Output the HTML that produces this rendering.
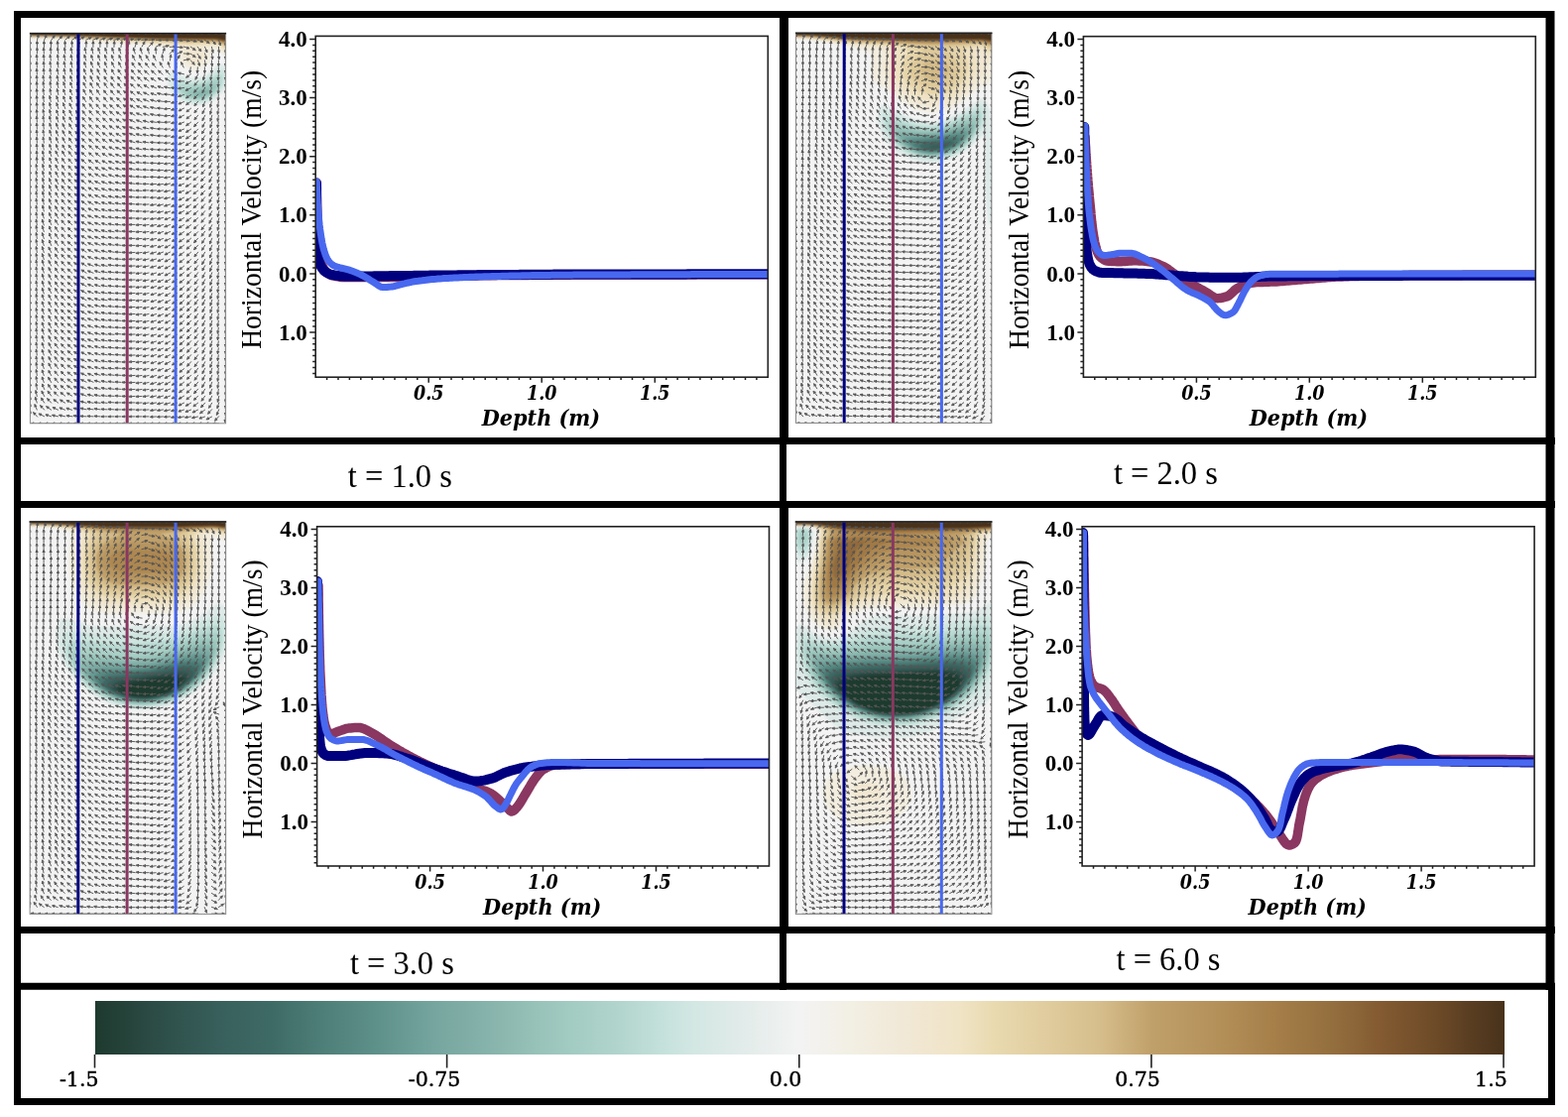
<!DOCTYPE html><html><head><meta charset="utf-8"><style>html,body{margin:0;padding:0;background:#fff;}svg{display:block}.yl{font-family:"Liberation Serif",serif;font-size:28.6px}.tk{font-family:"Liberation Serif",serif;font-weight:bold;font-size:23px}.xt{font-family:"DejaVu Serif Condensed","DejaVu Serif",serif;font-stretch:condensed;font-style:italic;font-weight:bold;font-size:19.5px}.xl{font-family:"DejaVu Serif Condensed","DejaVu Serif",serif;font-stretch:condensed;font-style:italic;font-weight:bold;font-size:23.1px}.cap{font-family:"Liberation Serif",serif;font-size:33.8px}.cb{font-family:"DejaVu Serif",serif;font-size:20.5px;stroke:#000;stroke-width:.45px}</style></head><body>
<svg width="1581" height="1126" viewBox="0 0 1581 1126">
<style>.sh{stroke-width:1.9}.h1{stroke-width:5.8}.h2{stroke-width:4}.h3{stroke-width:2.4}.dt{stroke-width:2.6}</style><defs><filter id="bl" x="-5%" y="-5%" width="110%" height="110%"><feGaussianBlur stdDeviation="0.9"/></filter><path id="a00" d="M-1 1l9-10m5 9l13-1m1 1l13 0m1 0l13 0m1 0l13 0m1 0l13 0m1 0l13 0m2 0l13 0m1 0l13 0m1 0l13 0m1 0l13 0m1 0l13 0m1 0l13 0m1 0l13 0m1 0l13 0m1 0l13 0m1 0l13 0m1 0l13 0m2 0l13 0m1 0l13 0m1 0l13 0m1 0l13 0m1 0l13 0m1 0l13 0m1 0l13 0m1 0l13 0m1 0l13 0m1 0l13 1m2-2l9 9m-403 7l0-13m14 13l3-13m11 13l5-12m9 12l8-11m6 11l9-10m5 9l10-8m4 8l11-7m3 7l12-7m2 7l12-6m2 6l12-5m2 5l12-4m2 4l13-4m1 4l13-3m1 3l13-3m1 3l13-2m1 2l13-2m1 2l13-1m1 1l13-1m2 1l13 0m1 0l13 0m1 0l13 1m1-1l13 1m1-1l13 2m1-2l13 3m1-4l12 5m2-5l11 8m4-8l8 10m6-10l4 12m10-12l0 13m-394 3l0-13m14 13l0-13m14 13l0-13m14 13l0-13m14 13l-1-13m16 13l-1-13m15 13l-1-13m15 13l-1-13m15 13l0-13m14 13l0-13m14 13l0-13m14 13l0-13m14 13l1-13m13 13l2-13m12 13l3-13m11 13l4-12m10 11l6-11m8 11l9-10m5 10l11-6m3 6l13-3m1 3l13-1m1 1l13 1m1-2l12 4m2-4l11 8m3-8l8 10m7-10l5 12m9-12l3 13m11-13l1 13m13-13l0 13m-394 2l0-13m14 13l0-13m14 13l-1-13m15 13l-1-13m16 13l-2-13m16 13l-2-13m16 13l-3-13m17 13l-3-13m17 13l-3-13m17 13l-3-13m17 13l-4-13m18 13l-4-13m18 13l-4-13m18 13l-4-13m19 13l-4-13m18 13l-4-13m18 13l-4-13m18 13l-3-13m17 13l-1-13m14 13l4-12m10 12l9-9m5 9l12-5m2 4l13 1m1-1l11 8m3-8l7 11m8-12l4 13m10-13l2 13m12-13l1 13m13-13l0 13m-394 3l0-13m14 13l-1-13m15 13l-1-13m15 13l-2-13m17 13l-2-13m16 13l-3-13m17 13l-3-13m17 13l-4-13m18 13l-4-13m18 13l-4-12m18 12l-4-12m18 12l-5-13m19 13l-5-12m20 12l-5-12m19 12l-5-12m19 12l-6-12m20 12l-6-12m20 12l-7-12m21 12l-6-12m20 12l-2-13m16 13l2-13m11 13l7-12m7 11l13-3m1 2l9 10m6-10l4 12m10-12l2 13m12-13l1 13m13-13l0 13m14-13l0 13m-394 3l0-13m14 13l-1-13m15 13l-1-13m15 13l-2-13m17 13l-2-13m16 13l-3-13m17 13l-3-13m17 13l-4-13m18 13l-4-12m18 12l-5-13m19 13l-5-12m19 12l-5-12m20 12l-6-12m20 12l-6-12m20 12l-6-11m20 11l-7-11m21 11l-8-11m22 11l-8-10m22 10l-8-10m22 10l-7-12m21 12l-4-12m18 12l-3-13m17 13l-6-12m20 10l-2 13m16-13l-1 13m15-13l0 13m14-13l0 13m14-13l0 13m14-13l0 13m-394 3l0-13m14 13l-1-13m15 13l-1-13m15 13l-2-13m17 13l-3-13m17 13l-3-13m17 13l-4-13m18 13l-4-12m18 12l-5-12m19 12l-5-12m19 12l-6-12m20 12l-6-12m21 12l-6-11m20 11l-7-11m21 11l-7-11m21 11l-8-10m22 10l-9-10m23 10l-10-9m24 9l-10-9m24 9l-10-9m24 9l-9-10m24 10l-10-9m24 8l-13-3m27 2l-11 8m25-8l-6 12m19-12l-3 13m17-13l-2 13m16-13l-1 13m15-13l0 13m-394 3l0-13m14 13l-1-13m15 13l-2-13m16 13l-2-13m17 13l-3-13m17 13l-4-13m18 13l-4-12m18 12l-5-13m19 13l-5-12m19 12l-6-12m20 12l-6-12m21 12l-7-11m21 11l-7-11m21 11l-8-11m22 10l-8-10m22 10l-9-10m23 10l-10-9m24 9l-11-8m25 8l-11-7m26 7l-12-7m26 7l-11-6m25 6l-12-5m26 5l-13 0m27-1l-12 6m26-6l-8 10m22-10l-5 12m18-12l-2 13m16-13l-1 13m15-13l0 13m-394 2l0-13m14 13l-1-13m15 13l-2-13m16 13l-2-13m17 13l-3-13m17 13l-4-13m18 13l-4-12m18 12l-5-12m19 12l-6-12m20 12l-6-11m20 11l-7-11m22 11l-7-11m21 11l-8-11m22 11l-8-10m22 10l-9-10m23 10l-10-9m24 9l-10-8m24 8l-11-7m26 7l-12-5m26 5l-12-4m26 4l-13-3m27 3l-13-1m27 0l-13 2m27-2l-12 6m26-6l-9 10m23-11l-6 12m19-12l-3 13m17-13l-1 13m15-13l0 13m-394 3l0-13m14 13l-1-13m15 13l-2-13m16 13l-2-13m17 13l-3-13m17 13l-4-12m18 12l-5-12m19 12l-6-12m20 12l-6-12m20 12l-7-11m21 11l-7-11m22 11l-8-10m22 10l-8-10m22 10l-9-10m23 10l-10-9m24 9l-10-8m24 8l-11-7m25 7l-12-6m27 6l-12-4m26 3l-13-3m27 3l-13-1m27 1l-13 1m27-1l-13 4m27-4l-11 7m25-8l-9 10m23-10l-6 12m19-12l-3 13m17-13l-1 13m15-13l0 13m-394 3l0-13m14 13l-1-13m15 13l-2-13m16 13l-3-13m18 13l-4-13m18 13l-4-12m18 12l-5-12m19 12l-6-12m20 12l-7-11m21 11l-7-11m21 11l-8-10m23 10l-8-10m22 10l-9-10m23 10l-10-9m24 9l-10-8m24 8l-11-8m25 8l-12-7m26 6l-12-5m27 5l-13-4m27 4l-13-2m27 2l-13 0m27 0l-13 3m27-3l-12 5m26-6l-11 8m25-8l-8 10m22-10l-5 12m18-12l-3 13m17-13l-2 13m16-13l0 13m-394 3l0-13m14 13l-1-13m15 13l-2-13m16 13l-3-13m18 13l-4-13m18 13l-5-13m19 13l-6-12m20 12l-6-11m20 11l-7-11m21 11l-8-11m22 11l-8-10m23 10l-9-10m23 10l-10-9m24 8l-10-8m24 8l-11-8m25 8l-11-7m25 7l-12-6m26 6l-12-5m27 5l-13-3m27 3l-13-1m27 1l-13 1m27-1l-13 3m27-4l-12 6m26-6l-10 8m24-8l-8 10m22-10l-6 12m19-12l-3 13m17-13l-2 13m16-13l0 13m-394 3l0-13m14 13l-1-13m15 13l-2-13m16 13l-3-13m18 13l-4-12m18 12l-5-12m19 12l-6-12m20 12l-7-11m21 11l-8-11m22 10l-8-10m23 10l-9-10m23 10l-10-9m24 9l-10-9m24 9l-11-8m25 8l-11-7m25 7l-11-6m25 6l-12-5m26 5l-12-4m27 4l-13-3m27 3l-13-1m27 1l-13 1m27-2l-13 3m27-3l-12 6m26-6l-10 8m24-8l-8 10m22-10l-6 12m20-12l-4 13m17-13l-2 13m16-13l0 13m-394 2l0-13m14 13l-1-13m15 13l-2-13m16 13l-3-13m18 13l-4-12m18 12l-5-12m19 12l-6-11m20 11l-7-11m21 11l-8-10m22 10l-9-10m24 10l-9-9m23 9l-10-9m24 9l-10-8m24 8l-11-7m25 7l-12-7m26 7l-12-6m26 6l-12-5m26 5l-13-4m28 4l-13-2m27 2l-13-1m27 0l-13 1m27-1l-13 3m27-3l-12 5m26-5l-11 8m25-8l-9 10m23-10l-6 11m20-12l-4 13m17-13l-2 13m16-13l0 13m-394 3l0-13m14 13l-1-13m15 13l-2-13m17 13l-4-13m18 13l-5-13m19 13l-6-12m20 12l-7-12m21 12l-8-11m22 11l-8-10m22 10l-9-10m24 10l-10-9m24 9l-10-8m24 8l-11-8m25 8l-11-7m25 7l-12-6m26 6l-12-5m26 5l-12-4m26 3l-13-3m28 3l-13-2m27 2l-13 0m27 0l-13 1m27-1l-13 3m27-3l-12 5m26-5l-11 7m25-7l-9 9m23-10l-7 11m21-11l-4 12m17-12l-2 13m16-13l0 13m-394 3l0-13m14 13l-1-13m15 13l-2-13m17 13l-4-13m18 13l-5-12m19 12l-6-12m20 12l-7-11m21 11l-8-10m22 10l-9-10m23 10l-9-9m24 9l-10-9m24 9l-11-8m25 8l-11-7m25 7l-11-6m25 5l-12-5m26 5l-12-5m26 5l-13-4m27 4l-13-3m28 3l-13-2m27 2l-13 0m27 0l-13 1m27-1l-13 3m27-3l-12 5m26-6l-11 7m25-7l-10 9m24-9l-7 11m21-11l-5 13m18-13l-2 13m16-13l0 13m-394 3l0-13m14 13l-1-13m15 13l-2-13m17 13l-4-13m18 13l-5-12m19 12l-6-12m20 12l-7-11m21 11l-8-10m22 10l-9-10m24 10l-10-9m24 8l-10-8m24 8l-11-8m25 8l-11-7m25 7l-12-6m26 6l-12-5m26 5l-12-4m26 4l-13-3m27 3l-13-2m28 2l-13-1m27 1l-13 0m27 0l-13 1m27-1l-13 3m27-4l-13 5m27-5l-12 7m26-7l-10 9m24-9l-8 11m22-11l-5 12m18-12l-2 13m16-13l0 13m-394 3l0-13m14 13l-1-13m15 13l-3-13m18 13l-4-12m18 12l-5-12m19 12l-6-11m20 11l-8-11m22 10l-8-10m22 10l-9-9m24 9l-10-9m24 9l-11-8m25 8l-11-7m25 7l-11-6m25 6l-12-5m26 5l-12-5m26 5l-13-4m27 4l-13-3m27 3l-13-2m28 2l-13-1m27 1l-13 0m27-1l-13 2m27-2l-13 3m27-3l-13 5m27-5l-12 7m26-7l-10 9m24-9l-8 11m22-11l-5 12m18-12l-2 13m16-13l0 13m-394 3l0-13m14 13l-1-13m15 13l-3-13m18 12l-4-12m18 12l-6-12m20 12l-7-12m21 12l-8-11m22 11l-9-10m23 10l-10-9m25 9l-10-8m24 8l-11-8m25 8l-11-7m25 7l-12-6m26 6l-12-5m26 5l-12-4m26 4l-13-3m27 3l-13-3m27 3l-13-2m28 2l-13-1m27 0l-13 0m27 0l-13 2m27-2l-13 3m27-3l-13 5m27-5l-11 6m25-6l-10 8m24-8l-8 10m22-10l-6 12m20-13l-3 13m16-13l0 13m-394 3l0-13m14 13l-1-13m15 13l-3-13m18 13l-4-12m18 12l-6-12m20 12l-7-11m21 11l-8-10m22 10l-9-10m23 10l-10-9m25 9l-11-8m25 8l-11-7m25 7l-11-6m25 6l-12-5m26 5l-12-5m26 5l-13-4m27 4l-13-3m27 2l-13-2m27 2l-13-1m28 1l-13 0m27 0l-13 1m27-1l-13 2m27-2l-13 3m27-3l-13 5m27-5l-11 6m25-6l-10 8m24-9l-8 10m22-10l-6 12m20-12l-3 13m16-13l0 13m-394 3l0-13m14 13l-2-13m16 13l-3-13m18 13l-4-12m18 12l-6-12m20 12l-7-11m21 11l-8-10m22 10l-9-9m23 9l-10-9m25 9l-11-8m25 8l-11-7m25 7l-12-6m26 5l-12-5m26 5l-12-4m26 4l-13-3m27 3l-13-3m27 3l-13-2m27 2l-13-1m28 1l-13 0m27 0l-13 1m27-1l-13 2m27-2l-13 3m27-3l-13 5m27-5l-11 6m25-7l-10 8m24-8l-8 10m22-10l-6 12m20-12l-3 13m16-13l0 13m-394 3l0-13m14 13l-2-13m16 13l-3-13m18 13l-4-12m18 12l-6-12m20 12l-7-11m21 11l-8-10m22 10l-9-9m23 9l-10-8m25 7l-11-7m25 7l-12-7m26 7l-12-5m26 5l-12-5m26 5l-13-4m27 4l-13-3m27 3l-13-2m27 2l-13-1m27 1l-13 0m28 0l-13 0m27 0l-13 1m27-1l-13 2m27-2l-13 4m27-5l-12 5m26-5l-11 6m25-6l-10 8m24-8l-9 10m23-10l-6 12m20-12l-3 13m16-13l0 13m-394 3l0-13m14 13l-2-13m16 13l-3-13m18 13l-5-13m19 13l-6-12m20 12l-7-11m21 10l-8-10m22 10l-10-9m24 9l-10-8m25 8l-11-7m25 7l-12-6m26 6l-12-5m26 5l-12-4m26 4l-13-4m27 4l-13-3m27 3l-13-2m27 2l-13-1m27 1l-13 0m28 0l-13 1m27-1l-13 2m27-3l-13 3m27-3l-13 4m27-4l-12 5m26-5l-12 7m26-7l-10 8m24-8l-9 10m23-10l-6 12m20-12l-3 13m16-13l0 13m-394 3l0-13m14 13l-2-13m16 13l-3-13m18 13l-5-13m19 12l-6-12m20 12l-8-11m22 11l-9-10m23 10l-10-9m25 9l-11-8m25 8l-11-7m25 7l-12-6m26 6l-12-5m26 5l-12-4m26 4l-13-3m27 3l-13-3m27 3l-13-2m27 2l-13-1m27 0l-13 0m28 0l-13 1m27-1l-13 2m27-2l-13 3m27-3l-12 4m26-4l-12 5m26-5l-12 7m26-7l-10 8m24-8l-9 10m23-10l-6 12m20-13l-3 13m16-13l0 13m-394 3l0-13m14 13l-2-13m16 13l-3-13m18 13l-5-12m19 12l-6-11m20 11l-8-11m22 11l-9-10m23 10l-10-9m25 9l-11-8m25 8l-11-7m25 7l-12-6m26 6l-12-5m26 5l-13-4m27 4l-13-3m27 2l-13-2m27 2l-13-1m27 1l-13 0m27 0l-13 0m28 0l-13 1m27-1l-13 2m27-2l-13 3m27-3l-12 4m26-4l-12 6m26-6l-11 7m25-7l-10 8m24-9l-8 10m22-10l-6 12m20-12l-3 13m16-13l0 13m-394 3l0-13m14 13l-2-13m16 13l-3-13m18 13l-5-12m19 12l-6-11m20 11l-8-11m22 11l-9-10m23 10l-10-9m25 9l-11-8m25 8l-12-7m26 6l-12-5m26 5l-12-4m26 4l-13-4m27 4l-13-3m27 3l-13-2m27 2l-13-1m27 1l-13 0m27 0l-13 1m28-1l-13 2m27-2l-13 3m27-3l-13 4m27-4l-13 5m27-5l-12 6m26-6l-11 7m25-8l-10 9m24-9l-8 10m22-10l-6 12m20-12l-3 13m16-13l0 13m-394 3l0-13m14 13l-2-13m16 13l-3-13m18 13l-5-12m19 12l-7-12m21 12l-8-10m22 10l-9-10m23 10l-10-8m25 8l-11-8m25 7l-11-6m25 6l-12-5m26 5l-12-4m26 4l-13-3m27 3l-13-3m27 3l-13-2m27 2l-13-1m27 1l-13 0m27 0l-13 1m28-1l-13 2m27-2l-13 3m27-3l-12 4m26-5l-12 5m26-5l-12 6m26-6l-11 7m25-7l-10 9m24-9l-8 10m22-10l-6 12m20-12l-3 13m16-13l0 13m-394 3l0-13m14 13l-2-13m16 13l-4-13m19 13l-5-12m19 12l-7-12m21 11l-8-10m22 10l-9-9m23 9l-10-8m25 8l-11-7m25 7l-12-6m26 6l-12-5m26 5l-12-4m26 4l-13-3m27 3l-13-2m27 2l-13-1m27 1l-13 0m27 0l-13 1m27-1l-13 2m28-2l-13 2m27-3l-13 3m27-3l-12 4m26-4l-12 5m26-5l-12 7m26-7l-11 8m25-8l-10 9m24-9l-8 10m22-10l-6 12m20-12l-3 13m16-13l0 13m-394 3l0-13m14 13l-2-13m16 13l-4-13m19 12l-5-12m19 12l-7-11m21 11l-8-10m22 10l-9-9m23 9l-10-8m25 8l-11-7m25 7l-12-6m26 6l-12-5m26 5l-12-4m26 4l-13-3m27 3l-13-2m27 2l-13-1m27 0l-13 0m27 0l-13 1m27-1l-13 2m28-2l-13 3m27-3l-13 4m27-4l-13 5m27-5l-12 6m26-6l-12 7m26-7l-11 8m25-8l-9 9m23-9l-8 11m22-11l-6 12m20-13l-3 13m16-13l0 13m-394 3l0-13m14 13l-2-13m16 13l-4-13m19 13l-5-12m19 12l-7-11m21 11l-8-10m22 10l-9-9m23 9l-10-8m25 8l-11-7m25 7l-12-6m26 6l-12-5m26 5l-13-4m27 4l-13-3m27 2l-13-2m27 2l-13-1m27 1l-13 0m27 0l-13 1m27-1l-13 2m28-2l-13 3m27-3l-12 4m26-4l-12 5m26-5l-12 6m26-6l-11 7m25-7l-10 8m24-8l-9 9m23-10l-8 11m22-11l-6 12m20-12l-3 13m16-13l0 13m-394 3l0-13m14 13l-2-13m16 13l-4-13m19 13l-5-12m19 12l-7-11m21 11l-8-10m22 10l-9-9m23 9l-10-8m25 8l-11-7m25 7l-12-6m26 6l-12-5m26 4l-13-4m27 4l-13-3m27 3l-13-2m27 2l-13-1m27 1l-13 0m27 0l-13 1m27-1l-13 2m28-2l-13 3m27-3l-12 4m26-4l-12 5m26-5l-11 6m25-6l-11 7m25-8l-10 9m24-9l-9 10m23-10l-7 11m21-11l-5 12m19-12l-3 13m16-13l0 13m-394 3l0-13m14 13l-2-13m16 13l-4-13m19 13l-5-12m19 12l-7-11m21 11l-8-10m22 10l-10-9m24 9l-10-8m25 7l-11-7m25 7l-12-6m26 6l-12-5m26 5l-13-4m27 4l-13-3m27 3l-13-2m27 2l-13 0m27 0l-13 0m27 0l-13 1m27-1l-13 2m28-2l-13 3m27-3l-12 4m26-5l-12 6m26-6l-12 7m26-7l-11 8m25-8l-10 9m24-9l-9 10m23-10l-7 11m21-11l-5 12m19-12l-3 13m16-13l0 13m-394 3l0-13m14 13l-2-13m16 13l-4-13m19 13l-6-12m20 12l-7-11m21 11l-8-10m22 9l-10-9m24 9l-10-8m25 8l-11-7m25 7l-12-6m26 6l-12-5m26 5l-13-4m27 4l-13-3m27 3l-13-1m27 1l-13 0m27 0l-13 1m27-1l-13 2m27-3l-13 3m28-3l-13 4m27-4l-13 5m27-5l-12 6m26-6l-12 7m26-7l-11 8m25-8l-10 9m24-9l-8 10m22-10l-7 11m21-11l-5 12m18-12l-2 13m16-13l0 13m-394 3l0-13m14 13l-2-13m16 13l-4-13m19 12l-6-12m20 12l-7-11m21 11l-8-10m22 10l-10-9m24 9l-11-8m26 8l-11-7m25 7l-12-6m26 6l-12-4m26 4l-13-3m27 3l-13-3m27 3l-13-1m27 1l-13 0m27-1l-13 1m27-1l-13 2m27-2l-13 3m28-3l-13 4m27-4l-12 5m26-5l-12 6m26-6l-11 7m25-7l-10 8m24-8l-9 9m23-9l-8 10m22-10l-7 12m21-13l-5 13m18-13l-2 13m16-13l0 13m-394 3l0-13m14 13l-2-13m16 13l-4-13m19 13l-6-12m20 12l-7-11m21 11l-8-10m22 10l-10-9m24 9l-11-8m26 8l-11-7m25 7l-12-5m26 5l-12-4m26 4l-13-3m27 2l-13-2m27 2l-13-1m27 1l-13 0m27 0l-13 1m27-1l-13 2m27-2l-13 3m28-3l-13 4m27-4l-12 5m26-5l-12 6m26-6l-11 7m25-7l-10 8m24-8l-9 9m23-10l-8 11m22-11l-6 11m20-11l-5 13m18-13l-2 13m16-13l0 13m-394 3l0-13m14 13l-2-13m16 13l-4-13m19 13l-6-12m20 12l-7-11m21 11l-8-10m22 10l-10-9m24 9l-11-8m26 8l-11-7m25 7l-12-5m26 4l-12-4m26 4l-13-3m27 3l-13-2m27 2l-13-1m27 1l-13 0m27 0l-13 1m27-1l-13 2m27-2l-13 3m28-3l-12 4m26-4l-12 5m26-5l-12 6m26-6l-11 7m25-8l-10 8m24-8l-9 9m23-9l-8 11m22-11l-6 12m20-12l-5 13m18-13l-2 13m16-13l0 13m-394 3l0-13m14 13l-2-13m16 13l-4-13m19 13l-6-12m20 12l-7-11m21 11l-9-10m23 10l-10-9m24 9l-11-8m26 7l-12-7m26 7l-12-5m26 5l-12-4m26 4l-13-3m27 3l-13-2m27 2l-13-1m27 1l-13 0m27 0l-13 1m27-1l-13 2m27-2l-13 3m28-3l-12 4m26-4l-12 5m26-6l-11 6m25-6l-11 7m25-7l-10 8m24-8l-9 10m23-10l-8 11m22-11l-6 12m20-12l-4 12m17-12l-2 13m16-13l0 13m-394 3l0-13m14 13l-2-13m16 13l-4-13m19 13l-6-12m20 12l-7-11m21 11l-9-10m23 9l-10-9m24 9l-11-8m26 8l-12-7m26 7l-12-5m26 5l-12-4m26 4l-13-3m27 3l-13-2m27 2l-13-1m27 1l-13 0m27 0l-13 1m27-1l-13 2m27-3l-13 3m28-3l-12 4m26-4l-12 5m26-5l-11 6m25-6l-11 8m25-8l-10 9m24-9l-9 10m23-10l-8 11m22-11l-6 12m20-12l-4 12m17-12l-2 13m16-13l0 13m-394 3l0-13m14 13l-2-13m16 13l-4-13m19 12l-6-12m20 12l-7-11m21 11l-9-10m23 10l-10-9m24 9l-11-8m26 8l-12-7m26 7l-12-5m26 5l-12-4m26 4l-13-3m27 3l-13-2m27 2l-13-1m27 1l-13 0m27-1l-13 1m27-1l-13 2m27-2l-13 3m28-3l-12 4m26-4l-12 5m26-5l-11 6m25-6l-11 8m25-8l-10 9m24-9l-9 10m23-10l-8 11m22-11l-6 12m20-12l-4 12m17-13l-2 13m16-13l0 13m-394 3l0-13m14 13l-2-13m16 13l-4-12m19 12l-6-12m20 12l-7-11m21 11l-9-10m23 10l-10-9m24 9l-11-8m26 8l-12-7m26 7l-12-5m26 5l-12-4m26 4l-13-3m27 2l-13-2m27 2l-13-1m27 1l-13 0m27 0l-13 1m27-1l-13 2m27-2l-13 3m28-3l-12 4m26-4l-12 5m26-5l-11 6m25-6l-11 8m25-8l-10 9m24-9l-9 10m23-11l-8 11m22-11l-6 12m20-12l-4 13m17-13l-2 13m16-13l0 13m-394 3l0-13m14 13l-2-13m16 13l-4-12m19 12l-6-12m20 12l-7-11m21 11l-9-10m23 10l-10-9m24 9l-11-8m26 8l-12-7m26 7l-12-5m26 4l-12-4m26 4l-13-3m27 3l-13-2m27 2l-13-1m27 1l-13 0m27 0l-13 1m27-1l-13 2m27-2l-13 3m28-3l-12 4m26-4l-12 5m26-5l-11 6m25-6l-11 8m25-9l-10 9m24-9l-9 10m23-10l-8 11m22-11l-6 12m20-12l-4 13m17-13l-2 13m16-13l0 13m-394 3l0-13m14 13l-2-13m16 13l-4-12m19 12l-6-12m20 12l-7-11m21 11l-9-10m23 10l-10-9m24 9l-11-8m26 8l-12-7m26 6l-12-5m26 5l-12-4m26 4l-13-3m27 3l-13-2m27 2l-13-1m27 1l-13 0m27 0l-13 1m27-1l-13 2m27-2l-13 3m28-3l-12 4m26-4l-12 5m26-6l-11 6m25-6l-11 8m25-8l-10 9m24-9l-9 10m23-10l-8 11m22-11l-6 12m20-12l-4 13m17-13l-2 13m16-13l0 13m-394 3l0-13m14 13l-2-13m16 13l-4-12m19 12l-6-12m20 12l-7-11m21 11l-9-10m23 9l-10-9m24 9l-11-8m26 8l-11-6m25 6l-12-5m26 5l-12-4m26 4l-13-3m27 3l-13-2m27 2l-13-1m27 1l-13 0m27 0l-13 1m27-1l-13 2m27-2l-13 3m28-4l-12 4m26-4l-12 5m26-5l-11 6m25-6l-11 8m25-8l-10 9m24-9l-9 10m23-10l-8 11m22-11l-6 12m20-12l-4 13m17-13l-2 13m16-13l0 13m-394 3l0-13m14 13l-2-13m16 13l-4-12m19 12l-6-12m20 11l-7-11m21 11l-9-10m23 10l-10-9m24 9l-11-8m26 8l-11-6m25 6l-12-5m26 5l-12-4m26 4l-13-3m27 3l-13-2m27 2l-13-1m27 1l-13 0m27-1l-13 1m27-1l-13 2m27-2l-13 3m28-3l-12 4m26-4l-12 5m26-5l-11 6m25-6l-11 8m25-8l-10 9m24-9l-9 10m23-10l-8 11m22-11l-6 12m20-12l-4 13m17-13l-2 13m16-13l0 13m-394 2l0-13m14 13l-2-13m16 13l-4-12m19 12l-6-12m20 12l-8-11m22 11l-9-10m23 10l-10-9m24 9l-11-8m26 8l-11-6m25 6l-12-5m26 5l-12-4m26 4l-13-3m27 3l-13-2m27 1l-13-1m27 1l-13 0m27 0l-13 1m27-1l-13 2m27-2l-13 3m28-3l-12 4m26-4l-12 5m26-5l-11 6m25-6l-11 8m25-8l-10 9m24-9l-9 10m23-11l-8 11m22-11l-6 12m20-12l-4 13m17-13l-2 13m16-13l0 13m-394 3l0-13m14 13l-2-13m16 13l-4-12m19 12l-6-12m20 12l-8-11m22 11l-9-10m23 10l-10-9m24 9l-11-8m26 8l-11-6m25 6l-12-5m26 4l-12-4m26 4l-13-3m27 3l-13-2m27 2l-13-1m27 1l-13 0m27 0l-13 1m27-1l-13 2m27-2l-13 3m28-3l-12 4m26-4l-12 5m26-5l-11 6m25-6l-11 8m25-9l-10 9m24-9l-9 10m23-10l-8 11m22-11l-6 12m20-12l-4 13m17-13l-2 13m16-13l0 13m-394 3l0-13m14 13l-2-13m16 13l-4-12m19 12l-6-12m20 12l-8-11m22 11l-9-10m23 10l-10-9m24 9l-11-8m26 7l-11-6m25 6l-12-5m26 5l-12-4m26 4l-13-3m27 3l-13-2m27 2l-13-1m27 1l-13 0m27 0l-13 1m27-1l-13 2m27-2l-13 3m28-3l-12 4m26-4l-12 5m26-6l-11 6m25-6l-11 8m25-8l-10 9m24-9l-9 10m23-10l-8 11m22-11l-6 12m20-12l-4 13m17-13l-2 13m16-13l0 13m-394 3l0-13m14 13l-2-13m16 13l-4-12m19 12l-6-12m20 12l-8-11m22 11l-9-10m23 9l-10-9m24 9l-11-7m26 7l-11-6m25 6l-12-5m26 5l-12-4m26 4l-13-3m27 3l-13-2m27 2l-13-1m27 1l-13 0m27 0l-13 1m27-1l-13 2m27-2l-13 3m28-4l-12 4m26-4l-12 5m26-5l-11 6m25-6l-11 7m25-7l-10 9m24-9l-9 10m23-10l-8 11m22-11l-6 12m20-12l-4 13m17-13l-2 13m16-13l0 13m-394 3l0-13m14 13l-2-13m16 13l-4-12m19 12l-6-12m20 11l-8-11m22 11l-9-10m23 10l-10-8m24 8l-11-7m26 7l-12-6m26 6l-12-5m26 5l-12-4m26 4l-13-3m27 3l-13-2m27 2l-13-1m27 1l-13 0m27-1l-13 1m27-1l-13 2m27-2l-13 3m28-3l-12 4m26-4l-12 5m26-5l-12 6m26-6l-11 7m25-7l-10 8m24-8l-9 10m23-10l-8 11m22-11l-6 12m20-12l-4 12m17-12l-2 13m16-13l0 13m-394 2l0-13m14 13l-2-13m16 13l-4-12m19 12l-6-12m20 12l-8-11m22 11l-9-10m23 10l-10-8m24 8l-11-7m26 7l-12-6m26 6l-12-5m26 5l-12-4m26 4l-13-3m27 3l-13-2m27 1l-13-1m27 1l-13 0m27 0l-13 1m27-1l-13 2m27-2l-13 3m28-3l-12 4m26-4l-12 5m26-5l-12 6m26-6l-11 7m25-7l-10 8m24-8l-9 10m23-11l-8 11m22-11l-6 12m20-12l-4 12m17-12l-2 13m16-13l0 13m-394 3l0-13m14 13l-2-13m16 13l-4-12m19 12l-6-11m20 11l-8-10m22 10l-9-9m23 9l-10-8m24 8l-11-7m26 7l-12-6m26 6l-12-5m26 4l-13-4m27 4l-13-3m27 3l-13-2m27 2l-13-1m27 1l-13 0m27 0l-13 1m27-1l-13 2m27-2l-13 3m28-3l-13 4m27-4l-12 5m26-5l-12 6m26-6l-11 7m25-7l-10 8m24-9l-9 9m23-9l-8 11m22-11l-6 11m20-11l-5 13m18-13l-2 13m16-13l0 13m-394 3l0-13m14 13l-2-13m16 13l-4-12m19 12l-7-12m21 12l-8-10m22 10l-10-9m24 9l-10-8m24 8l-11-7m26 6l-12-6m26 6l-12-5m26 5l-13-4m27 4l-13-3m27 3l-13-2m27 2l-13-1m27 1l-13 0m27 0l-13 1m27-1l-13 2m27-2l-13 3m28-3l-13 4m27-4l-13 5m27-6l-12 6m26-6l-12 7m26-7l-10 8m24-8l-10 9m24-9l-8 10m22-10l-7 12m21-12l-5 13m18-13l-2 13m16-13l0 13m-394 3l0-13m14 13l-2-13m17 13l-5-12m19 12l-7-11m21 11l-9-10m23 10l-10-9m24 8l-11-8m25 8l-11-6m26 6l-12-5m26 5l-12-4m26 4l-13-3m27 3l-13-3m27 3l-13-2m27 2l-13-1m27 1l-13 0m27 0l-13 1m27-1l-13 2m27-2l-13 2m28-2l-13 3m27-4l-12 4m26-4l-12 5m26-5l-11 6m25-6l-11 8m25-8l-10 9m24-9l-9 10m23-10l-7 11m21-11l-5 12m18-12l-2 13m16-13l0 13m-394 3l0-13m14 13l-3-13m18 13l-6-12m20 11l-8-11m22 11l-9-9m23 9l-10-8m24 8l-11-7m26 7l-12-6m26 6l-12-5m26 5l-13-4m27 4l-13-3m27 3l-13-2m27 2l-13-1m27 1l-13-1m27 1l-13 0m27 0l-13 1m27-1l-13 1m27-2l-13 2m28-2l-13 3m27-3l-13 4m27-4l-13 5m27-5l-12 6m26-6l-12 7m26-7l-10 8m24-8l-9 9m23-9l-8 11m22-11l-6 12m20-12l-3 13m16-13l0 13m-394 2l0-13m14 13l-4-13m19 13l-7-11m21 11l-9-10m23 10l-10-8m24 8l-11-7m25 7l-12-6m27 6l-12-5m26 5l-13-4m27 4l-13-3m27 3l-13-2m27 2l-13-2m27 1l-13-1m27 1l-13 0m27 0l-13 0m27 0l-13 0m27 0l-13 1m27-1l-13 2m28-2l-13 2m27-2l-13 3m27-3l-13 4m27-4l-13 5m27-5l-12 6m26-6l-12 7m26-7l-10 8m24-8l-9 10m23-10l-7 11m21-12l-4 13m17-13l0 13m-394 3l0-13m14 13l-5-12m20 12l-9-10m23 10l-11-8m25 8l-12-6m26 6l-12-5m26 5l-12-4m27 3l-13-3m27 3l-13-3m27 3l-13-2m27 2l-13-2m27 2l-13-1m27 1l-13-1m27 1l-13 0m27 0l-13 0m27 0l-13 0m27 0l-13 1m27-1l-13 1m28-1l-13 2m27-2l-13 2m27-2l-13 3m27-3l-13 3m27-3l-12 4m26-4l-12 5m26-5l-12 6m26-6l-11 8m25-9l-9 10m23-10l-5 12m18-12l0 13m-394 3l0-13m15 13l-9-10m23 9l-12-6m26 6l-12-4m26 4l-13-3m27 3l-13-3m28 3l-13-2m27 2l-13-2m27 2l-13-1m27 1l-13-1m27 1l-13-1m27 1l-13 0m27 0l-13 0m27 0l-13 0m27 0l-13 0m27 0l-13 0m27 0l-13 0m27 0l-13 0m28 0l-13 1m27-1l-13 1m27-1l-13 1m27-1l-13 2m27-2l-13 2m27-2l-13 2m27-2l-13 3m27-3l-12 4m26-4l-12 6m26-7l-9 10m22-10l-1 13m-392 3l-9-9m23 8l-13 0m27 0l-13 0m27 0l-13 0m27 0l-13 0m27 0l-13 0m28 0l-13 0m27 0l-13 0m27 0l-13 0m27 0l-13 0m27 0l-13 0m27 0l-13 0m27 0l-13 0m27 0l-13 0m27 0l-13 0m27 0l-13 0m27 0l-13 0m27 0l-13 0m28 0l-13 0m27 0l-13 0m27 0l-13 0m27 0l-13 0m27 0l-13 0m27 0l-13 0m27 0l-13 0m27 0l-13 0m27 0l-13 0m27 0l-13 0m27-1l-9 9"/><clipPath id="fc0"><rect width="197.2" height="393.4"/></clipPath><path id="a10" d="M-1 1l9-10m5 9l13-1m1 1l13 0m1 0l13 0m1 0l13 0m1 0l13 0m2 0l13 0m1 0l13 0m1 0l13 0m1 0l13 0m1 0l13 0m1 0l13 0m1 0l13 0m1 0l13 0m1 0l13 0m1 0l13 0m2 0l13 0m1 0l13 0m1 0l13 0m1 0l13 0m1 0l13 0m1 0l13 0m1 0l13 0m1 0l13 0m1 0l13 0m1 0l13 0m2 0l13 0m1 0l13 1m1-2l9 9m-403 7l0-13m14 13l3-13m11 13l6-12m8 12l8-10m6 10l10-9m4 8l11-8m3 8l12-7m2 7l12-6m2 6l13-5m1 5l13-4m1 4l13-3m1 3l13-3m1 3l13-2m1 2l13-2m1 2l13-1m1 1l13 0m2 0l13 0m1 0l13 1m1-1l13 1m1-1l13 2m1-2l13 2m1-2l13 3m1-4l12 4m2-4l12 5m3-5l11 7m3-7l10 9m4-9l8 11m6-11l4 12m11-12l0 13m-395 3l0-13m14 13l0-13m14 13l0-13m14 13l1-13m13 13l1-13m13 13l1-13m14 13l1-13m13 13l2-13m12 13l2-13m12 13l3-13m11 13l4-13m10 13l5-13m9 13l6-12m8 11l8-10m6 10l10-8m4 8l12-5m2 5l13-2m1 2l13 1m1-2l12 4m2-4l12 7m2-7l10 8m4-8l9 10m6-10l7 11m7-11l6 12m8-12l4 12m10-12l3 13m11-13l2 13m13-13l1 13m13-13l0 13m-395 2l0-13m14 13l0-13m14 13l0-13m14 13l0-13m14 13l0-13m15 13l-1-13m15 13l-1-13m15 13l-1-13m15 13l-1-13m15 13l-1-13m15 13l-1-13m15 13l0-13m14 13l1-13m13 13l2-13m12 13l5-12m9 12l9-10m5 10l12-5m2 4l13 0m1 0l13 4m1-4l11 7m3-7l9 9m5-9l8 11m7-12l6 12m8-12l5 13m9-13l3 13m11-13l2 13m13-13l1 13m13-13l1 13m13-13l0 13m-395 3l0-13m14 13l0-13m14 13l0-13m14 13l-1-13m15 13l-1-13m16 13l-1-13m15 13l-1-13m15 13l-1-13m15 13l-2-13m16 13l-2-13m16 13l-1-13m15 13l-1-13m15 13l0-13m14 13l2-13m12 13l4-12m10 12l8-11m6 11l11-7m3 6l13-3m1 3l13 2m1-2l12 6m2-6l10 8m4-9l8 10m7-10l7 12m7-12l5 12m9-12l3 13m11-13l2 13m13-13l1 13m13-13l1 13m13-13l0 13m-395 3l0-13m14 13l0-13m14 13l0-13m14 13l-1-13m15 13l-1-13m16 13l-1-13m15 13l-2-13m16 13l-2-13m16 13l-2-13m16 13l-2-13m16 13l-2-13m16 13l-1-13m15 13l0-13m14 13l1-13m13 13l4-13m10 13l7-12m7 12l10-9m4 8l12-5m2 5l13 0m1 0l12 4m2-5l11 8m3-8l9 10m6-10l7 12m7-12l5 12m9-12l3 13m11-13l2 13m13-13l1 13m13-13l1 13m13-13l0 13m-395 3l0-13m14 13l0-13m14 13l-1-13m15 13l-1-13m15 13l-1-13m16 13l-2-13m16 13l-2-13m16 13l-2-13m16 13l-2-13m16 13l-2-13m16 13l-2-13m16 13l-2-13m16 13l-1-13m15 13l0-13m14 13l2-13m12 13l5-12m9 12l8-10m6 9l11-7m3 7l13-2m1 1l13 4m1-4l11 8m3-8l8 10m7-10l6 12m8-12l4 12m10-12l3 13m11-13l2 13m13-13l1 13m13-13l1 13m13-13l0 13m-395 3l0-13m14 13l0-13m14 13l-1-13m15 13l-1-13m15 13l-1-13m16 13l-2-13m16 13l-2-13m16 13l-2-13m16 13l-3-13m17 13l-3-13m17 13l-3-13m17 13l-2-13m16 13l-2-13m16 13l0-13m14 13l1-13m13 13l3-13m11 13l6-12m8 11l9-10m5 10l12-4m2 3l13 3m1-3l10 9m5-9l7 11m7-11l5 12m9-12l4 13m10-13l2 13m12-13l1 13m14-13l1 13m13-13l0 13m14-13l0 13m-395 2l0-13m14 13l0-13m14 13l-1-13m15 13l-1-13m16 13l-2-13m16 13l-2-13m16 13l-2-13m16 13l-3-13m17 13l-3-13m17 13l-4-13m18 13l-4-13m18 13l-3-13m17 13l-3-13m17 13l-2-13m16 13l0-13m14 13l1-13m13 13l3-13m11 13l5-12m9 12l10-8m4 7l13 4m1-4l8 11m7-12l5 12m9-12l3 13m11-13l2 13m12-13l1 13m13-13l1 13m14-13l1 13m13-13l0 13m14-13l0 13m-395 3l0-13m14 13l0-13m14 13l-1-13m15 13l-1-13m16 13l-2-13m16 13l-2-13m16 13l-3-13m17 13l-3-13m17 13l-4-13m18 13l-4-12m18 12l-4-12m18 12l-4-12m19 12l-4-13m18 13l-3-13m17 13l-2-13m16 13l-2-13m16 13l-1-13m15 13l0-13m14 13l2-13m11 11l9 10m6-10l2 13m12-13l1 13m13-13l1 13m13-13l1 13m13-13l0 13m14-13l0 13m15-13l0 13m14-13l0 13m14-13l0 13m-395 3l0-13m14 13l0-13m14 13l-1-13m15 13l-2-13m17 13l-2-13m16 13l-3-13m17 13l-3-13m17 13l-4-13m18 13l-4-12m18 12l-5-13m19 13l-5-12m20 12l-5-12m19 12l-5-12m19 12l-5-13m19 13l-4-12m18 12l-4-12m18 12l-5-13m19 13l-6-12m21 12l-9-10m23 9l-13 3m26-4l-6 12m20-12l-3 13m17-13l-2 13m16-13l-2 13m16-13l-1 13m16-13l-1 13m15-13l-1 13m15-13l0 13m14-13l0 13m-395 3l0-13m14 13l-1-13m15 13l-1-13m15 13l-2-13m17 13l-2-13m16 13l-3-13m17 13l-4-13m18 13l-4-12m18 12l-5-12m19 12l-5-12m19 12l-6-12m21 12l-6-12m20 12l-6-12m20 12l-6-12m20 12l-6-12m20 12l-7-12m21 12l-8-11m22 11l-9-9m24 8l-12-6m26 6l-13 1m27-2l-10 8m24-8l-7 11m21-11l-5 12m19-12l-4 13m18-13l-2 13m16-13l-2 13m16-13l-1 13m15-13l-1 13m15-13l0 13m-395 3l0-13m14 13l-1-13m15 13l-1-13m15 13l-2-13m17 13l-3-13m17 13l-4-13m18 13l-4-12m18 12l-5-12m19 12l-6-12m20 12l-6-12m21 12l-7-12m21 11l-7-11m21 11l-7-11m21 11l-7-11m21 11l-8-11m22 11l-8-10m22 10l-10-9m25 9l-11-7m25 7l-12-4m26 4l-13 1m27-2l-12 6m26-6l-9 9m23-9l-7 11m21-11l-5 12m19-12l-4 13m18-13l-2 13m16-13l-2 13m16-13l-1 13m15-13l0 13m-395 2l0-13m14 13l-1-13m15 13l-2-13m16 13l-2-13m17 13l-3-13m17 13l-4-12m18 12l-5-13m19 13l-5-12m19 12l-6-12m20 12l-7-11m22 11l-7-11m21 11l-8-11m22 11l-8-10m22 10l-8-10m22 10l-9-10m23 10l-10-9m24 9l-11-8m26 8l-12-6m26 6l-13-3m27 2l-13 1m27-1l-13 5m27-5l-11 8m25-8l-9 10m23-10l-7 11m21-12l-5 12m19-12l-3 13m17-13l-2 13m16-13l-1 13m15-13l0 13m-395 3l0-13m14 13l-1-13m15 13l-2-13m17 13l-3-13m17 13l-3-13m17 13l-4-12m18 12l-5-12m19 12l-6-12m20 12l-7-12m21 12l-7-11m22 11l-8-10m22 10l-8-10m22 10l-9-10m23 10l-10-9m24 9l-10-8m24 8l-11-8m25 8l-11-6m26 6l-12-4m26 3l-13-2m27 2l-13 1m27-1l-12 4m26-4l-12 7m26-8l-10 9m24-9l-8 11m22-11l-6 12m20-12l-4 13m18-13l-2 13m16-13l-1 13m15-13l0 13m-395 3l0-13m14 13l-1-13m15 13l-2-13m17 13l-3-13m17 13l-4-13m18 13l-5-13m19 13l-6-12m20 12l-6-11m20 11l-7-11m22 11l-8-11m22 11l-8-10m22 10l-9-9m23 9l-10-9m24 9l-10-8m24 8l-11-8m25 8l-12-7m27 6l-12-5m26 5l-13-4m27 4l-13-1m27 1l-13 1m27-1l-13 4m27-4l-12 6m26-7l-10 8m24-8l-8 10m22-10l-6 11m20-11l-5 13m19-13l-2 13m16-13l-1 13m15-13l0 13m-395 3l0-13m14 13l-1-13m15 13l-2-13m17 13l-3-13m17 13l-4-12m18 12l-5-12m19 12l-6-12m20 12l-7-11m21 11l-8-11m23 11l-8-10m22 10l-9-10m23 10l-10-9m24 8l-10-8m24 8l-11-8m25 8l-12-7m26 7l-12-5m27 5l-12-4m26 4l-13-3m27 3l-13-1m27 1l-13 1m27-2l-13 4m27-4l-12 6m26-6l-11 8m25-8l-9 10m23-10l-7 11m21-11l-5 12m19-12l-3 13m17-13l-1 13m15-13l0 13m-395 3l0-13m14 13l-1-13m15 13l-2-13m17 13l-3-13m17 13l-4-12m18 12l-6-12m20 11l-6-11m20 11l-7-11m21 11l-8-10m23 10l-9-10m23 10l-10-9m24 9l-10-8m24 8l-11-8m25 8l-11-7m25 7l-12-6m26 6l-12-5m27 5l-13-4m27 4l-13-2m27 2l-13 0m27-1l-13 2m27-2l-13 4m27-4l-12 6m26-6l-11 8m25-8l-9 9m23-9l-7 11m21-11l-5 12m19-12l-3 13m17-13l-2 13m16-13l0 13m-395 2l0-13m14 13l-1-13m15 13l-2-13m17 13l-4-13m18 13l-5-13m19 13l-6-12m20 12l-7-11m21 11l-8-11m22 11l-8-10m23 10l-9-9m23 9l-10-9m24 9l-11-8m25 8l-11-7m25 7l-11-6m25 6l-12-5m26 5l-12-4m27 4l-13-3m27 3l-13-2m27 1l-13 0m27 0l-13 2m27-2l-13 4m27-4l-12 6m26-6l-11 7m25-7l-9 9m23-9l-8 11m22-12l-5 12m19-12l-3 13m17-13l-2 13m16-13l0 13m-395 3l0-13m14 13l-1-13m15 13l-3-13m18 13l-4-13m18 13l-5-12m19 12l-6-12m20 12l-7-11m21 11l-8-10m23 10l-9-10m23 10l-10-9m24 9l-10-8m24 8l-11-8m25 8l-11-7m25 7l-12-6m26 6l-12-5m27 5l-13-4m27 3l-13-3m27 3l-13-1m27 1l-13 0m27 0l-13 2m27-2l-13 4m27-4l-12 5m26-5l-11 7m25-8l-10 9m24-9l-8 11m22-11l-6 12m20-12l-3 13m17-13l-2 13m16-13l0 13m-395 3l0-13m14 13l-1-13m15 13l-3-13m18 13l-4-12m18 12l-5-12m19 12l-7-12m21 12l-8-11m22 11l-8-10m23 10l-9-9m23 9l-10-9m24 9l-10-8m24 8l-11-7m25 6l-11-6m25 6l-12-5m26 5l-12-4m27 4l-13-3m27 3l-13-2m27 2l-13-1m27 1l-13 1m27-1l-13 2m27-2l-13 4m27-4l-12 5m26-6l-11 7m25-7l-10 9m24-9l-8 11m22-11l-6 12m20-12l-4 13m18-13l-2 13m16-13l0 13m-395 3l0-13m14 13l-2-13m16 13l-3-13m18 13l-4-12m18 12l-6-12m20 12l-7-11m21 11l-8-11m22 11l-9-10m24 10l-10-9m24 8l-10-8m24 8l-11-8m25 8l-11-7m25 7l-12-6m26 6l-12-5m26 5l-12-4m27 4l-13-3m27 3l-13-2m27 2l-13-1m27 1l-13 1m27-1l-13 2m27-3l-13 4m27-4l-12 5m26-5l-11 7m25-7l-10 9m24-9l-8 10m22-10l-6 12m20-12l-4 13m18-13l-2 13m16-13l0 13m-395 3l0-13m14 13l-2-13m16 13l-3-13m18 13l-5-13m19 13l-6-12m20 11l-7-11m21 11l-8-10m22 10l-9-10m24 10l-10-9m24 9l-10-8m24 8l-11-7m25 7l-12-7m26 7l-12-6m26 6l-12-5m26 5l-13-4m28 4l-13-3m27 3l-13-2m27 2l-13 0m27 0l-13 1m27-2l-13 2m27-2l-13 4m27-4l-12 5m26-5l-12 7m26-7l-10 8m24-8l-8 10m22-10l-6 11m20-11l-4 13m18-13l-2 13m16-13l0 13m-395 2l0-13m14 13l-2-13m16 13l-3-13m18 13l-5-12m19 12l-6-12m20 12l-7-11m21 11l-8-10m22 10l-9-9m24 9l-10-9m24 9l-11-8m25 8l-11-7m25 7l-12-6m26 6l-12-5m26 5l-12-4m26 4l-13-4m28 4l-13-3m27 3l-13-2m27 1l-13 0m27 0l-13 1m27-1l-13 2m27-2l-13 3m27-3l-12 5m26-5l-11 6m25-6l-10 8m24-8l-9 10m23-11l-7 12m21-12l-4 12m18-12l-2 13m16-13l0 13m-395 3l0-13m14 13l-2-13m17 13l-4-13m18 13l-5-12m19 12l-7-12m21 12l-8-11m22 11l-9-10m24 10l-10-9m24 9l-10-8m24 8l-11-8m25 8l-11-7m25 7l-12-6m26 6l-12-5m26 5l-12-4m26 3l-13-3m28 3l-13-3m27 3l-13-1m27 1l-13 0m27 0l-13 1m27-1l-13 2m27-2l-13 3m27-3l-13 5m27-5l-12 6m26-6l-11 8m25-9l-9 10m23-10l-7 11m21-11l-5 13m19-13l-2 13m16-13l0 13m-395 3l0-13m14 13l-2-13m17 13l-4-13m18 13l-5-12m19 12l-7-11m21 11l-8-10m22 10l-9-10m24 10l-10-9m24 9l-10-8m24 8l-11-7m25 7l-12-7m26 6l-12-6m26 6l-12-5m26 5l-12-4m26 4l-13-3m28 3l-13-2m27 2l-13-1m27 1l-13 0m27 0l-13 1m27-1l-13 2m27-2l-13 3m27-3l-12 4m26-4l-12 6m26-7l-11 8m25-8l-9 9m23-9l-7 11m21-11l-5 13m19-13l-2 13m16-13l0 13m-395 3l0-13m14 13l-2-13m17 13l-4-13m18 13l-6-12m20 12l-7-11m21 11l-8-10m22 10l-9-9m24 9l-10-9m24 8l-11-8m25 8l-11-7m25 7l-11-6m25 6l-12-5m26 5l-12-5m26 5l-13-4m27 4l-13-3m28 3l-13-2m27 2l-13-1m27 1l-13 0m27 0l-13 1m27-1l-13 2m27-2l-13 3m27-4l-12 4m26-4l-12 6m26-6l-11 7m25-7l-10 9m24-9l-8 11m22-11l-5 12m19-12l-2 13m16-13l0 13m-395 3l0-13m14 13l-2-13m17 13l-4-12m18 12l-6-12m20 11l-7-11m21 11l-8-10m22 10l-9-9m24 9l-10-8m24 8l-11-8m25 8l-11-7m25 7l-12-6m26 6l-12-5m26 5l-12-4m26 4l-13-4m27 4l-13-3m28 3l-13-2m27 2l-13-1m27 1l-13 0m27 0l-13 1m27-2l-13 2m27-2l-13 3m27-3l-12 4m26-4l-12 6m26-6l-11 7m25-7l-10 9m24-9l-8 11m22-11l-5 12m19-12l-2 13m16-13l0 13m-395 2l0-13m14 13l-2-13m17 13l-4-12m18 12l-6-12m20 12l-7-11m21 11l-9-10m23 10l-10-9m25 9l-10-8m24 8l-11-7m25 7l-12-7m26 7l-12-6m26 6l-12-5m26 5l-12-4m26 4l-13-3m27 3l-13-3m28 3l-13-2m27 1l-13-1m27 1l-13 0m27 0l-13 1m27-1l-13 2m27-2l-13 3m27-3l-12 4m26-4l-12 5m26-5l-11 7m25-7l-10 9m24-9l-8 11m22-12l-5 12m19-12l-2 13m16-13l0 13m-395 3l0-13m14 13l-2-13m17 13l-4-12m18 12l-6-12m20 12l-8-11m22 11l-9-10m23 10l-10-9m25 9l-10-8m24 8l-11-7m25 7l-11-6m25 6l-12-5m26 5l-12-5m26 5l-12-4m26 3l-13-3m27 3l-13-3m28 3l-13-2m27 2l-13-1m27 1l-13 0m27 0l-13 1m27-1l-13 2m27-2l-13 3m27-3l-13 4m27-4l-12 5m26-5l-12 7m26-7l-10 8m24-9l-8 10m22-10l-6 12m20-12l-3 13m17-13l0 13m-395 3l0-13m14 13l-2-13m17 13l-4-12m18 12l-6-12m20 12l-8-11m22 11l-9-10m23 10l-10-9m25 9l-11-8m25 8l-11-7m25 6l-12-6m26 6l-12-5m26 5l-12-5m26 5l-13-4m27 4l-13-3m27 3l-13-3m28 3l-13-2m27 2l-13-1m27 1l-13 0m27 0l-13 1m27-1l-13 2m27-2l-13 3m27-3l-13 4m27-4l-12 5m26-6l-12 7m26-7l-10 8m24-8l-8 10m22-10l-6 12m20-12l-3 13m17-13l0 13m-395 3l0-13m14 13l-2-13m17 13l-4-12m18 12l-6-11m20 11l-8-10m22 10l-9-10m23 10l-10-9m25 8l-11-8m25 8l-11-7m25 7l-12-6m26 6l-12-5m26 5l-12-4m26 4l-13-4m27 4l-13-3m27 3l-13-2m28 2l-13-2m27 2l-13-1m27 1l-13 0m27 0l-13 1m27-1l-13 2m27-2l-13 3m27-4l-13 4m27-4l-12 5m26-5l-11 6m25-6l-10 8m24-8l-8 10m22-10l-6 12m20-12l-3 13m17-13l0 13m-395 3l0-13m14 13l-2-13m17 13l-4-12m18 12l-7-12m21 11l-8-10m22 10l-9-9m23 9l-10-8m25 8l-11-8m25 8l-11-7m25 7l-12-6m26 6l-12-5m26 5l-12-4m26 4l-13-4m27 4l-13-3m27 3l-13-2m28 2l-13-1m27 1l-13-1m27 1l-13 0m27 0l-13 1m27-2l-13 2m27-2l-13 3m27-3l-13 4m27-4l-12 5m26-5l-11 6m25-6l-10 8m24-8l-9 10m23-10l-6 12m20-12l-3 13m17-13l0 13m-395 2l0-13m14 13l-2-13m17 13l-5-13m19 13l-7-12m21 12l-8-10m22 10l-9-9m23 9l-10-8m25 8l-11-7m25 7l-12-7m26 7l-12-6m26 6l-12-5m26 5l-12-4m26 4l-13-3m27 3l-13-3m27 3l-13-2m28 1l-13-1m27 1l-13 0m27 0l-13 0m27 0l-13 1m27-1l-13 2m27-2l-13 3m27-3l-13 4m27-4l-12 5m26-5l-12 6m26-6l-11 8m25-8l-9 10m23-11l-6 12m20-12l-3 13m17-13l0 13m-395 3l0-13m14 13l-2-13m17 13l-5-13m19 13l-7-11m21 11l-8-10m22 10l-9-9m23 9l-10-8m25 8l-11-7m25 7l-11-6m25 6l-12-5m26 5l-12-5m26 5l-12-4m26 3l-13-3m27 3l-13-3m27 3l-13-2m28 2l-13-1m27 1l-13 0m27 0l-13 0m27 0l-13 1m27-1l-13 2m27-2l-13 3m27-3l-13 4m27-4l-12 5m26-5l-12 6m26-6l-11 8m25-9l-9 10m23-10l-6 11m20-11l-3 13m17-13l0 13m-395 3l0-13m14 13l-2-13m17 13l-5-12m19 12l-7-11m21 11l-8-10m22 10l-10-9m24 9l-10-8m25 8l-11-7m25 6l-11-6m25 6l-12-5m26 5l-12-5m26 5l-13-4m27 4l-13-3m27 3l-13-3m27 3l-13-2m28 2l-13-1m27 1l-13 0m27 0l-13 0m27 0l-13 1m27-1l-13 2m27-2l-13 3m27-3l-13 4m27-4l-12 5m26-5l-12 6m26-7l-11 8m25-8l-9 10m23-10l-6 11m20-11l-3 13m17-13l0 13m-395 3l0-13m14 13l-2-13m17 13l-5-12m19 12l-7-11m21 11l-8-10m22 10l-10-9m24 8l-10-8m25 8l-11-7m25 7l-12-6m26 6l-12-5m26 5l-12-4m26 4l-13-4m27 4l-13-3m27 3l-13-2m27 2l-13-2m28 2l-13-1m27 1l-13 0m27 0l-13 0m27 0l-13 1m27-1l-13 2m27-2l-13 3m27-4l-13 4m27-4l-12 5m26-5l-12 6m26-6l-11 8m25-8l-9 10m23-10l-7 12m21-12l-3 13m17-13l0 13m-395 3l0-13m14 13l-2-13m17 13l-5-12m19 11l-7-11m21 11l-8-10m22 10l-10-9m24 9l-11-8m26 8l-11-7m25 7l-12-6m26 6l-12-5m26 5l-12-4m26 4l-13-4m27 4l-13-3m27 3l-13-2m27 2l-13-2m28 2l-13-1m27 1l-13 0m27 0l-13 0m27 0l-13 1m27-2l-13 2m27-2l-13 3m27-3l-13 4m27-4l-12 5m26-5l-12 6m26-6l-11 8m25-8l-9 10m23-10l-7 12m21-12l-3 13m17-13l0 13m-395 2l0-13m14 13l-2-13m17 13l-5-12m19 12l-7-11m21 11l-8-10m22 10l-10-9m24 9l-11-8m26 8l-11-7m25 7l-12-6m26 6l-12-5m26 5l-12-4m26 4l-13-4m27 4l-13-3m27 3l-13-2m27 1l-13-1m28 1l-13-1m27 1l-13 0m27 0l-13 1m27-1l-13 1m27-1l-13 2m27-2l-13 3m27-3l-12 4m26-4l-12 5m26-5l-12 6m26-6l-11 8m25-8l-9 10m23-11l-7 12m21-12l-3 13m17-13l0 13m-395 3l0-13m14 13l-2-13m17 13l-5-12m19 12l-7-11m21 11l-8-10m22 10l-10-9m24 9l-11-8m26 8l-11-7m25 7l-12-6m26 6l-12-5m26 5l-12-4m26 4l-13-4m27 3l-13-3m27 3l-13-2m27 2l-13-1m28 1l-13-1m27 1l-13 0m27 0l-13 1m27-1l-13 2m27-2l-13 2m27-2l-13 3m27-3l-12 4m26-4l-12 5m26-5l-11 6m25-6l-11 8m25-9l-9 10m23-10l-7 12m21-12l-3 13m17-13l0 13m-395 3l0-13m14 13l-2-13m17 13l-5-12m19 12l-7-11m21 11l-8-10m22 10l-10-9m24 9l-11-8m26 8l-11-7m25 6l-12-6m26 6l-12-5m26 5l-12-4m26 4l-13-3m27 3l-13-3m27 3l-13-2m27 2l-13-1m28 1l-13 0m27 0l-13 0m27 0l-13 1m27-1l-13 2m27-2l-13 2m27-2l-13 3m27-3l-12 4m26-4l-12 5m26-5l-11 6m25-7l-11 8m25-8l-9 10m23-10l-7 12m21-12l-3 13m17-13l0 13m-395 3l0-13m14 13l-2-13m17 13l-5-12m19 12l-7-11m21 11l-8-10m22 10l-10-9m24 8l-11-8m26 8l-11-7m25 7l-12-6m26 6l-12-5m26 5l-12-4m26 4l-13-3m27 3l-13-3m27 3l-13-2m27 2l-13-1m28 1l-13 0m27 0l-13 0m27 0l-13 1m27-1l-13 2m27-2l-13 2m27-2l-13 3m27-4l-12 4m26-4l-12 5m26-5l-12 7m26-7l-10 8m24-8l-9 10m23-10l-7 12m21-12l-3 13m17-13l0 13m-395 3l0-13m14 13l-2-13m17 13l-5-12m19 11l-7-11m21 11l-8-10m22 10l-10-9m24 9l-11-8m26 8l-11-7m25 7l-12-6m26 6l-12-5m26 5l-12-4m26 4l-13-3m27 3l-13-3m27 3l-13-2m27 2l-13-1m28 1l-13 0m27 0l-13 0m27 0l-13 1m27-2l-13 2m27-2l-13 3m27-3l-13 4m27-4l-12 4m26-4l-12 6m26-6l-12 7m26-7l-10 8m24-8l-9 10m23-10l-7 12m21-12l-3 13m17-13l0 13m-395 2l0-13m14 13l-2-13m17 13l-5-13m19 13l-7-11m21 11l-8-10m22 10l-10-9m24 9l-11-8m26 8l-11-7m25 7l-12-6m26 6l-12-5m26 5l-12-4m26 4l-13-3m27 3l-13-3m27 3l-13-2m27 1l-13-1m28 1l-13 0m27 0l-13 1m27-1l-13 1m27-1l-13 2m27-2l-13 3m27-3l-13 4m27-4l-13 5m27-5l-12 6m26-6l-11 7m25-7l-10 8m24-8l-9 10m23-10l-6 11m20-12l-3 13m17-13l0 13m-395 3l0-13m14 13l-2-13m17 13l-5-13m19 13l-7-11m21 11l-8-10m22 10l-10-9m24 9l-11-8m26 8l-11-7m25 7l-12-6m26 6l-12-5m26 5l-12-4m26 3l-13-3m27 3l-13-2m27 2l-13-2m27 2l-13-1m28 1l-13 0m27 0l-13 1m27-1l-13 1m27-1l-13 2m27-2l-13 3m27-3l-12 4m26-4l-12 5m26-5l-12 6m26-6l-11 7m25-7l-10 8m24-9l-9 10m23-10l-6 11m20-11l-3 13m17-13l0 13m-395 3l0-13m14 13l-2-13m17 13l-5-13m19 13l-7-12m21 12l-8-10m22 10l-10-9m24 9l-11-8m26 8l-11-7m25 6l-12-6m26 6l-12-5m26 5l-12-4m26 4l-13-3m27 3l-13-2m27 2l-13-2m27 2l-13-1m28 1l-13 0m27 0l-13 1m27-1l-13 2m27-2l-13 2m27-2l-13 3m27-3l-12 4m26-4l-12 5m26-5l-12 6m26-7l-11 7m25-7l-10 9m24-9l-8 10m22-10l-6 12m20-12l-3 13m17-13l0 13m-395 3l0-13m14 13l-2-13m17 13l-5-13m19 13l-7-12m21 12l-8-10m22 10l-10-9m24 8l-10-8m25 8l-11-7m25 7l-12-6m26 6l-12-5m26 5l-12-4m26 4l-13-3m27 3l-13-2m27 2l-13-1m27 1l-13-1m28 1l-13 0m27 0l-13 1m27-1l-13 2m27-2l-13 2m27-2l-13 3m27-4l-12 4m26-4l-12 5m26-5l-11 6m25-6l-11 8m25-8l-10 9m24-9l-8 10m22-10l-6 12m20-12l-3 13m17-13l0 13m-395 3l0-13m14 13l-2-13m17 13l-5-13m19 13l-7-12m21 11l-8-10m22 10l-10-9m24 9l-10-8m25 8l-11-7m25 7l-12-6m26 6l-12-5m26 5l-12-4m26 4l-13-3m27 3l-13-2m27 2l-13-1m27 1l-13 0m28 0l-13 0m27 0l-13 1m27-2l-13 2m27-2l-13 3m27-3l-13 4m27-4l-12 4m26-4l-12 6m26-6l-12 7m26-7l-11 8m25-8l-10 9m24-9l-8 10m22-10l-6 12m20-12l-3 13m17-13l0 13m-395 2l0-13m14 13l-2-13m17 13l-5-13m19 13l-7-12m21 12l-8-10m22 10l-10-9m24 9l-10-8m25 8l-11-7m25 7l-12-6m26 6l-12-5m26 5l-13-4m27 4l-13-3m27 3l-13-2m27 1l-13-1m27 1l-13 0m28 0l-13 0m27 0l-13 1m27-1l-13 2m27-2l-13 3m27-3l-13 4m27-4l-13 5m27-5l-12 6m26-6l-12 7m26-7l-11 8m25-8l-9 9m23-9l-8 11m22-12l-6 12m20-12l-3 13m17-13l0 13m-395 3l0-13m14 13l-2-13m17 13l-5-13m19 13l-7-12m21 12l-8-10m22 10l-10-9m24 9l-10-8m25 8l-11-7m25 7l-12-6m26 6l-12-5m26 5l-13-4m27 3l-13-3m27 3l-13-2m27 2l-13-1m27 1l-13 0m28 0l-13 0m27 0l-13 1m27-1l-13 2m27-2l-13 3m27-3l-13 4m27-4l-12 5m26-5l-12 6m26-6l-11 7m25-7l-10 8m24-9l-9 9m23-9l-8 11m22-11l-6 12m20-12l-3 13m17-13l0 13m-395 3l0-13m14 13l-2-13m17 13l-5-13m19 13l-7-12m21 12l-8-10m22 10l-10-9m24 9l-11-8m26 8l-11-7m25 6l-12-6m26 6l-12-5m26 5l-13-4m27 4l-13-3m27 3l-13-2m27 2l-13-1m27 1l-13 0m28 0l-13 0m27 0l-13 1m27-1l-13 2m27-2l-13 3m27-3l-12 4m26-4l-12 5m26-5l-12 6m26-7l-11 7m25-7l-10 8m24-8l-9 9m23-9l-8 11m22-11l-6 12m20-12l-3 13m17-13l0 13m-395 3l0-13m14 13l-2-13m17 13l-5-12m19 12l-7-11m21 11l-8-10m22 10l-10-9m24 8l-11-8m26 8l-12-7m26 7l-12-5m26 5l-12-4m26 4l-13-4m27 4l-13-3m27 3l-13-2m27 2l-13-1m27 1l-13 0m28 0l-13 1m27-1l-13 1m27-1l-13 2m27-2l-13 3m27-4l-12 4m26-4l-12 5m26-5l-12 6m26-6l-11 7m25-7l-10 8m24-8l-9 9m23-9l-8 11m22-11l-6 12m20-12l-3 13m17-13l0 13m-395 3l0-13m14 13l-3-13m18 13l-5-12m19 11l-7-11m21 11l-9-10m23 10l-10-9m24 9l-11-7m26 7l-12-6m26 6l-12-5m26 5l-12-4m26 4l-13-3m27 3l-13-3m27 3l-13-2m27 2l-13-1m27 1l-13 0m28 0l-13 1m27-1l-13 1m27-2l-13 2m27-2l-13 3m27-3l-13 4m27-4l-13 5m27-5l-12 6m26-6l-12 7m26-7l-11 8m25-8l-9 9m23-9l-8 11m22-11l-6 12m20-12l-3 13m17-13l0 13m-395 2l0-13m14 13l-3-13m18 13l-6-12m20 12l-8-10m22 10l-10-9m24 9l-11-8m25 8l-11-7m26 7l-12-5m26 5l-12-5m26 5l-13-4m27 4l-13-3m27 3l-13-2m27 2l-13-2m27 1l-13-1m27 1l-13 0m28 0l-13 0m27 0l-13 1m27-1l-13 2m27-2l-13 3m27-3l-13 3m27-3l-12 4m26-4l-12 5m26-5l-11 6m25-6l-11 8m25-8l-10 9m24-9l-8 10m22-11l-6 12m20-12l-3 13m17-13l0 13m-395 3l0-13m14 13l-4-13m19 13l-7-11m21 11l-9-10m23 10l-10-8m24 8l-11-7m26 7l-12-5m26 5l-12-5m26 5l-13-4m27 3l-13-3m27 3l-13-2m27 2l-13-2m27 2l-13-1m27 1l-13-1m27 1l-13 0m28 0l-13 0m27 0l-13 1m27-1l-13 2m27-2l-13 2m27-2l-13 3m27-3l-13 4m27-4l-12 4m26-4l-12 5m26-5l-11 6m25-6l-11 8m25-9l-9 9m23-9l-7 11m21-11l-4 13m18-13l0 13m-395 3l0-13m14 13l-5-12m20 12l-9-10m23 10l-11-8m25 7l-12-6m26 6l-12-5m27 5l-12-4m26 4l-13-3m27 3l-13-3m27 3l-13-2m27 2l-13-2m27 2l-13-1m27 1l-13-1m27 1l-13 0m27 0l-13 0m28 0l-13 0m27 0l-13 1m27-1l-13 1m27-1l-13 2m27-2l-13 2m27-2l-13 2m27-2l-13 3m27-3l-13 4m27-4l-13 5m27-5l-12 6m26-7l-11 8m25-8l-9 10m23-10l-6 12m20-12l0 13m-395 3l0-13m15 13l-9-10m23 9l-12-6m26 6l-12-4m26 4l-13-3m28 3l-13-3m27 3l-13-2m27 2l-13-2m27 2l-13-1m27 1l-13-1m27 1l-13-1m27 1l-13 0m27 0l-13 0m27 0l-13 0m27 0l-13 0m28 0l-13 0m27 0l-13 0m27 0l-13 0m27 0l-13 1m27-1l-13 1m27-1l-13 1m27-1l-13 2m27-2l-13 2m27-2l-13 2m27-2l-13 3m27-4l-12 4m27-4l-12 6m25-6l-9 10m23-10l-1 13m-393 2l-9-9m23 9l-13 0m27 0l-13 0m27 0l-13 0m27 0l-13 0m28 0l-13 0m27 0l-13 0m27 0l-13 0m27 0l-13 0m27 0l-13 0m27 0l-13 0m27 0l-13 0m27 0l-13 0m27 0l-13 0m27 0l-13 0m28 0l-13 0m27 0l-13 0m27 0l-13 0m27 0l-13 0m27 0l-13 0m27 0l-13 0m27 0l-13 0m27 0l-13 0m27 0l-13 0m27 0l-13 0m28 0l-13 0m27 0l-13 0m27 0l-13 0m27-1l-9 9"/><clipPath id="fc1"><rect width="197.4" height="393.3"/></clipPath><path id="a20" d="M-1 1l8-11m6 10l13-1m1 1l13 0m1 0l13 0m1 0l13 0m2 0l13 0m1 0l13 0m1 0l13 0m1 0l13 0m1 0l13 0m1 0l13 0m1 0l13 0m1 0l13 0m1 0l13 0m2 0l13 0m1 0l13 0m1 0l13 0m1 0l13 0m1 0l13 0m1 0l13 0m1 0l13 0m1 0l13 0m1 0l13 0m2 0l13 0m1 0l13 0m1 0l13 0m1 0l13 0m1 0l13 1m1-2l9 9m-403 7l0-13m14 13l2-13m12 13l4-12m10 12l6-11m8 11l8-11m6 11l9-10m5 10l10-9m4 9l11-8m3 7l11-7m3 7l12-6m2 6l12-5m2 5l12-4m2 4l13-4m1 4l13-3m2 3l13-2m1 2l13-1m1 1l13 0m1 0l13 0m1 0l13 1m1-1l13 2m1-2l13 3m1-3l12 4m3-5l12 6m2-6l11 7m3-7l10 9m4-9l8 10m6-10l6 12m9-12l3 13m11-13l0 13m-395 3l0-13m14 13l0-13m14 13l0-13m14 13l1-13m13 13l1-13m13 13l1-13m14 13l2-13m12 13l2-13m12 13l2-13m12 13l3-13m11 13l4-13m10 13l5-13m9 13l6-12m8 12l7-11m7 11l9-10m5 9l11-7m3 7l13-3m1 3l13 2m1-3l11 8m4-8l8 10m6-10l6 12m8-12l4 12m10-12l3 13m11-13l2 13m13-13l1 13m13-13l1 13m13-13l1 13m13-13l0 13m14-13l0 13m-395 3l0-13m14 13l0-13m14 13l0-13m14 13l0-13m14 13l0-13m15 13l0-13m14 13l1-13m13 13l1-13m13 13l1-13m13 13l2-13m12 13l2-13m12 13l3-13m11 13l4-12m10 12l5-12m9 12l7-11m7 10l10-9m4 9l13-4m1 3l12 4m2-4l9 10m6-10l6 12m8-12l4 13m10-13l2 13m12-13l2 13m13-13l1 13m13-13l1 13m13-13l1 13m13-13l0 13m14-13l0 13m14-13l0 13m-395 3l0-13m14 13l0-13m14 13l0-13m14 13l0-13m14 13l0-13m14 13l1-13m14 13l1-13m13 13l1-13m13 13l2-13m12 13l2-13m12 13l3-13m11 12l4-12m10 12l5-12m9 12l7-12m7 12l8-10m6 10l11-8m3 8l13-3m1 2l13 4m1-4l10 9m5-9l7 11m7-12l5 13m9-13l3 13m11-13l2 13m12-13l2 13m13-13l1 13m13-13l1 13m13-13l0 13m14-13l0 13m14-13l0 13m-395 3l0-13m14 13l0-13m14 13l0-13m14 13l0-13m14 13l1-13m13 13l1-13m14 13l1-13m13 13l2-13m12 13l2-13m12 13l3-13m11 13l4-13m10 13l5-13m9 13l6-12m8 12l7-11m7 11l9-10m5 10l11-7m3 7l13-2m1 1l13 3m1-3l10 8m5-8l8 11m6-12l6 12m8-12l4 13m10-13l3 13m11-13l2 13m13-13l1 13m13-13l1 13m13-13l1 13m13-13l0 13m14-13l0 13m-395 3l0-13m14 13l0-13m14 13l0-13m14 13l1-13m13 13l1-13m13 13l1-13m14 13l2-13m12 13l2-13m12 13l3-13m11 13l3-13m11 13l4-12m10 12l5-12m9 12l6-11m8 11l8-11m6 11l10-9m4 9l11-6m3 5l13-2m1 2l13 3m1-3l11 8m4-8l8 10m6-11l6 12m8-12l4 12m10-12l3 13m11-13l2 13m13-13l2 13m12-13l1 13m13-13l1 13m13-13l0 13m14-13l0 13m-395 3l0-13m14 13l0-13m14 13l0-13m14 13l1-13m13 13l1-13m13 13l1-13m14 13l2-13m12 13l2-13m12 13l3-13m11 13l4-13m10 13l4-12m10 12l5-12m9 12l7-12m7 12l8-10m6 10l10-9m4 9l12-6m2 5l13-2m1 2l13 4m1-4l11 8m4-9l8 10m6-10l6 12m8-12l5 13m9-13l3 13m11-13l2 13m13-13l2 13m12-13l1 13m13-13l1 13m13-13l0 13m14-13l0 13m-395 3l0-13m14 13l0-13m14 13l0-13m14 13l1-13m13 13l1-13m13 13l1-13m14 13l2-13m12 13l2-13m12 13l3-13m11 13l3-13m11 13l4-12m10 12l5-12m9 12l6-11m8 11l8-11m6 11l10-9m4 9l12-6m2 5l13-1m1 1l13 4m1-5l10 8m5-8l8 10m6-10l6 12m8-12l4 12m10-12l3 13m11-13l2 13m13-13l2 13m12-13l1 13m13-13l1 13m13-13l0 13m14-13l0 13m-395 3l0-13m14 13l0-13m14 13l0-13m14 13l1-13m13 13l1-13m13 13l1-13m14 13l2-13m12 13l2-13m12 13l2-13m12 13l3-13m11 13l4-13m10 13l5-13m9 13l6-12m8 12l7-11m7 11l9-9m5 8l11-6m3 6l13-1m1 1l12 4m2-5l10 9m5-9l7 11m7-11l6 12m8-12l4 13m10-13l3 13m11-13l2 13m13-13l2 13m12-13l1 13m13-13l1 13m13-13l0 13m14-13l0 13m-395 3l0-13m14 13l0-13m14 13l0-13m14 13l0-13m14 13l1-13m13 13l1-13m14 13l1-13m13 13l2-13m12 13l2-13m12 13l2-13m12 13l3-13m11 13l4-12m10 12l5-12m9 12l6-11m8 11l8-10m6 9l11-7m3 7l13-1m1 0l12 6m2-6l9 10m6-10l7 12m7-12l4 12m10-12l3 13m11-13l2 13m12-13l2 13m13-13l1 13m13-13l1 13m13-13l1 13m13-13l0 13m14-13l0 13m-395 3l0-13m14 13l0-13m14 13l0-13m14 13l0-13m14 13l0-13m14 13l1-13m14 13l1-13m13 13l1-13m13 13l1-13m13 13l2-13m12 13l2-13m12 13l3-13m11 13l4-13m10 13l5-12m9 12l7-11m7 10l10-9m4 9l13-2m1 1l11 7m3-7l7 11m8-11l5 13m9-13l3 13m11-13l2 13m12-13l2 13m13-13l1 13m13-13l1 13m13-13l1 13m13-13l0 13m14-13l0 13m14-13l0 13m-395 3l0-13m14 13l0-13m14 13l0-13m14 13l0-13m14 13l0-13m15 13l0-13m14 13l0-13m14 13l0-13m14 13l1-13m13 13l1-13m13 13l1-13m13 13l2-13m12 13l2-13m12 13l3-13m11 13l4-12m10 11l7-11m7 11l13-3m1 2l8 11m7-11l4 13m10-13l2 13m12-13l2 13m12-13l1 13m13-13l1 13m14-13l1 13m13-13l0 13m14-13l0 13m14-13l0 13m14-13l0 13m14-13l0 13m-395 3l0-13m14 13l0-13m14 13l0-13m14 13l0-13m14 13l0-13m15 13l0-13m14 13l0-13m14 13l0-13m14 13l0-13m14 13l0-13m14 13l0-13m14 13l0-13m14 13l0-13m14 13l0-13m15 13l0-13m14 13l0-13m14 13l0-13m14 10l0 13m14-13l0 13m14-13l-1 13m15-13l-1 13m15-13l-1 13m16-13l-1 13m15-13l-1 13m15-13l-1 13m15-13l-1 13m15-13l-1 13m15-13l0 13m14-13l0 13m-395 3l0-13m14 13l0-13m14 13l0-13m14 13l-1-13m16 13l-1-13m15 13l-1-13m15 13l-1-13m15 13l-1-13m15 13l-1-13m15 13l-2-13m16 13l-2-13m16 13l-2-13m17 13l-2-13m16 13l-3-13m17 13l-4-12m18 12l-7-11m22 11l-13-2m27 1l-8 10m21-11l-5 13m19-13l-3 13m17-13l-2 13m17-13l-2 13m16-13l-2 13m16-13l-2 13m16-13l-1 13m15-13l-1 13m15-13l-1 13m15-13l-1 13m15-13l0 13m-395 3l0-13m14 13l0-13m14 13l-1-13m15 13l-1-13m16 13l-1-13m15 13l-2-13m16 13l-2-13m16 13l-2-13m16 13l-2-13m16 13l-3-13m17 13l-3-13m18 13l-4-13m18 13l-4-12m18 12l-6-12m20 12l-8-11m23 11l-11-8m25 7l-13-1m27 1l-12 7m26-8l-8 10m22-10l-6 12m20-12l-5 13m19-13l-4 13m18-13l-3 13m17-13l-2 13m16-13l-2 13m16-13l-2 13m16-13l-1 13m15-13l-1 13m15-13l0 13m-395 3l0-13m14 13l-1-13m15 13l-1-13m16 13l-2-13m16 13l-2-13m16 13l-2-13m16 13l-3-13m17 13l-3-13m17 13l-4-13m18 13l-4-12m19 12l-5-13m19 13l-6-12m20 12l-7-12m21 12l-8-10m22 10l-10-9m25 9l-12-6m26 5l-13 0m27 0l-12 5m26-5l-10 8m24-9l-8 10m22-10l-6 11m20-11l-5 12m19-12l-4 12m18-12l-4 13m18-13l-3 13m17-13l-2 13m16-13l-2 13m16-13l-1 13m15-13l0 13m-395 3l0-13m14 13l-1-13m15 13l-2-13m17 13l-2-13m16 13l-3-13m17 13l-3-13m17 13l-4-13m18 13l-4-12m18 12l-5-13m19 13l-5-12m20 12l-6-12m20 12l-7-11m21 11l-8-10m22 10l-9-9m23 9l-11-7m26 6l-12-4m26 4l-13 0m27 0l-13 4m27-5l-11 7m25-7l-10 9m24-9l-8 11m22-11l-7 12m21-12l-6 12m20-12l-5 13m19-13l-4 13m18-13l-3 13m17-13l-2 13m16-13l-1 13m15-13l0 13m-395 3l0-13m14 13l-1-13m15 13l-2-13m17 13l-2-13m16 13l-3-13m17 13l-4-13m18 13l-4-12m18 12l-5-12m19 12l-6-12m21 12l-6-11m20 11l-7-11m21 11l-8-10m22 10l-9-9m23 9l-10-8m25 7l-12-6m26 6l-13-3m27 3l-13 0m27 0l-13 3m27-4l-12 6m26-6l-11 8m25-8l-9 9m23-9l-8 11m22-11l-7 12m21-12l-6 12m20-12l-5 13m19-13l-3 13m17-13l-2 13m16-13l-2 13m16-13l0 13m-395 3l0-13m14 13l-1-13m15 13l-2-13m17 13l-3-13m17 13l-4-13m18 13l-4-12m18 12l-5-12m19 12l-6-12m20 12l-7-12m22 12l-7-11m21 11l-8-10m22 10l-9-10m23 9l-10-8m24 8l-11-7m26 7l-12-5m26 5l-13-3m27 3l-13 0m27 0l-13 2m27-3l-12 5m26-5l-11 7m25-7l-10 9m24-9l-9 10m23-10l-8 11m22-11l-6 11m20-11l-5 12m19-12l-4 13m18-13l-3 13m17-13l-2 13m16-13l0 13m-395 3l0-13m14 13l-1-13m15 13l-2-13m17 13l-4-13m18 13l-4-12m18 12l-5-12m19 12l-6-12m20 12l-7-12m21 12l-7-11m22 10l-8-10m22 10l-9-10m23 10l-10-9m24 9l-11-8m25 8l-12-6m27 6l-12-4m26 4l-13-3m27 3l-13 0m27 0l-13 2m27-3l-12 4m26-4l-12 6m26-6l-11 8m25-8l-10 9m24-9l-8 10m22-10l-7 11m21-11l-6 12m20-12l-5 13m19-13l-3 13m17-13l-2 13m16-13l0 13m-395 3l0-13m14 13l-2-13m16 13l-3-13m18 13l-4-12m18 12l-5-12m19 12l-6-12m20 12l-7-12m21 11l-7-11m22 11l-8-10m22 10l-9-10m23 10l-10-9m24 9l-10-8m24 8l-11-7m25 7l-12-5m27 5l-12-4m26 4l-13-2m27 2l-13 0m27-1l-13 2m27-2l-13 4m27-4l-12 6m26-6l-11 7m25-7l-10 8m24-8l-9 10m23-10l-8 11m22-11l-6 11m20-11l-5 12m19-12l-4 13m18-13l-2 13m16-13l0 13m-395 2l0-13m14 13l-2-13m16 13l-3-13m18 13l-4-12m18 12l-5-12m19 12l-6-11m20 11l-7-11m21 11l-8-10m23 10l-9-10m23 10l-9-9m23 9l-10-8m24 8l-11-8m25 8l-11-6m25 6l-12-5m27 5l-13-4m27 4l-13-2m27 1l-13 0m27 0l-13 2m27-2l-13 3m27-3l-12 5m26-5l-12 7m26-7l-11 8m25-8l-10 9m24-9l-8 10m22-10l-7 11m21-12l-5 12m19-12l-4 12m18-12l-3 13m17-13l0 13m-395 3l0-13m14 13l-2-13m16 13l-3-13m18 13l-5-13m19 13l-6-12m20 12l-7-11m21 11l-8-11m22 11l-8-10m23 10l-9-9m23 9l-10-9m24 9l-11-8m25 8l-11-7m25 7l-12-6m26 6l-12-5m27 5l-13-3m27 2l-13-2m27 2l-13 0m27 0l-13 1m27-1l-13 3m27-3l-12 4m26-4l-12 6m26-6l-11 7m25-7l-10 9m24-9l-9 10m23-11l-7 11m21-11l-6 12m20-12l-5 13m19-13l-4 13m18-13l0 13m-395 3l0-13m14 13l-2-13m17 13l-4-13m18 13l-5-12m19 12l-6-12m20 12l-7-11m21 11l-8-10m23 10l-9-10m23 10l-10-9m24 9l-10-8m24 8l-11-7m25 7l-12-7m26 7l-12-5m26 5l-12-4m27 3l-13-3m27 3l-13-2m27 2l-13 0m27 0l-13 1m27-1l-13 3m27-3l-12 4m26-4l-12 6m26-6l-12 7m26-7l-10 8m24-8l-9 9m23-10l-8 11m22-11l-6 12m20-12l-5 12m19-12l-4 12m18-12l0 13m-395 3l0-13m14 13l-2-13m17 13l-4-12m18 12l-5-12m19 12l-7-12m21 12l-8-11m22 11l-8-10m23 10l-9-9m23 9l-10-9m24 9l-11-8m25 8l-11-7m25 7l-12-6m26 6l-12-5m26 4l-12-4m27 4l-13-3m27 3l-13-2m27 2l-13 0m27 0l-13 1m27-1l-13 2m27-2l-13 4m27-4l-12 5m26-5l-11 6m25-7l-11 8m25-8l-10 9m24-9l-8 11m22-11l-6 12m20-12l-5 12m20-12l-6 12m19-12l0 13m-395 3l0-13m14 13l-2-13m17 13l-4-12m18 12l-6-12m20 12l-7-11m21 11l-8-10m22 10l-9-10m24 10l-10-9m24 9l-10-8m24 8l-11-8m25 8l-11-7m25 6l-12-6m26 6l-12-5m27 5l-13-4m27 4l-13-3m27 3l-13-1m27 1l-13 0m27 0l-13 1m27-1l-13 2m27-2l-13 4m27-4l-12 5m26-5l-12 6m26-7l-11 7m25-7l-10 9m24-9l-8 11m22-11l-6 12m20-12l-6 12m21-12l-8 11m21-11l-1 13m-394 3l0-13m14 13l-2-13m17 13l-4-12m18 12l-6-12m20 12l-7-11m21 11l-8-10m22 10l-9-10m24 10l-10-9m24 9l-10-8m24 7l-11-7m25 7l-11-6m25 6l-12-5m26 5l-12-4m27 4l-13-4m27 4l-13-3m27 3l-13-1m27 1l-13 0m27 0l-13 1m27-1l-13 2m27-2l-13 3m27-3l-12 4m26-5l-12 6m26-6l-11 7m25-7l-10 9m24-9l-8 11m22-11l-6 12m20-12l-6 12m21-12l-12 6m26-4l-6-12m-390 26l0-13m14 13l-2-13m17 13l-4-12m18 12l-6-12m20 12l-7-11m21 11l-8-10m22 9l-9-9m24 9l-10-9m24 9l-11-8m25 8l-11-7m25 7l-12-6m26 6l-12-5m26 5l-12-4m27 4l-13-3m27 3l-13-2m27 2l-13-1m27 1l-13 0m27 0l-13 1m27-1l-13 2m27-2l-13 3m27-4l-12 4m26-4l-12 6m26-6l-11 7m25-7l-10 9m24-9l-7 11m21-11l-5 12m19-12l-6 12m21-11l-12-5m25 6l0-13m-395 27l0-13m14 13l-2-13m17 13l-4-12m18 12l-6-12m20 12l-7-11m21 10l-8-10m22 10l-9-9m24 9l-10-8m24 8l-11-8m25 8l-11-7m25 7l-12-6m26 6l-12-5m26 5l-12-4m27 4l-13-3m27 3l-13-2m27 2l-13-1m27 1l-13 0m27 0l-13 1m27-2l-13 2m27-2l-13 3m27-3l-12 4m26-4l-12 5m26-5l-12 7m26-7l-10 9m24-9l-7 11m21-11l-5 13m19-13l-6 12m21-10l-7-11m20 11l0-13m-395 27l0-13m14 13l-2-13m17 12l-4-12m18 12l-6-12m20 12l-7-11m21 11l-8-10m22 10l-9-9m24 9l-10-8m24 8l-11-8m25 8l-11-7m25 7l-12-6m26 6l-12-5m26 5l-12-4m27 4l-13-3m27 3l-13-2m27 2l-13-1m27 1l-13 0m27-1l-13 1m27-1l-13 2m27-2l-13 3m27-3l-12 4m26-4l-12 5m26-5l-12 7m26-7l-10 9m24-9l-6 12m20-13l-4 13m18-12l-5 12m19-11l-4-12m18 13l0-13m-395 26l0-13m14 13l-2-13m17 13l-4-12m18 12l-6-12m20 12l-7-11m21 11l-8-10m22 10l-9-9m24 9l-10-8m24 8l-11-8m25 8l-11-7m25 7l-12-6m26 6l-12-5m26 5l-12-4m27 4l-13-3m27 3l-13-2m27 1l-13-1m27 1l-13 0m27 0l-13 1m27-1l-13 2m27-2l-13 3m27-3l-12 4m26-4l-12 5m26-5l-12 7m26-7l-9 9m23-10l-5 12m19-12l-3 13m17-13l-5 13m19-11l-3-13m17 13l0-13m-395 27l0-13m14 13l-2-13m17 13l-4-12m18 12l-6-12m20 12l-7-11m21 11l-8-10m22 10l-9-9m24 9l-10-8m24 8l-11-8m25 8l-11-7m25 7l-12-6m26 6l-12-5m26 5l-12-4m27 4l-13-3m27 2l-13-2m27 2l-13-1m27 1l-13 0m27 0l-13 1m27-1l-13 2m27-2l-13 3m27-3l-12 4m26-4l-12 5m26-5l-11 7m25-8l-9 10m23-10l-5 13m19-13l-2 13m16-13l-4 13m18-11l-2-13m16 13l0-13m-395 27l0-13m14 13l-2-13m17 13l-4-12m18 12l-6-12m20 12l-7-11m21 11l-8-10m22 10l-9-9m24 9l-10-9m24 9l-11-8m25 8l-11-7m25 7l-12-6m26 6l-12-5m26 4l-12-4m27 4l-13-3m27 3l-13-2m27 2l-13-1m27 1l-13 0m27 0l-13 1m27-1l-13 2m27-2l-13 3m27-3l-12 4m26-4l-12 5m26-5l-11 7m25-8l-8 10m22-10l-4 13m18-13l-2 13m16-13l-3 13m17-11l-1-13m15 13l0-13m-395 27l0-13m14 13l-2-13m17 13l-4-13m18 13l-6-12m20 12l-7-11m21 11l-8-10m22 10l-9-10m24 10l-10-9m24 9l-11-8m25 8l-11-7m25 7l-12-6m26 5l-12-5m26 5l-12-4m27 4l-13-3m27 3l-13-3m27 3l-13-2m27 2l-13 0m27 0l-13 0m27 0l-13 2m27-2l-13 3m27-3l-12 4m26-4l-12 5m26-5l-11 7m25-8l-7 11m21-11l-3 13m17-13l-2 13m16-13l-2 13m16-11l0-13m14 13l0-13m-395 27l0-13m14 13l-2-13m17 13l-4-13m18 13l-5-12m19 12l-7-12m21 12l-8-10m22 10l-9-10m24 10l-10-9m24 9l-11-8m25 8l-11-7m25 6l-12-6m26 6l-12-5m26 5l-12-4m27 4l-13-3m27 3l-13-3m27 3l-13-2m27 2l-13 0m27 0l-13 0m27 0l-13 2m27-2l-13 3m27-3l-12 4m26-5l-12 6m26-6l-11 8m25-8l-7 11m21-11l-2 13m16-13l-1 13m15-13l-1 13m15-11l0-13m14 13l0-13m-395 27l0-13m14 13l-2-13m17 13l-4-13m18 13l-5-12m19 12l-6-11m20 11l-8-11m22 11l-9-10m24 10l-10-9m24 8l-10-8m24 8l-11-7m25 7l-11-6m25 6l-12-5m26 5l-12-4m27 4l-13-4m27 4l-13-3m27 3l-13-2m27 2l-13-1m27 1l-13 0m27 0l-13 2m27-2l-13 3m27-3l-12 4m26-5l-12 6m26-6l-11 8m25-8l-6 12m20-12l-2 13m16-13l-1 13m15-13l0 13m14-11l0-13m14 13l0-13m-395 27l0-13m14 13l-2-13m16 13l-3-13m18 13l-5-12m19 12l-6-12m20 12l-8-11m22 11l-8-10m23 9l-10-9m24 9l-10-8m24 8l-11-8m25 8l-12-7m26 7l-12-6m26 6l-12-5m27 5l-13-4m27 4l-13-3m27 3l-13-2m27 2l-13-1m27 1l-13 0m27 0l-13 2m27-3l-13 3m27-3l-12 4m26-4l-12 6m26-6l-10 8m24-8l-5 12m19-12l-2 13m16-13l0 13m14-13l2 13m12-11l1-13m13 13l0-13m-395 27l0-13m14 13l-2-13m16 13l-3-13m18 13l-5-13m19 13l-6-12m20 11l-7-11m21 11l-8-10m23 10l-9-9m23 9l-10-8m24 8l-11-8m25 8l-11-7m25 7l-12-6m26 6l-12-5m27 5l-13-4m27 4l-13-3m27 3l-13-2m27 2l-13-1m27 1l-13 0m27-1l-13 2m27-2l-13 3m27-3l-12 4m26-4l-12 6m26-6l-10 9m24-9l-5 13m19-13l-1 13m15-13l0 13m14-13l3 13m11-11l1-13m13 13l0-13m-395 27l0-13m14 13l-2-13m16 13l-3-13m18 13l-5-13m19 12l-6-12m20 12l-7-11m21 11l-8-10m23 10l-9-9m23 9l-10-9m24 9l-11-8m25 8l-11-7m25 7l-12-6m26 6l-12-5m26 5l-12-4m27 4l-13-3m27 3l-13-2m27 2l-13-1m27 0l-13 0m27 0l-13 2m27-2l-13 3m27-3l-12 4m26-4l-12 6m26-6l-10 9m24-9l-4 12m18-13l-1 13m15-13l1 13m13-13l4 13m10-10l1-13m13 13l0-13m-395 26l0-13m14 13l-2-13m16 13l-3-13m18 13l-4-12m18 12l-6-12m20 12l-7-11m21 11l-8-10m23 10l-9-10m23 10l-10-9m24 9l-11-8m25 8l-11-7m25 7l-12-6m26 6l-12-5m26 5l-12-4m27 4l-13-3m27 3l-13-2m27 1l-13-1m27 1l-13 0m27 0l-13 2m27-2l-13 3m27-3l-12 4m26-4l-12 6m26-6l-10 9m24-10l-4 13m18-13l-1 13m15-13l1 13m13-13l5 13m9-11l2-13m12 13l0-13m-395 27l0-13m14 13l-2-13m16 13l-3-13m18 13l-4-12m18 12l-6-12m20 12l-7-11m21 11l-8-10m23 10l-9-10m23 10l-10-9m24 9l-11-8m25 8l-11-7m25 7l-12-6m26 6l-12-5m26 5l-12-4m27 3l-13-3m27 3l-13-2m27 2l-13-1m27 1l-13 0m27 0l-13 2m27-2l-13 3m27-3l-12 4m26-4l-12 6m26-6l-10 9m24-10l-4 13m18-13l0 13m14-13l1 13m12-13l6 12m9-10l2-13m12 13l0-13m-395 27l0-13m14 13l-2-13m16 13l-3-13m18 13l-4-12m18 12l-6-12m20 12l-7-11m21 11l-8-10m23 10l-9-10m23 10l-10-9m24 9l-10-8m24 8l-11-7m25 7l-12-6m26 6l-12-5m26 4l-12-4m27 4l-13-3m27 3l-13-2m27 2l-13-1m27 1l-13 0m27 0l-13 2m27-2l-13 3m27-3l-12 4m26-4l-11 6m25-7l-9 9m23-9l-3 13m17-13l0 13m14-13l1 13m12-13l7 12m8-10l2-13m12 13l0-13m-395 27l0-13m14 13l-2-13m16 13l-3-13m18 13l-4-12m18 12l-6-12m20 12l-7-11m21 11l-8-10m23 10l-9-10m23 10l-10-9m24 9l-10-8m24 8l-11-7m25 7l-12-6m26 5l-12-5m26 5l-12-4m27 4l-13-3m27 3l-13-2m27 2l-13-1m27 1l-13 0m27 0l-13 2m27-2l-13 3m27-3l-13 5m27-5l-11 6m25-7l-9 9m23-9l-3 13m17-13l0 13m14-13l2 13m11-13l7 11m8-9l2-13m12 13l0-13m-395 27l0-13m14 13l-2-13m16 13l-3-13m18 13l-4-12m18 12l-6-12m20 12l-7-11m21 11l-8-10m23 10l-9-10m23 10l-10-9m24 9l-10-8m24 7l-11-7m25 7l-12-6m26 6l-12-5m26 5l-12-4m27 4l-13-3m27 3l-13-2m27 2l-13-1m27 1l-13 0m27 0l-13 2m27-2l-13 3m27-3l-13 5m27-6l-11 6m25-6l-9 9m23-9l-3 13m17-13l0 13m14-13l2 13m11-13l8 11m7-9l3-13m11 13l0-13m-395 27l0-13m14 13l-2-13m16 13l-3-13m18 13l-4-12m18 12l-6-12m20 12l-7-11m21 11l-8-10m23 10l-9-10m23 10l-10-9m24 8l-10-8m24 8l-11-7m25 7l-12-6m26 6l-12-5m26 5l-12-4m27 4l-13-3m27 3l-13-2m27 2l-13-1m27 1l-13 0m27 0l-13 2m27-2l-13 3m27-4l-12 4m26-4l-11 6m25-6l-9 9m23-9l-3 13m17-13l1 13m13-13l2 13m11-13l8 10m7-8l3-13m11 13l0-13m-395 27l0-13m14 13l-2-13m16 13l-3-13m18 13l-4-12m18 12l-6-12m20 12l-7-11m21 10l-8-10m23 10l-9-10m23 10l-10-9m24 9l-10-8m24 8l-11-7m25 7l-12-6m26 6l-12-5m26 5l-12-4m27 4l-13-3m27 3l-13-2m27 2l-13-1m27 1l-13 0m27 0l-13 2m27-3l-13 3m27-3l-12 4m26-4l-11 6m25-6l-9 9m23-9l-3 13m17-13l1 13m13-13l2 13m11-13l9 10m6-8l3-13m11 13l0-13m-395 27l0-13m14 13l-2-13m16 13l-3-13m18 13l-4-12m18 12l-6-12m20 11l-7-11m21 11l-8-10m23 10l-9-10m23 10l-10-9m24 9l-11-8m25 8l-11-7m25 7l-12-6m26 6l-12-5m26 5l-12-4m27 4l-13-3m27 3l-13-2m27 2l-13-1m27 1l-13 0m27-1l-13 2m27-2l-13 3m27-3l-12 4m26-4l-12 6m26-6l-9 9m23-9l-3 13m17-13l1 13m13-13l2 13m11-13l9 10m6-8l3-13m11 13l0-13m-395 26l0-13m14 13l-2-13m16 13l-3-13m18 13l-4-12m18 12l-6-12m20 12l-7-11m21 11l-8-10m23 10l-9-10m23 10l-10-9m24 9l-11-8m25 8l-11-7m25 7l-12-6m26 6l-12-5m26 5l-12-4m27 4l-13-3m27 3l-13-2m27 2l-13-1m27 0l-13 0m27 0l-13 2m27-2l-13 3m27-3l-12 4m26-4l-12 6m26-6l-10 9m24-10l-3 13m17-13l1 13m13-13l3 13m10-12l9 9m6-8l4-13m10 13l0-13m-395 27l0-13m14 13l-2-13m16 13l-3-13m18 13l-5-13m19 13l-6-12m20 12l-7-11m21 11l-8-10m23 10l-9-9m23 9l-10-9m24 9l-11-8m25 8l-11-7m25 7l-12-6m26 6l-12-5m26 5l-12-4m27 4l-13-3m27 2l-13-2m27 2l-13-1m27 1l-13 0m27 0l-13 2m27-2l-13 3m27-3l-12 4m26-4l-12 6m26-6l-10 9m24-10l-4 13m18-13l1 13m13-13l3 13m10-12l10 9m5-8l4-12m10 12l0-13m-395 27l0-13m14 13l-2-13m16 13l-3-13m18 13l-5-13m19 13l-6-12m20 12l-7-11m21 11l-8-10m23 10l-9-9m23 9l-10-9m24 9l-11-8m25 8l-11-7m25 7l-12-6m26 6l-12-5m26 5l-12-4m27 3l-13-3m27 3l-13-2m27 2l-13-1m27 1l-13 0m27 0l-13 2m27-2l-13 3m27-3l-12 4m26-4l-12 6m26-7l-10 9m24-9l-4 13m18-13l1 13m13-13l3 13m10-13l10 9m5-7l4-12m10 12l0-13m-395 27l0-13m14 13l-2-13m16 13l-3-13m18 13l-5-12m19 12l-6-11m20 11l-8-11m22 11l-9-10m24 10l-10-9m24 9l-10-8m24 8l-11-8m25 8l-12-7m26 7l-12-6m26 5l-12-5m27 5l-13-4m27 4l-13-3m27 3l-13-2m27 2l-13-1m27 1l-13 0m27 0l-13 1m27-1l-13 3m27-3l-12 4m26-4l-12 6m26-7l-10 8m24-8l-5 13m19-13l1 13m13-13l3 13m10-13l10 8m5-6l5-12m9 12l0-13m-395 27l0-13m14 13l-2-13m17 13l-4-13m18 13l-5-12m19 12l-7-11m21 11l-8-10m22 10l-9-10m24 10l-10-9m24 9l-11-8m25 8l-11-7m25 6l-12-6m26 6l-12-5m26 5l-12-4m27 4l-13-4m27 4l-13-3m27 3l-13-2m27 2l-13-1m27 1l-13 0m27 0l-13 1m27-1l-13 2m27-2l-13 4m27-4l-12 5m26-6l-11 8m25-8l-5 12m19-12l1 13m13-13l4 13m9-13l10 8m5-6l5-12m9 12l0-13m-395 27l0-13m14 13l-2-13m17 13l-4-12m18 12l-6-12m20 12l-8-11m22 11l-9-10m23 10l-10-9m25 9l-10-8m24 7l-11-7m25 7l-11-6m25 6l-12-5m26 5l-12-5m26 5l-13-4m28 4l-13-3m27 3l-13-2m27 2l-13-2m27 2l-13-1m27 1l-13 0m27 0l-13 1m27-1l-13 2m27-2l-13 3m27-4l-13 5m27-5l-11 7m25-7l-6 11m20-11l0 13m14-13l4 13m9-13l11 8m4-6l6-12m8 12l0-13m-395 27l0-13m14 13l-3-13m18 13l-5-12m19 12l-7-11m21 11l-9-10m23 9l-10-9m25 9l-11-8m25 8l-11-7m25 7l-12-6m26 6l-12-5m26 5l-12-4m26 4l-13-4m27 4l-13-3m28 3l-13-3m27 3l-13-2m27 2l-13-1m27 1l-13 0m27 0l-13 0m27 0l-13 1m27-1l-13 2m27-2l-13 3m27-4l-13 4m27-4l-12 6m26-6l-8 10m22-10l-1 13m15-13l4 12m9-12l11 7m4-5l7-11m7 11l0-13m-395 27l0-13m14 13l-4-12m19 12l-7-11m21 10l-9-9m23 9l-11-8m25 8l-11-7m26 7l-12-6m26 6l-12-5m26 5l-12-4m26 4l-13-4m27 4l-13-3m27 3l-13-3m27 3l-13-2m28 2l-13-2m27 2l-13-1m27 1l-13-1m27 1l-13 0m27 0l-13 0m27 0l-13 1m27-1l-13 1m27-2l-13 2m27-2l-13 2m28-2l-13 4m27-4l-11 8m24-8l-3 13m17-13l4 12m9-12l11 6m3-5l9-10m6 11l0-13m-395 27l0-13m15 12l-7-11m21 11l-11-8m25 8l-12-6m26 6l-12-4m27 4l-13-4m27 4l-13-3m27 3l-13-3m27 3l-13-2m27 2l-13-2m27 2l-13-2m27 2l-13-1m27 1l-13-1m28 1l-13-1m27 1l-13-1m27 1l-13 0m27 0l-13 0m27 0l-13 0m27 0l-13 0m27 0l-13 0m27-1l-13 1m27-1l-13 1m28-1l-13 2m27-2l-13 4m26-4l-8 10m21-10l5 12m9-12l13 5m1-4l11-7m4 8l1-13m-395 26l-8-11m22 10l-13-1m27 1l-13 0m27 0l-13 0m27 0l-13 0m28 0l-13 0m27 0l-13 0m27 0l-13 0m27 0l-13 0m27 0l-13 0m27 0l-13 0m27 0l-13 0m27 0l-13 0m28 0l-13 0m27 0l-13 0m27 0l-13 0m27 0l-13 0m27 0l-13 0m27 0l-13 0m27 0l-13 0m27 0l-13 0m27 0l-13 0m28 0l-13 0m27 0l-13 0m27 0l-13 0m25 0l10 8m4-8l13 0m1 0l13 0m1 1l9-9"/><clipPath id="fc2"><rect width="197.6" height="395.7"/></clipPath><path id="a30" d="M-1 1l9-10m5 9l13 0m1 0l13 0m1 0l13 0m1 0l13 0m2 0l13 0m1 0l13 0m1 0l13 0m1 0l13 0m1 0l13 0m1 0l13 0m1 0l13 0m1 0l13 0m1 0l13 0m2 0l13 0m1 0l13 0m1 0l13 0m1 0l13 0m1 0l13 0m1 0l13 0m1 0l13 0m1 0l13 0m1 0l13 0m2 0l13 0m1 0l13 0m1 0l13 0m1 0l13 0m1 0l13 1m1-2l9 9m-403 7l0-13m14 13l4-12m10 12l8-11m6 11l10-9m4 8l11-7m3 7l12-6m2 6l12-5m2 5l13-4m1 4l13-3m1 3l13-3m1 3l13-2m1 2l13-2m1 2l13-1m1 1l13-1m2 1l13 0m1 0l13 1m1-1l13 1m1-1l13 1m1-1l13 2m1-2l13 2m1-2l13 3m1-3l13 4m1-5l13 5m2-5l12 6m2-6l11 7m3-7l10 8m4-8l8 11m7-11l4 12m10-12l0 13m-395 3l0-13m14 13l1-13m13 13l2-13m12 13l4-13m10 13l5-12m9 12l6-12m8 12l7-11m7 11l8-10m6 10l9-10m5 9l10-8m4 8l11-7m3 7l12-6m2 6l13-4m1 4l13-2m2 2l13 0m1 0l13 1m1-1l13 3m1-4l12 5m2-5l11 6m3-6l11 8m3-8l10 9m5-9l9 10m5-10l8 11m6-11l7 12m7-12l6 12m9-12l4 12m10-12l3 13m11-13l1 13m13-13l0 13m-395 3l0-13m14 13l1-13m13 13l2-13m12 13l3-13m11 13l4-13m10 13l5-13m9 13l5-12m9 12l7-12m7 12l8-11m6 10l9-10m5 10l10-9m4 9l11-7m3 7l12-6m2 6l13-3m2 3l13-1m1 0l13 2m1-2l12 4m2-4l11 6m3-6l11 8m3-8l9 9m6-9l8 10m6-10l7 11m7-11l7 12m7-12l5 12m9-12l4 12m11-12l3 13m11-13l2 13m12-13l1 13m13-13l0 13m-395 3l0-13m14 13l1-13m13 13l2-13m12 13l2-13m12 13l3-13m11 12l4-12m10 12l5-12m9 12l6-12m8 12l7-11m7 11l8-10m6 10l9-9m5 9l11-8m3 8l12-6m2 6l13-4m2 4l13-1m1 0l13 2m1-2l12 4m2-4l12 7m2-7l10 8m4-8l9 9m6-9l8 10m6-10l7 11m7-11l6 12m8-12l5 12m9-13l4 13m11-13l3 13m11-13l2 13m12-13l1 13m13-13l0 13m-395 3l0-13m14 13l1-13m13 13l2-13m12 13l2-13m12 13l3-13m11 13l4-12m10 12l5-12m9 12l6-12m8 12l7-11m7 11l8-11m6 11l9-10m5 10l10-8m4 8l11-6m3 6l13-4m2 4l13-1m1 0l13 2m1-2l12 4m2-4l11 7m3-7l10 8m4-8l9 10m6-10l8 11m6-11l7 11m7-12l6 12m8-12l5 12m9-12l4 13m11-13l3 13m11-13l2 13m12-13l1 13m13-13l0 13m-395 3l0-13m14 13l1-13m13 13l1-13m13 13l2-13m12 13l3-13m11 13l4-13m10 13l4-12m10 12l5-12m9 12l6-11m8 11l7-11m7 11l9-10m5 10l10-9m4 9l11-7m4 7l12-4m2 3l13-1m1 1l13 2m1-2l13 5m1-5l11 7m3-7l10 9m4-9l9 10m6-11l8 11m6-11l7 12m7-12l6 12m8-12l5 13m9-13l4 13m11-13l3 13m11-13l2 13m12-13l1 13m13-13l0 13m-395 3l0-13m14 13l0-13m14 13l1-13m13 13l2-13m12 13l2-13m12 13l3-13m11 13l4-13m10 13l5-13m10 13l5-12m8 12l7-12m8 12l8-11m6 11l9-9m4 9l11-8m4 8l12-5m2 4l13-2m1 2l13 2m1-2l12 5m2-5l11 8m3-9l9 9m6-9l8 10m6-10l7 11m7-11l6 12m8-12l5 12m9-12l4 12m11-12l3 13m11-13l2 13m12-13l2 13m12-13l1 13m13-13l0 13m-395 3l0-13m14 13l0-13m14 13l1-13m13 13l1-13m13 13l2-13m12 13l2-13m12 13l3-13m11 13l4-13m11 13l5-13m9 13l6-12m8 12l7-11m7 11l8-10m6 10l10-8m4 8l12-6m2 5l13-2m1 2l13 2m1-2l12 6m2-7l10 8m4-8l9 10m6-10l8 11m6-11l7 12m7-12l5 12m9-12l4 12m10-12l4 13m11-13l3 13m11-13l2 13m12-13l1 13m13-13l1 13m13-13l0 13m-395 3l0-13m14 13l0-13m14 13l1-13m13 13l1-13m13 13l1-13m13 13l2-13m13 13l2-13m12 13l3-13m11 13l4-13m10 13l4-12m10 12l5-12m9 12l7-11m7 11l9-10m5 10l11-7m3 6l13-3m1 3l13 2m1-3l12 7m2-7l9 9m5-9l8 11m7-11l7 12m7-12l6 12m8-12l5 13m9-13l4 13m10-13l3 13m12-13l2 13m12-13l2 13m12-13l1 13m13-13l1 13m13-13l0 13m-395 3l0-13m14 13l0-13m14 13l0-13m14 13l0-13m14 13l1-13m13 13l1-13m14 13l1-13m13 13l2-13m12 13l2-13m12 13l3-13m11 13l4-13m10 13l5-12m9 12l7-11m7 11l10-9m4 8l12-4m2 4l13 3m1-4l11 8m3-8l8 10m6-10l7 12m8-12l5 12m9-12l4 12m10-12l4 13m10-13l3 13m11-13l2 13m13-13l2 13m12-13l2 13m12-13l1 13m13-13l1 13m13-13l0 13m-395 3l0-13m14 13l0-13m14 13l0-13m14 13l0-13m14 13l0-13m15 13l0-13m14 13l0-13m14 13l1-13m13 13l1-13m13 13l1-13m13 13l2-13m12 13l2-13m12 13l4-13m10 13l6-11m8 10l11-7m3 6l13 4m1-4l9 10m5-10l6 12m9-12l4 12m10-12l4 13m10-13l3 13m11-13l3 13m11-13l2 13m12-13l2 13m13-13l1 13m13-13l1 13m13-13l1 13m13-13l1 13m13-13l0 13m-395 3l0-13m14 13l0-13m14 13l0-13m14 13l0-13m15 13l-1-13m15 13l-1-13m15 13l-1-13m15 13l-1-13m15 13l-1-13m15 13l-1-13m15 13l-1-13m15 13l0-13m14 13l0-13m14 13l0-13m14 13l3-13m11 11l9 9m6-9l3 13m11-13l2 13m12-13l2 13m12-13l2 13m12-13l1 13m13-13l1 13m13-13l1 13m14-13l1 13m13-13l1 13m13-13l1 13m13-13l1 13m13-13l0 13m14-13l0 13m-395 3l0-13m14 13l0-13m14 13l-1-13m15 13l-1-13m16 13l-2-13m16 13l-2-13m16 13l-2-13m16 13l-2-13m16 13l-2-13m16 13l-3-13m17 13l-3-13m17 13l-3-13m18 12l-4-12m18 12l-6-12m20 12l-9-10m24 9l-13 3m26-3l-6 12m20-13l-3 13m17-13l-2 13m16-13l-1 13m15-13l-1 13m15-13l0 13m15-13l0 13m14-13l0 13m14-13l0 13m14-13l0 13m14-13l0 13m14-13l0 13m14-13l0 13m-395 3l0-13m14 13l-1-13m15 13l-1-13m16 13l-2-13m16 13l-2-13m16 13l-3-13m17 13l-3-13m17 13l-4-13m18 13l-4-12m18 12l-5-13m20 13l-5-12m19 12l-6-12m20 12l-7-11m21 11l-9-10m23 10l-11-6m26 5l-13 0m27 0l-11 8m25-9l-7 11m20-11l-5 12m19-12l-3 13m17-13l-2 13m17-13l-2 13m16-13l-1 13m15-13l-1 13m15-13l-1 13m15-13l0 13m14-13l0 13m14-13l0 13m14-13l0 13m-395 3l0-13m14 13l-1-13m15 13l-2-13m17 13l-3-13m17 13l-3-13m17 13l-4-12m18 12l-5-13m19 13l-5-12m19 12l-6-12m21 12l-6-11m20 11l-7-11m21 11l-8-10m22 10l-9-9m23 9l-11-8m26 8l-12-5m26 4l-13 0m27 0l-13 5m27-5l-10 8m24-9l-8 11m22-11l-6 12m20-12l-5 13m19-13l-3 13m17-13l-2 13m16-13l-2 13m16-13l-2 13m16-13l-1 13m15-13l-1 13m15-13l0 13m14-13l0 13m-395 3l0-13m14 13l-1-13m15 13l-2-13m17 13l-3-13m17 13l-4-12m18 12l-5-12m19 12l-6-12m20 12l-7-12m21 12l-7-11m22 11l-8-11m22 11l-9-10m23 10l-10-9m24 9l-10-8m24 8l-11-6m26 5l-12-4m26 4l-13-1m27 1l-13 3m27-3l-12 6m26-7l-10 9m24-9l-8 11m22-11l-6 11m20-11l-5 12m19-12l-4 13m18-13l-3 13m17-13l-2 13m16-13l-2 13m16-13l-1 13m15-13l-1 13m15-13l0 13m-395 3l0-13m14 13l-2-13m16 13l-3-13m18 13l-4-12m18 12l-5-12m19 12l-6-12m20 12l-7-11m21 11l-8-11m23 11l-8-10m22 10l-9-10m23 10l-10-9m24 9l-10-8m24 8l-11-7m25 6l-12-5m27 5l-13-3m27 3l-13-1m27 1l-13 2m27-2l-12 4m26-5l-11 7m25-7l-10 9m24-9l-8 10m22-10l-7 12m21-12l-5 12m19-12l-4 13m18-13l-3 13m17-13l-2 13m16-13l-1 13m15-13l-1 13m15-13l0 13m-395 3l0-13m14 13l-2-13m17 13l-4-13m18 13l-5-12m19 12l-6-11m20 11l-7-11m21 11l-8-10m23 10l-9-10m23 10l-9-9m23 9l-10-9m24 9l-10-8m24 7l-11-7m25 7l-12-6m26 6l-12-5m27 5l-13-3m27 3l-13-1m27 1l-13 1m27-1l-13 3m27-4l-12 6m26-6l-11 8m25-8l-10 9m24-9l-8 10m22-10l-7 12m21-12l-5 12m19-12l-4 13m18-13l-3 13m17-13l-2 13m16-13l-1 13m15-13l0 13m-395 3l0-13m14 13l-3-13m18 13l-5-12m19 12l-6-11m20 11l-8-11m22 11l-8-10m22 10l-9-10m24 10l-10-9m24 9l-10-9m24 8l-11-8m25 8l-11-7m25 7l-12-7m26 7l-12-5m26 5l-12-4m27 4l-13-3m27 3l-13-1m27 1l-13 0m27 0l-13 2m27-3l-12 4m26-4l-12 6m26-6l-11 8m25-8l-9 9m23-9l-8 11m22-11l-6 11m20-11l-5 13m19-13l-3 13m17-13l-2 13m16-13l-1 13m15-13l0 13m-395 3l0-13m14 13l-4-13m19 13l-6-12m20 12l-8-11m22 10l-8-10m22 10l-9-9m23 9l-10-9m25 9l-10-8m24 8l-11-8m25 8l-11-7m25 7l-12-7m26 7l-12-6m26 6l-12-5m26 5l-12-4m27 4l-13-3m27 3l-13-2m27 2l-13 0m27 0l-13 1m27-2l-13 3m27-3l-12 5m26-5l-12 7m26-7l-10 8m24-8l-9 10m23-10l-7 11m21-11l-6 12m20-12l-4 13m18-13l-2 13m16-13l-1 13m15-13l0 13m-395 3l0-13m15 13l-5-12m19 11l-7-11m21 11l-9-10m23 10l-10-9m24 9l-10-9m24 9l-10-8m25 8l-11-8m25 8l-11-7m25 7l-12-7m26 7l-12-6m26 6l-12-5m26 5l-12-5m27 5l-13-4m27 4l-13-3m27 3l-13-2m27 2l-13-1m27 0l-13 1m27-1l-13 2m27-2l-13 4m27-4l-12 6m26-6l-11 7m25-7l-10 9m24-9l-8 10m22-10l-7 12m21-12l-5 13m19-13l-3 13m17-13l-2 13m16-13l0 13m-395 2l-1-13m16 13l-7-11m21 11l-9-9m23 9l-10-9m24 9l-10-8m24 8l-11-8m26 8l-11-7m25 7l-11-7m25 7l-12-7m26 7l-12-6m26 6l-12-6m26 6l-12-5m26 5l-12-4m27 4l-13-4m27 4l-13-3m27 3l-13-2m27 2l-13-1m27 0l-13 0m27 0l-13 2m27-2l-13 3m27-3l-12 4m26-4l-12 6m26-6l-11 8m25-8l-9 9m23-9l-8 11m22-12l-6 12m20-12l-3 13m17-13l-2 13m16-13l0 13m-395 1l-3 13m18-11l-11-7m25 7l-11-7m25 7l-11-7m25 7l-11-7m25 7l-11-7m26 7l-11-6m25 6l-12-6m26 6l-12-6m26 6l-12-5m26 5l-12-5m26 5l-12-5m26 5l-12-4m27 4l-13-4m27 4l-13-3m27 2l-13-2m27 2l-13-1m27 1l-13 0m27 0l-13 1m27-1l-13 2m27-2l-13 3m27-3l-12 5m26-5l-12 7m26-7l-10 8m24-8l-8 10m22-11l-6 11m20-11l-4 13m18-13l-2 13m16-13l0 13m-395 1l-1 13m16-12l-13 3m27-3l-13-3m27 4l-12-5m26 5l-12-5m27 5l-12-5m26 5l-12-5m26 5l-12-5m26 5l-12-5m26 5l-12-5m26 5l-12-5m26 5l-12-5m26 5l-12-4m27 4l-13-4m27 3l-13-3m27 3l-13-3m27 3l-13-2m27 2l-13-1m27 1l-13 0m27 0l-13 1m27-1l-13 2m27-2l-13 4m27-4l-12 6m27-6l-11 7m24-7l-9 9m23-10l-7 11m21-11l-5 13m19-13l-2 13m16-13l0 13m-395 1l0 13m15-13l-8 10m22-9l-13 2m27-2l-13-2m27 2l-13-4m28 4l-12-4m26 5l-12-5m26 5l-12-5m26 5l-12-5m26 5l-12-5m26 5l-12-5m26 4l-12-4m26 4l-12-4m27 4l-13-4m27 4l-13-3m27 3l-13-3m27 3l-13-2m27 2l-13-2m27 2l-13-1m27 1l-13 0m27 0l-13 1m27-1l-13 3m27-3l-12 4m27-4l-12 6m26-7l-10 8m23-8l-8 10m22-10l-5 12m19-12l-2 13m16-13l0 13m-395 1l0 13m15-13l-6 12m20-11l-12 6m26-6l-13 1m27-1l-13-2m28 2l-13-3m27 3l-12-4m26 4l-12-4m26 4l-12-4m26 4l-12-5m26 5l-12-4m26 4l-12-4m26 4l-12-4m26 4l-12-4m27 4l-13-4m27 4l-13-3m27 3l-13-3m27 3l-13-2m27 2l-13-1m27 1l-13 0m27 0l-13 0m27 0l-13 2m28-2l-13 3m27-3l-12 5m26-6l-11 7m25-7l-9 9m22-9l-6 12m20-12l-3 13m17-13l0 13m-395 1l0 13m14-13l-4 13m19-13l-9 9m23-8l-13 4m27-4l-13 0m28 0l-13-2m27 2l-13-3m27 3l-13-4m27 4l-12-4m26 4l-12-4m26 4l-12-4m26 4l-12-4m26 4l-12-4m26 4l-12-4m27 4l-13-4m27 4l-13-4m27 4l-13-3m27 3l-13-3m27 3l-13-2m27 2l-13-1m27 1l-13 0m27 0l-13 0m28 0l-13 2m27-2l-13 4m27-5l-12 6m26-6l-10 8m24-8l-7 11m20-11l-3 13m17-13l0 13m-395 1l0 13m14-13l-3 13m18-13l-7 11m21-11l-12 7m26-6l-13 2m28-2l-13 0m27 0l-13-2m27 2l-13-3m27 3l-13-4m27 4l-12-4m26 4l-12-4m26 4l-12-4m26 4l-12-4m26 4l-12-4m27 4l-12-4m26 4l-12-4m26 4l-13-4m27 4l-13-3m27 3l-13-3m27 3l-13-2m27 2l-13-2m27 2l-13-1m28 1l-13 0m27 0l-13 2m27-3l-12 4m26-4l-11 7m25-7l-8 10m21-10l-4 13m18-13l0 13m-395 1l0 13m14-13l-2 13m17-13l-6 12m20-12l-10 9m24-9l-13 5m28-4l-13 1m27-1l-13-1m27 1l-13-3m27 3l-13-3m27 3l-12-4m26 4l-12-4m26 4l-12-5m26 5l-12-5m26 5l-12-5m27 5l-12-5m26 5l-12-5m26 5l-12-4m26 4l-12-4m26 4l-13-4m27 4l-13-3m27 3l-13-3m27 3l-13-2m28 2l-13-1m27 1l-13 0m27-1l-13 2m27-2l-12 5m26-5l-10 9m23-9l-5 12m19-12l0 13m-395 0l0 13m14-13l-2 13m17-12l-4 12m18-12l-8 11m22-11l-11 7m26-7l-13 3m27-2l-13 0m27 0l-13-2m27 2l-13-3m27 3l-13-4m27 4l-12-4m26 4l-12-5m26 5l-12-5m26 5l-12-5m27 5l-12-5m26 5l-12-5m26 5l-12-5m26 5l-12-5m26 5l-12-5m26 5l-12-4m26 4l-13-4m27 4l-13-3m28 3l-13-3m27 3l-13-2m27 2l-13 0m27-1l-13 2m27-2l-11 6m25-6l-7 12m20-13l0 13m-395 1l0 13m14-13l-1 13m15-13l-3 13m18-13l-6 12m20-11l-9 9m24-9l-12 6m26-6l-13 2m27-2l-13-1m27 2l-13-3m27 3l-13-4m27 4l-12-5m26 5l-12-5m26 5l-12-5m26 5l-12-6m27 6l-12-6m26 6l-12-6m26 6l-12-6m26 6l-12-6m26 6l-12-6m26 6l-12-5m26 5l-12-5m26 5l-12-5m26 5l-12-4m27 4l-13-3m27 3l-13-3m27 2l-13-1m27 1l-13 2m27-2l-9 9m22-10l-1 13m-394 1l0 13m14-13l-1 13m15-13l-2 13m17-13l-4 12m18-12l-7 11m21-10l-11 8m26-8l-13 4m27-4l-13 0m27 0l-13-2m27 3l-13-4m27 4l-12-5m26 5l-12-6m26 6l-11-6m25 6l-12-7m26 7l-11-7m26 7l-11-7m25 7l-11-7m25 7l-11-7m25 7l-11-7m25 7l-11-7m25 7l-12-7m26 7l-12-6m26 6l-12-6m27 6l-12-5m26 5l-12-5m26 5l-12-4m26 4l-13-3m27 2l-13 2m26-3l-1 13m-394 1l0 13m14-13l-1 13m15-13l-2 13m17-13l-3 13m17-13l-5 12m19-12l-8 10m23-9l-11 6m25-6l-13 2m27-2l-13-2m27 2l-12-4m26 5l-12-5m26 5l-12-7m26 7l-11-7m25 7l-11-8m25 8l-11-8m26 8l-10-8m24 8l-10-8m24 8l-10-8m24 8l-10-8m24 8l-10-8m24 8l-11-8m25 8l-11-8m25 8l-11-8m26 8l-11-8m25 8l-11-7m25 7l-11-7m25 7l-11-7m25 7l-11-8m25 8l-4-13m-392 25l0 13m14-13l0 13m14-13l-1 13m16-13l-2 13m16-13l-3 13m17-13l-6 12m20-12l-9 9m24-8l-12 4m26-4l-13-1m27 1l-12-4m26 5l-12-7m26 7l-11-8m25 8l-10-8m24 8l-10-9m24 9l-10-9m24 9l-9-9m24 9l-9-9m23 9l-9-9m23 9l-9-9m23 9l-9-9m23 9l-9-9m23 9l-9-9m23 9l-9-9m23 9l-9-9m23 9l-9-9m24 9l-9-10m23 10l-8-10m22 10l-6-12m19 12l0-13m-395 25l0 13m14-13l0 13m14-13l0 13m14-13l-1 13m16-13l-1 13m15-13l-2 13m16-13l-5 12m20-12l-10 9m24-8l-13 1m27-1l-12-6m26 7l-10-8m24 8l-9-10m23 10l-8-10m22 10l-8-10m22 10l-8-11m22 11l-8-11m22 11l-8-11m23 11l-8-11m22 11l-8-11m22 11l-8-11m22 11l-8-11m22 11l-8-11m22 11l-8-11m22 11l-8-11m22 11l-7-11m21 11l-7-11m21 11l-6-12m20 12l-4-13m18 13l0-13m-395 25l0 13m14-13l0 13m14-13l0 13m14-13l1 13m13-13l1 13m14-13l0 13m14-13l0 13m14-13l-2 13m17-13l-11 8m25-6l-9-9m23 9l-7-12m21 12l-6-12m20 12l-5-12m19 12l-5-12m19 12l-5-12m19 12l-5-12m19 12l-5-12m19 12l-5-12m20 12l-6-12m20 12l-6-12m20 12l-6-12m20 12l-6-12m20 12l-6-12m20 12l-6-12m20 12l-5-12m19 12l-5-12m19 12l-4-13m18 13l-2-13m16 13l0-13m-395 25l0 13m14-13l1 13m13-13l1 13m13-13l1 13m13-13l2 13m12-13l3 13m11-13l4 13m10-13l6 12m8-12l10 8m4-6l9-10m6 10l2-13m12 13l0-13m14 13l-1-13m16 13l-1-13m15 13l-2-13m16 13l-2-13m16 13l-2-13m16 13l-3-13m17 13l-3-13m17 13l-3-13m18 13l-4-13m18 13l-4-13m18 13l-4-13m18 13l-4-13m18 13l-4-13m18 13l-3-13m17 13l-2-13m16 13l-2-13m16 13l0-13m-395 25l0 13m14-13l1 13m13-13l1 13m13-13l2 13m12-13l3 13m11-13l4 12m10-12l7 12m7-12l9 10m5-10l12 5m2-4l13-3m1 3l10-9m5 9l6-11m8 12l4-12m10 12l3-13m11 13l2-13m13 13l1-13m13 13l0-13m14 13l0-13m14 13l-1-13m15 13l-1-13m15 13l-1-13m16 13l-2-13m16 13l-2-13m16 13l-2-13m16 13l-2-13m16 13l-2-13m16 13l-2-13m16 13l-1-13m15 13l0-13m-395 24l0 13m14-13l1 13m13-13l2 13m12-13l3 13m11-12l4 12m10-12l6 12m8-12l8 10m6-10l11 8m3-8l12 4m2-3l13-1m1 1l12-6m2 6l10-9m5 9l8-11m6 11l6-12m8 13l5-13m9 13l4-13m11 13l3-13m11 13l2-13m12 13l2-13m12 13l1-13m13 13l0-13m14 13l0-13m15 13l0-13m14 13l0-13m14 13l-1-13m15 13l-1-13m15 13l-1-13m15 13l0-13m14 13l0-13m-395 24l0 13m14-13l1 13m13-13l2 13m12-13l3 13m11-13l5 12m9-12l7 11m7-10l9 9m5-9l11 7m3-7l13 3m1-3l13 0m1 1l13-4m1 4l11-7m4 7l10-9m4 9l8-10m6 10l7-11m7 11l6-12m8 12l5-12m10 12l4-12m10 12l4-13m10 13l3-13m11 13l2-13m12 13l2-13m12 13l1-13m14 13l1-13m13 13l0-13m14 13l0-13m14 13l0-13m14 13l0-13m14 13l0-13m-395 25l0 13m14-13l1 13m13-13l2 13m12-13l4 13m10-13l6 12m8-12l8 10m6-9l10 8m4-8l12 6m2-6l13 3m1-3l13 0m1 0l13-3m1 4l12-5m2 5l11-7m4 7l10-9m4 9l9-10m5 10l8-11m6 11l7-11m7 11l6-12m9 12l5-12m9 12l4-12m10 12l4-13m10 13l3-13m11 13l3-13m11 13l2-13m13 13l2-13m12 13l1-13m13 13l1-13m13 13l0-13m14 13l0-13m-395 25l0 13m14-13l1 13m13-13l3 13m11-13l4 12m10-12l7 11m7-11l9 10m5-10l11 8m3-7l12 5m2-5l13 3m1-3l13 0m1 0l13-2m1 2l12-4m2 5l11-6m4 6l11-8m3 8l10-9m4 9l9-10m5 10l8-10m6 10l7-11m7 11l7-12m8 12l6-12m8 12l5-12m9 12l4-12m10 12l4-13m10 13l3-13m12 13l2-13m12 13l2-13m12 13l1-13m13 13l0-13m14 13l0-13m-395 25l0 13m14-13l1 13m13-13l3 13m11-13l5 12m9-12l7 11m7-11l9 9m5-9l11 7m3-6l12 5m2-5l13 2m1-2l13 0m1 0l13-2m1 2l13-4m1 4l12-5m3 6l12-7m2 7l11-8m3 8l10-9m4 9l9-10m5 10l8-10m6 10l8-11m7 11l7-11m7 11l6-12m8 12l5-12m9 12l5-13m9 13l4-12m11 12l3-13m11 13l2-13m12 13l2-13m12 13l1-13m13 13l0-13m-395 25l0 13m14-13l1 13m13-13l3 13m11-13l6 12m8-12l8 11m6-11l10 9m4-9l12 7m2-6l12 4m2-4l13 2m1-2l13 1m1-1l13-1m1 1l13-3m1 3l12-4m3 4l12-6m2 6l11-7m3 8l10-8m4 8l10-9m4 9l9-10m5 10l8-10m7 10l8-11m6 11l7-11m7 11l6-11m8 11l5-12m9 12l5-12m9 12l4-12m11 12l3-13m11 13l2-13m12 13l1-13m13 13l0-13m-395 25l0 13m14-13l2 13m12-13l4 13m10-13l6 12m8-12l8 10m6-10l10 8m4-8l12 6m2-6l12 4m2-3l13 2m1-2l13 1m1-1l13-1m1 1l13-3m1 3l13-4m2 4l12-5m2 5l11-6m3 6l11-7m3 7l10-8m4 9l10-9m4 9l9-10m6 10l8-10m6 10l8-11m6 11l7-11m7 11l6-11m8 11l5-12m9 12l4-12m11 12l4-13m10 13l2-13m12 13l1-13m13 13l0-13m-395 25l0 13m14-13l2 13m12-13l4 13m10-13l7 12m7-12l9 10m5-10l11 8m3-8l12 6m2-6l13 4m1-3l13 2m1-2l13 1m1-1l13-1m1 1l13-2m1 2l13-4m1 4l13-5m2 5l12-6m2 6l11-7m3 7l11-8m3 8l10-8m4 8l10-9m4 9l9-10m6 10l8-10m6 11l8-11m6 11l7-11m7 11l6-12m8 12l5-12m10 12l4-12m10 12l3-13m11 13l1-13m13 13l0-13m-395 25l0 13m14-13l2 13m12-13l4 12m10-12l7 11m7-11l9 9m5-9l11 7m3-7l12 5m2-5l13 4m1-4l13 2m1-2l13 1m1 0l13-1m1 1l13-2m1 2l13-3m2 3l12-4m2 4l12-5m2 5l11-6m3 6l11-7m3 7l11-8m3 8l10-8m4 8l10-9m5 9l9-10m5 10l8-10m6 10l8-11m6 11l7-11m7 12l6-12m9 12l4-12m10 12l3-13m11 13l2-13m12 13l0-13m-395 24l0 13m14-13l2 13m12-13l4 12m10-11l7 11m7-11l9 9m5-9l11 7m3-7l12 5m2-5l13 3m1-3l13 2m1-2l13 1m1 0l13-1m1 1l13-2m1 2l13-3m1 3l13-4m2 4l12-5m2 5l12-6m2 6l12-7m2 7l11-7m3 7l10-8m4 8l10-8m5 8l9-9m5 9l9-10m5 10l8-10m6 10l7-11m7 11l6-12m8 12l5-12m10 12l3-13m11 13l2-13m12 13l0-13m-395 25l0 13m14-13l2 13m12-13l5 12m9-12l8 11m6-10l10 9m4-9l12 7m2-7l13 5m1-5l13 3m1-3l13 2m1-2l13 1m1-1l13-1m1 1l13-2m1 3l13-3m1 3l13-4m2 4l12-4m2 4l12-5m2 5l12-6m2 6l11-7m3 7l11-7m3 7l10-8m4 8l10-9m5 9l9-9m5 9l9-10m5 10l8-11m6 11l7-11m7 11l5-12m10 12l4-13m10 13l2-13m12 13l0-13m-395 25l0 13m14-13l2 13m12-13l5 12m9-12l8 10m6-9l10 8m4-8l12 6m2-6l12 4m2-4l13 3m1-3l13 2m1-2l13 1m1-1l13-1m1 1l13-2m1 2l13-2m1 2l13-3m2 4l13-4m1 4l12-5m2 5l12-6m2 6l11-6m3 6l11-7m3 7l11-8m3 8l10-8m5 8l10-9m4 9l9-10m5 10l8-10m6 10l7-11m7 11l6-12m9 12l4-12m10 12l2-13m12 13l0-13m-395 25l0 13m14-13l3 13m11-13l6 12m8-12l9 10m5-10l11 8m3-7l12 6m2-6l13 4m1-4l13 2m1-2l13 1m1-1l13 1m1-1l13 0m1 0l13-1m1 1l13-2m1 2l13-3m2 3l13-4m1 4l12-4m2 4l12-5m2 6l12-6m2 6l11-6m3 6l11-7m3 7l11-8m4 8l10-8m4 8l10-9m4 9l9-10m5 10l8-11m6 11l7-12m8 12l5-13m9 13l2-13m12 13l0-13m-395 25l0 13m14-13l3 13m11-13l7 12m7-12l9 9m5-9l11 7m3-6l12 5m2-5l13 3m1-3l13 2m1-2l13 1m1-1l13 0m1 0l13 0m1 0l13-1m1 1l13-2m1 2l13-2m2 2l13-3m1 3l13-4m1 4l12-4m2 4l12-5m2 5l12-6m2 6l11-6m3 7l11-7m4 7l11-7m3 7l10-8m4 8l10-9m4 9l9-10m5 10l7-11m8 11l5-12m9 12l3-13m11 13l0-13m-395 25l0 13m14-13l4 13m10-13l8 11m6-11l10 8m3-8l12 6m3-5l12 4m2-4l13 3m1-3l13 2m1-2l13 1m1-1l13 0m1 0l13 0m1 0l13-1m1 1l13-2m1 2l13-2m2 2l13-3m1 3l13-3m1 3l13-4m1 4l12-4m2 4l13-5m1 5l12-5m2 5l12-6m3 6l11-6m3 6l11-7m3 8l10-8m4 8l10-9m4 9l8-10m6 10l6-12m9 12l3-13m11 13l0-13m-395 25l0 13m14-13l5 13m9-13l9 10m4-10l11 7m3-7l12 5m3-4l13 3m1-3l13 2m1-2l13 1m1-1l13 1m1-1l13 0m1 0l13 0m1 0l13-1m1 1l13-1m1 1l13-2m2 2l13-2m1 2l13-2m1 2l13-3m1 3l13-3m1 3l13-4m1 4l13-4m1 4l13-5m1 5l12-5m3 5l12-6m2 6l12-7m2 7l11-8m3 8l9-9m5 10l8-11m7 11l4-12m10 12l0-13m-395 25l0 13m14-13l7 12m6-12l11 8m3-8l12 5m2-5l13 3m2-3l13 2m1-2l13 2m1-1l13 1m1-1l13 1m1-1l13 0m1 0l13 0m1 0l13 0m1 0l13-1m1 1l13-1m2 1l13-1m1 1l13-2m1 2l13-2m1 2l13-2m1 2l13-2m1 2l13-3m1 3l13-3m1 3l13-4m1 4l13-4m2 4l13-5m1 5l12-6m2 6l11-7m3 7l9-9m6 10l6-12m8 12l0-13m-395 24l1 13m12-12l10 9m4-9l12 4m2-4l13 3m1-3l13 2m2-2l13 1m1-1l13 1m1-1l13 1m1 0l13 0m1 0l13 0m1 0l13 0m1 0l13 0m1 0l13 0m1 0l13 0m2 0l13-1m1 1l13-1m1 1l13-1m1 1l13-1m1 1l13-1m1 1l13-1m1 1l13-2m1 2l13-2m1 2l13-2m2 2l13-2m1 2l13-3m1 3l13-4m1 4l12-6m2 6l9-9m6 10l0-13m-396 25l9 9m5-9l13 1m1-1l13 0m1 0l13 0m1 0l13 0m2 0l13 0m1 0l13 0m1 0l13 0m1 0l13 0m1 0l13 0m1 0l13 0m1 0l13 0m1 0l13 0m1 0l13 0m2 0l13 0m1 0l13 0m1 0l13 0m1 0l13 0m1 0l13 0m1 0l13 0m1 0l13 0m1 0l13 0m1 0l13 0m2 0l13 0m1 0l13 0m1 0l13 0m1 0l13 0m1 0l13 0m1 1l9-9"/><clipPath id="fc3"><rect width="197.6" height="395.7"/></clipPath></defs><g transform="translate(30.4 33.4)">
<g clip-path="url(#fc0)">
<rect width="197.2" height="393.4" fill="#f3f3f3"/>
<g filter="url(#bl)"><g transform="scale(.5)"><path d="M-3-6l403 0 0 50-2 2-6 0-13-11-3-1-6 0-3 3-5 18-8 10-11 7-8 2-6 0-13-4-11-7-10-10-7-16-2-3-4-3-9-2-18-3-180-13-81-2 0-17z" fill="#f2eddf"/><path d="M-3-6l403 0 0 41-5 4-3-1-11-9-7-3-9 1-9 2-5 2-1 3 2 13-3 8-9 6-11 2-9-2-8-6-4-8 1-13-2-3-5-2-10-3-22-3-162-10-50-3-64-1 0-15z" fill="#f1e7d2"/><path d="M-3-6l403 0 0 36-5 3-3 0-11-8-8-2-49 3-54-5-188-11-88-2 0-14z" fill="#efe2c2"/><path d="M-3-6l403 0 0 32-5 3-3 0-11-7-8-2-52 2-221-12-75-3-31 0 0-13z" fill="#e6d5aa"/><path d="M-3-6l403 0 0 30-5 2-3 0-11-6-8-1-60 0-263-12-56 0 0-13z" fill="#dec99a"/><path d="M-3-6l403 0 0 28-5 2-3-1-11-4-8-1-74-1-234-10-71 0 0-13z" fill="#d4bb88"/><path d="M-3-6l403 0 0 26-8 2-11-4-8-2-71 0-224-9-84-1 0-12z" fill="#c0a06a"/><path d="M-3-6l403 0 0 25-8 1-11-3-8-2-98 0-186-8-95-1 0-12z" fill="#b7955e"/><path d="M-3-6l403 0 0 24-8 1-11-3-8-1-90-1-191-7-98-2 0-11z" fill="#ad8751"/><path d="M-3-6l403 0 0 23-8 1-11-3-8-1-84 0-194-7-101-2 0-11z" fill="#a07945"/><path d="M-3-6l403 0 0 22-8 1-19-4-120-1-153-5-106-2 0-11z" fill="#916b3c"/><path d="M-3-6l403 0 0 21-8 1-19-3-120-1-147-6-112-2 0-10z" fill="#815830"/><path d="M-3-6l403 0 0 20-8 1-19-3-120-1-139-5-120-2 0-10z" fill="#6e4b28"/><path d="M-3-6l403 0 0 20-11 0-13-3-123 0-95-3-33-2-131-3 0-9z" fill="#543a20"/><path d="M-3-6l403 0 0 19-11 0-5-2-5-1-126 0-27-2-71-1-6-1-10-1-74 0-16-2-55-1 0-8z" fill="#48321b"/><path d="M381 62l3-1 5 3 5 5 3 5 2 14-2 13-6 13-7 10-11 10-11 6-8 3-14 2-11 0-13-3-11-5-9-7-8-8-7-10-3-8-1-11 1-8 2-4 3-3 3-1 5 2 22 9 8 2 8 1 9-1 11-3 8-5z" fill="#deeae8"/><path d="M381 73l6 0 2 2 3 6 1 12-2 11-6 10-6 9-11 8-11 6-11 3-11 0-8-1-11-3-8-4-9-7-7-8-4-8-2-11 3-6 8-1 27 6 16-1 17-7z" fill="#cee5e0"/><path d="M376 85l8-2 3 2 1 11-3 10-4 8-8 9-8 6-11 5-11 3-8 0-16-4-14-8-5-5-5-8-1-6 3-4 8-1 22 1 13-1 16-5z" fill="#b8d9d2"/><path d="M370 95l6-2 5 1 2 7-3 8-5 8-5 5-8 6-8 3-8 2-8 1-14-2-13-7-7-8-1-3 1-2 4-2 35-5z" fill="#a8cfc6"/><path d="M368 103l5 0 3 2-1 4-2 5-8 8-14 7-11 2-11-1-11-5-4-5 2-3 5-3 22-4z" fill="#99c4ba"/><path d="M351 114l8-1 5 1 0 3-2 3-8 5-14 3-10-3-1-3 4-2z" fill="#88b5ad"/></g></g>
<g transform="scale(.5)" fill="none" stroke="#555"><use href="#a00" class="sh"/><use href="#a00" class="h1" stroke-dasharray="0 7.2 2.4 99"/><use href="#a00" class="h2" stroke-dasharray="0 9.6 2.1 99"/><use href="#a00" class="h3" stroke-dasharray="0 11.7 1.5 99"/></g>
<rect x="47.1" width="3" height="393.4" fill="#00007f"/>
<rect x="96.3" width="3" height="393.4" fill="#8a3761"/>
<rect x="145.2" width="3" height="393.4" fill="#4868ef"/>
</g>
<rect width="197.2" height="393.4" fill="none" stroke="#8a8a8a"/>
<rect x="-.5" y="-.5" width="198.2" height="1.6" fill="#222"/>
</g>
<g transform="translate(802.5 33.1)">
<g clip-path="url(#fc1)">
<rect width="197.4" height="393.3" fill="#f3f3f3"/>
<g filter="url(#bl)"><g transform="scale(.5)"><path d="M-3-6l404 0 0 92-9 12-5 5-16 7-34 28-21 14-13 5-17 3-16 1-17-3-16-5-16-9-17-11-24-21-14-7-6-4-4-8-4-11 0-13 1-22-2-5-3-3-5-2-9-3-82-16-36-5-22 0 0-19z" fill="#f2eddf"/><path d="M-3-6l404 0 0 56-15 13-6 19-5 8-10 9-19 21-16 13-14 8-16 6-17 1-19-1-19-4-19-9-17-12-15-16-13-19-4-8-1-13 4-24-3-5-4-3-8-3-13-2-43-4-78-12-37-2 0-17z" fill="#f1e7d2"/><path d="M-3-6l404 0 0 45-6 4-2 1-6-2-11-9-5-1-7 2-2 3-2 5 5 19 1 8-1 5-10 19-12 16-16 14-16 9-19 4-22 0-19-4-17-7-16-11-12-13-6-11-3-13 0-14 6-21-1-5-3-3-15-5-18-3-55-4-68-9-29-3-20 0 0-16z" fill="#efe2c2"/><path d="M-3-6l404 0 0 39-6 3-2 0-3 0-11-8-8-2-18 3-9 2-4 3-2 3-1 2 9 19 1 13-3 14-7 13-13 13-13 8-19 5-20 0-16-3-16-7-14-10-8-11-4-11-1-13 3-11 10-19 0-2-2-3-4-3-10-3-25-3-76-5-83-10-32-1 0-15z" fill="#e6d5aa"/><path d="M-3-6l404 0 0 35-6 2-2 0-17-7-11-1-42 6-10 2-5 3-2 3 2 2 14 14 7 10 2 11-2 11-7 11-6 6-7 4-9 4-8 1-17 1-16-4-14-7-9-8-5-11-1-11 3-10 7-9 14-13 2-2-1-3-5-3-25-5-24-3-81-3-85-10-41-2 0-14z" fill="#dec99a"/><path d="M-3-6l404 0 0 32-8 2-14-5-11-2-74 5-19 1-83-6-83-4-67-7-48-2 0-14zM270 55l8-1 8 0 8 2 9 5 5 6 3 7-2 8-3 5-6 5-6 3-13 2-14-3-11-7-5-8 0-5 1-5 7-8z" fill="#d4bb88"/><path d="M-3-6l404 0 0 30-8 1-14-4-8-1-96 3-161-6-66-7-35-2-19-1 0-13z" fill="#c0a06a"/><path d="M-3-6l404 0 0 28-8 1-14-4-8-1-96 3-158-5-96-9-27 0 0-13z" fill="#b7955e"/><path d="M-3-6l404 0 0 26-8 2-14-4-8-1-99 2-163-4-83-8-32 0 0-13z" fill="#ad8751"/><path d="M-3-6l404 0 0 25-8 1-22-4-101 2-159-4-82-7-35-1 0-12z" fill="#a07945"/><path d="M-3-6l404 0 0 24-8 1-14-3-11-1-96 2-158-3-85-7-35-1 0-12z" fill="#916b3c"/><path d="M-3-6l404 0 0 23-8 1-22-3-99 1-155-3-85-7-38 0 0-12z" fill="#815830"/><path d="M-3-6l404 0 0 22-8 1-22-3-101 1-150-2-85-7-41-1 0-11z" fill="#6e4b28"/><path d="M-3-6l404 0 0 22-8 0-11-2-11-1-156 1-123-3-52-5-46-1 0-11z" fill="#543a20"/><path d="M-3-6l404 0 0 20-6 1-11-2-13 0-156 0-46-2-77-1-8-2-30-1-3-1-5-1-52 0 0-11z" fill="#48321b"/><path d="M371 134l2-1 6 2 7 9 5 10 5 22 5 15 0 183-3 12-3 6-2-1-3-6-3-13-3-28-2-54 0-34 1-38-1-10-3-1-6 3-21 21-14 11-14 8-11 4-19 6-13 2-14 0-16-2-14-3-19-8-14-8-11-9-12-14-8-13-6-16-2-13 0-11 1-8 4-8 4-4 6 0 8 3 35 19 17 7 19 4 19 1 19-4 19-7 15-8z" fill="#deeae8"/><path d="M368 146l5-1 5 4 3 8 1 8-2 16-4 11-6 10-15 19-17 15-19 11-14 5-11 2-22 2-19-2-19-5-16-8-16-12-13-13-8-14-7-18-1-8 1-8 2-6 4-3 13 3 33 14 16 5 17 3 19 1 19-4 16-5z" fill="#cee5e0"/><path d="M365 156l6 0 2 2 2 7 0 11-2 10-4 8-12 19-14 15-16 11-16 8-19 5-20 1-16-2-19-5-16-8-14-10-12-12-9-14-5-16 0-8 1-4 3-2 6 0 10 2 30 10 17 4 19 2 19-2 14-3 13-4 39-19z" fill="#b8d9d2"/><path d="M357 167l8-1 3 1 2 3 0 6-1 8-4 10-11 19-13 14-17 11-19 8-16 4-17 1-16-2-16-5-14-6-14-9-13-13-8-14-3-10 0-6 1-2 4-2 6 0 54 11 17 1 16-1 25-7z" fill="#a8cfc6"/><path d="M354 175l9 0 1 3 1 6-2 8-4 8-10 16-11 10-14 10-16 7-16 4-17 2-16-2-14-3-13-6-14-8-10-9-8-11-5-10 0-6 1-1 8-3 11 1 41 7 16 0 14-1 22-6 35-13z" fill="#99c4ba"/><path d="M346 184l11 0 2 2 0 3-4 13-12 16-10 10-14 8-14 6-16 4-14 1-13-1-14-3-14-6-10-5-10-8-9-11-3-8 0-3 2-2 8-2 47 4 27-2 19-4z" fill="#88b5ad"/><path d="M338 191l11 0 3 1 1 2-1 6-2 5-10 13-10 9-14 9-13 5-14 3-14 1-11-1-13-2-11-4-11-6-11-8-6-8-2-6 1-2 1-2 9-2 43 1 25-2z" fill="#7aa9a2"/><path d="M324 199l14-2 8 3 0 5-7 11-11 10-12 8-13 5-14 3-22 1-11-2-11-3-12-6-7-6-6-5-2-5 3-4 8-2 52-2 19-3z" fill="#679a93"/><path d="M319 205l11-1 8 2 1 2 0 2-3 6-8 8-12 8-12 5-12 3-20 1-19-3-15-6-7-6-4-5 2-3 8-3 46-4z" fill="#578982"/><path d="M297 213l25-3 8 3 0 3-3 5-10 8-11 5-12 4-16 2-16-2-13-4-9-5-3-3 1-2 2-2 8-3z" fill="#497872"/><path d="M292 218l21-1 4 1 3 3-2 3-7 5-14 6-14 2-15 0-11-3-5-2-3-3 2-3 8-3z" fill="#3d6863"/><path d="M281 226l16-1 5 1 0 3-6 3-7 1-13 1-8-2 3-3z" fill="#375d59"/></g></g>
<g transform="scale(.5)" fill="none" stroke="#555"><use href="#a10" class="sh"/><use href="#a10" class="h1" stroke-dasharray="0 7.2 2.4 99"/><use href="#a10" class="h2" stroke-dasharray="0 9.6 2.1 99"/><use href="#a10" class="h3" stroke-dasharray="0 11.7 1.5 99"/></g>
<rect x="47.2" width="3" height="393.3" fill="#00007f"/>
<rect x="96.4" width="3" height="393.3" fill="#8a3761"/>
<rect x="145.4" width="3" height="393.3" fill="#4868ef"/>
</g>
<rect width="197.4" height="393.3" fill="none" stroke="#8a8a8a"/>
<rect x="-.5" y="-.5" width="198.4" height="1.6" fill="#222"/>
</g>
<g transform="translate(30.1 525.7)">
<g clip-path="url(#fc2)">
<rect width="197.6" height="395.7" fill="#f3f3f3"/>
<g filter="url(#bl)"><g transform="scale(.5)"><path d="M-3-6l404 0 0 43-5 2-6 0-16-9-3 1-3 2-1 7 3 27-1 16-2 16-6 21-7 19-9 14-9 11-14 10-8 4-11 4-22 3-60 0-49 1-19-1-11-2-11-3-17-9-13-14-11-18-7-21-5-30 1-27 4-32-1-5-3-3-5-3-11-3-20-2-49-2 0-17z" fill="#f2eddf"/><path d="M-3-6l404 0 0 36-8 2-5-3-9-5-8-2-11 2-5 2-2 3-1 5 4 24 1 19-2 19-4 19-6 16-8 13-10 12-11 8-16 7-22 3-115 0-21-4-17-8-13-12-10-16-8-22-3-27 1-27 6-29-1-5-3-3-5-3-9-3-17-2-29-3-40-1 0-15z" fill="#f1e7d2"/><path d="M-3-6l404 0 0 31-8 2-14-7-11-1-16 2-7 3-3 2-1 3 0 5 5 22 1 16 0 19-3 16-6 16-7 13-9 11-11 8-16 7-20 3-103 0-22-4-17-7-8-6-5-6-11-16-6-22-3-21 2-25 7-29-1-5-3-3-14-6-15-2-26-3-56-2 0-14z" fill="#efe2c2"/><path d="M-3-6l404 0 0 28-8 1-14-5-16-1-12 1-13 3-5 3-3 2-1 6 7 21 3 14 0 16-1 13-5 16-6 14-8 10-11 9-16 7-19 3-25 1-71-1-22-3-16-7-13-11-10-16-6-22-1-21 3-22 8-24-1-5-3-3-6-3-25-5-24-3-34-2-33-1 0-13z" fill="#e6d5aa"/><path d="M-3-6l404 0 0 26-8 1-16-5-17 0-23 2-12 3-5 3-3 2 1 6 7 16 4 13 2 14-1 16-3 13-5 14-8 10-11 9-14 6-19 3-25 1-62-1-22-3-17-6-7-6-6-5-9-15-4-18-1-21 4-19 11-24 0-3-1-2-11-6-26-5-63-6-37 0 0-13z" fill="#dec99a"/><path d="M-3-6l404 0 0 24-8 1-12-4-10-1-27 1-21 3-12 3-7 3-3 2 0 3 12 16 6 11 3 13 1 14-2 13-5 14-8 10-11 9-13 5-19 3-80 0-19-2-16-7-8-5-5-5-5-8-4-9-3-16 1-18 3-11 4-8 14-19 0-3-2-2-6-3-21-6-40-5-37-3-47 0 0-13z" fill="#d4bb88"/><path d="M-3-6l404 0 0 23-8 0-22-4-30 2-53 6-17 3-8 2 18 7 11 6 8 6 8 11 5 13 1 14-2 13-6 12-6 6-8 6-8 3-11 3-25 2-57 0-14-1-11-3-8-3-8-5-7-6-5-9-3-8-1-10 0-11 2-8 4-8 5-8 8-7 8-5 24-10-8-2-50-9-42-5-36-3-55-1 0-12z" fill="#c0a06a"/><path d="M-3-6l404 0 0 21-8 1-16-3-11 0-104 6-66 0-35-1-69-8-36-3-62-1 0-12zM188 42l66 0 16 2 12 4 12 8 7 11 2 13 0 8-3 7-5 8-8 7-12 4-10 2-22 2-49-1-17-2-14-4-9-7-7-11-3-13 3-13 6-10 8-7 12-5z" fill="#b7955e"/><path d="M-3-6l404 0 0 20-8 1-14-2-11-1-103 4-77 1-35-2-91-8-68-2 0-11zM196 56l52 0 11 0 11 3 8 4 7 6 3 8-1 8-3 7-6 5-8 4-11 2-16 1-39 0-13 0-11-3-11-5-6-5-3-8 1-9 4-7 7-6 11-3z" fill="#ad8751"/><path d="M-3-6l404 0 0 20-8 0-25-3-95 4-120-1-91-7-68-2 0-11z" fill="#a07945"/><path d="M-3-6l404 0 0 19-8 0-25-2-98 3-117-1-88-6-71-2 0-11z" fill="#916b3c"/><path d="M-3-6l404 0 0 18-8 1-25-3-95 3-129-1-76-6-74-2 0-10z" fill="#815830"/><path d="M-3-6l404 0 0 18-11 0-22-3-87 3-137 0-71-6-79-2 0-10z" fill="#6e4b28"/><path d="M-3-6l404 0 0 17-13 0-9-2-11 0-65 2-156 0-49-3-19-2-85-3 0-9z" fill="#543a20"/><path d="M-3-6l404 0 0 16-13 0-6-2-14 0-38 0-27 2-156 0-16-2-36-1-3-1-5-1-44 0-13-2-36-1 0-8z" fill="#48321b"/><path d="M382 165l6 2 5 7 5 11 3 13 0 43-4 16-9 22-7 13-11 16-12 14-14 14-17 12-16 10-16 8-17 6-19 4-16 3-17 1-16-1-16-2-20-5-16-6-16-7-14-8-16-13-23-22-12-16-9-13-7-16-5-14-4-21 1-19 4-13 4-6 4-3 14 1 41 13 24 3 19 0 58-3 49 1 19 0 19-4 19-7 16-9 31-21z" fill="#deeae8"/><path d="M371 192l11-2 3 1 3 3 5 12 2 16-2 19-4 19-8 19-8 16-12 16-10 11-13 12-13 10-14 9-16 8-14 5-19 5-30 4-30-2-30-7-14-5-16-8-14-9-14-10-12-12-10-11-9-13-8-14-5-13-4-14-2-13 1-11 3-6 3-2 5-2 8-1 11 0 41 6 22 2 63-5 44 0 16 0 16-3 19-6 44-20z" fill="#cee5e0"/><path d="M360 211l11-2 11 1 3 4 3 11 0 16-4 19-6 16-10 19-9 13-12 14-12 11-13 10-11 6-16 9-17 6-19 5-27 3-30-2-14-2-16-5-28-12-13-9-11-8-20-20-8-11-8-13-6-14-3-11 0-10 1-6 5-4 9-3 19-1 46 6 25 1 24-1 52-4 22-4 22-5z" fill="#b8d9d2"/><path d="M357 225l11-1 9 1 2 2 2 3 2 9-1 13-5 16-6 16-10 16-18 22-10 9-14 11-13 8-17 8-16 5-14 4-27 3-28-1-24-6-27-11-24-14-20-19-9-11-7-10-5-11-3-11-1-5 1-6 7-5 9-3 11-1 10 0 47 6 22 1 22 0 19-2 23-4 23-6 24-7 39-15z" fill="#a8cfc6"/><path d="M344 238l11-2 11 1 8 2 2 5 1 11-4 16-6 13-9 16-11 14-9 9-11 10-13 10-14 7-16 8-28 7-27 3-25-1-24-6-22-8-22-13-18-16-15-18-6-11-3-8-1-5 2-4 8-6 9-2 19-1 63 5 19-1 19-2 19-3 22-5z" fill="#99c4ba"/><path d="M338 249l11-2 11 1 8 3 3 4 0 8-4 13-6 14-8 13-8 11-11 10-23 18-14 8-13 6-28 8-22 2-24 0-25-5-22-8-21-12-18-14-14-16-4-8-3-8 0-5 3-3 8-5 8-2 20-1 57 2 35-2 37-8z" fill="#88b5ad"/><path d="M344 257l8 0 8 3 4 3 1 5-2 11-5 11-6 10-8 11-17 17-21 16-25 11-22 6-22 3-22 0-21-3-22-6-19-10-19-12-16-17-5-8-2-5 1-3 5-6 5-3 9-3 19-1 54 0 33-3 28-5 60-18z" fill="#7aa9a2"/><path d="M327 268l11-2 9 1 8 3 4 3 0 6-3 8-10 19-17 18-21 16-24 13-25 7-22 3-19 0-22-3-19-5-20-9-16-11-14-13-7-11 0-3 1-2 4-4 6-3 8-3 16-2 55-1 29-3 28-6z" fill="#679a93"/><path d="M322 276l11-1 8 0 6 2 5 4 0 6-2 5-9 16-15 16-20 16-22 11-25 8-19 2-19 1-19-2-19-5-20-8-15-9-12-11-5-5-2-6 0-2 5-6 8-4 8-2 16-2 47-3 24-2 28-5z" fill="#578982"/><path d="M311 284l19-1 8 2 6 3 1 2 0 5-7 13-14 16-18 14-22 12-25 7-19 3-16 1-20-2-16-4-17-6-15-8-14-11-5-8 1-3 5-5 7-4 8-3 14-2 68-6z" fill="#497872"/><path d="M297 292l19-2 14 2 6 2 2 4 1 2-3 6-5 8-7 8-17 13-21 12-24 8-17 3-16 1-16-1-17-2-14-5-18-8-11-8-7-8 2-5 5-4 8-4 8-2 71-9z" fill="#3d6863"/><path d="M300 297l16 0 10 3 4 3 1 3-3 8-13 13-15 11-19 10-20 6-16 3-13 1-17-1-13-2-15-4-13-5-13-8-5-5-1-3 2-3 4-4 7-4 8-3 67-9z" fill="#375d59"/><path d="M278 306l19-2 14 0 9 4 2 3 1 3-3 5-5 5-14 11-20 11-16 6-14 3-17 1-13 0-14-1-15-4-14-5-9-5-4-6 1-4 4-4 7-4 8-3z" fill="#2e504a"/><path d="M275 311l17-1 11 1 7 3 3 2 1 3-6 8-14 11-17 8-15 5-25 4-24-1-14-3-15-5-8-5-1-3 2-4 4-4 15-6 23-5z" fill="#244138"/><path d="M278 316l11 1 8 2 6 4 1 1-1 3-6 6-8 5-10 5-15 6-16 3-19 1-16-1-15-3-7-3-4-3-1-2 4-6 3-2 14-6 33-6z" fill="#1e3a2f"/></g></g>
<g transform="scale(.5)" fill="none" stroke="#555"><use href="#a20" class="sh"/><use href="#a20" class="h1" stroke-dasharray="0 7.2 2.4 99"/><use href="#a20" class="h2" stroke-dasharray="0 9.6 2.1 99"/><use href="#a20" class="h3" stroke-dasharray="0 11.7 1.5 99"/></g>
<rect x="47.2" width="3" height="395.7" fill="#00007f"/>
<rect x="96.5" width="3" height="395.7" fill="#8a3761"/>
<rect x="145.5" width="3" height="395.7" fill="#4868ef"/>
</g>
<rect width="197.6" height="395.7" fill="none" stroke="#8a8a8a"/>
<rect x="-.5" y="-.5" width="198.6" height="1.6" fill="#222"/>
</g>
<g transform="translate(802.3 525.7)">
<g clip-path="url(#fc3)">
<rect width="197.6" height="395.7" fill="#f3f3f3"/>
<g filter="url(#bl)"><g transform="scale(.5)"><path d="M-3-6l404 0 0 34-8 2-5 4-3 14-4 43-7 32-10 27-5 5-7 6-8 4-11 2-44 6-24 1-93 0-19 1-14 2-17 5-15 8-9 14-11 10-8 4-11 1-11-2-8-4-9-7-8-8-7-11-5-10-6-24 0-17 2-13 16-43 6-22 5-32 0-8-2-3-4-2-10-3-14-1-19 1 0-16zM139 491l16 1 16 2 14 3 12 5 11 5 11 8 7 8 4 8 3 11 0 11-2 11-5 9-6 9-10 10-11 8-11 5-19 7-19 2-19 0-19-4-17-7-16-10-13-13-8-14-3-16 1-13 5-14 10-10 13-10 17-6 19-4z" fill="#f2eddf"/><path d="M-3-6l404 0 0 30-8 0-7 2-6 6-2 5-6 54-5 21-10 27-7 11-3 2-6 3-25 5-32 5-112 1-30 2-17 5-19 11-10 6-6 9-9 7-8 3-8 1-8-2-8-5-6-5-8-10-7-14-4-19 0-16 2-16 15-62 3-21 3-14-1-8-2-3-4-2-8-3-19-1-19 0 0-15zM139 526l11 0 8 2 6 3 6 6 3 5 0 8-4 8-6 5-10 4-14 1-13-4-9-8-2-6 0-5 3-8 4-5 6-3z" fill="#f1e7d2"/><path d="M-3-6l404 0 0 27-19 3-5 2-3 3-2 5 0 6-8 51-6 19-4 10-7 12-6 5-8 5-16 8-33 6-22 1-90 0-17 1-13 2-14 4-11 6-33 20-8 7-5 2-6 0-5-1-6-3-14-12-7-14-3-16 0-17 2-16 13-59 2-21 4-16-1-6-2-3-4-2-9-3-19-2-22 1 0-15z" fill="#efe2c2"/><path d="M-3-6l404 0 0 25-22 3-6 2-7 5-1 5 0 6-9 48-7 18-8 10-33 17-19 8-19 4-93 1-16 2-17 3-11 3-11 5-38 25-11 4-8 0-11-2-8-7-7-13-3-16 0-14 2-18 10-54 2-24 5-16-1-6-2-3-5-2-8-3-22-3-23 1 0-14z" fill="#e6d5aa"/><path d="M-3-6l404 0 0 24-11 0-17 3-8 3-4 2-3 6 1 8-7 29-7 22-4 5-30 17-22 9-19 4-85 1-16 1-11 3-11 4-8 4-14 11-40 27-9 4-8 1-6-1-5-2-8-8-5-10-3-14 0-13 2-22 9-51 1-21 6-16 0-6-3-3-5-2-9-3-18-3-30 0 0-13z" fill="#dec99a"/><path d="M-3-6l404 0 0 23-27 2-10 2-11 5-3 6 2 9-5 14-6 11-24 25-17 10-16 6-17 4-79 1-19 2-14 3-11 5-11 6-11 10-10 12-25 19-11 5-8 1-9-4-8-8-4-10-1-11 1-30 9-51 1-21 7-16 0-6-3-3-6-2-23-5-16-1-22 0 0-13z" fill="#d4bb88"/><path d="M-3-6l404 0 0 22-33 2-12 3-23 8-1 3 3 2 8 6-2 2-20 16-21 21-11 8-8 4-16 4-55 1-25 1-19 4-16 6-14 8-14 10-19 25-11 8-11 7-10 2-9-2-6-7-4-8-1-16 1-24 7-49 2-21 8-14 1-5-1-3-4-3-16-5-22-3-33 0 0-13z" fill="#c0a06a"/><path d="M-3-6l404 0 0 21-30 2-52 7-11 2-4 3 1 3 14 8-22 16-13 9-9 4-13 4-38 1-25 2-16 4-17 6-22 11-13 10-22 21-16 22-12 8-8 2-8-3-6-7-3-14 0-18 2-25 6-32 1-21 13-16 0-3-2-3-5-3-19-5-22-3-36 0 0-13z" fill="#b7955e"/><path d="M-3-6l404 0 0 20-30 1-27 4-33 2-41 4-22 1-23 3 18 3 24 1 26 7-9 5-14 5-66 5-19 5-16 6-19 12-28 24-21 24-17 22-5 3-6 0-4-1-4-7-2-9-2-14 2-27 5-32 2-21 9-8 14-6 4-2-3-3-8-3-31-8-25-3-36-1 0-12z" fill="#ad8751"/><path d="M-3-6l404 0 0 19-115 7-84 2-60 3-20-3-84-15-44-1 0-12zM112 32l16-2 14 0 55 10-28 8-11 5-11 8-11 11-15 19-37 41-5 3-3 0-3-2-3-7-2-8-1-11 1-14 7-35 1-18 8-5z" fill="#a07945"/><path d="M-3-6l404 0 0 19-60 3-68 2-134 2-52-6-49-7-44-1 0-12zM95 39l25-1 23 2-12 8-8 8-3 5-14 30-16 19-6 4-3 1-2-1-3-6-1-17 4-16 10-27 1-6 3-2z" fill="#916b3c"/><path d="M-3-6l404 0 0 18-57 3-63 2-145 1-44-4-52-8-46-1 0-11z" fill="#815830"/><path d="M-3-6l404 0 0 18-57 2-66 2-139 0-58-4-41-6-46-1 0-11z" fill="#6e4b28"/><path d="M-3-6l404 0 0 17-30 1-30 2-57 0-129 1-35-1-39-3-38-5-33-2-16 1 0-11z" fill="#543a20"/><path d="M-3-6l404 0 0 16-41 1-18 2-20 0-202 0-14-2-25-1-8-2-16 0-3-2-5-1-27 0-3-2-6 0-19 1 0-10z" fill="#48321b"/><path d="M-3 12l13-1 14 1 9 3 3 6-1 13-4 24-7 15-5 6-3 2-6 0-5 0-6-3-5-5 0-60zM393 162l3 0 5 4 0 184-19 15-25 15-49 26-35 17-17 6-16 4-19 3-19 1-28-1-30-3-23-4-18-4-16-8-14-10-59-56-12-13-8-12 0-91 5-18 4-5 5-4 2 0 6 2 18 12 17 9 14 4 14 0 11-2 10-5 36-27 11-6 11-3 8-2 38-1 82 0 50-4 18-3 14-4 12-7z" fill="#deeae8"/><path d="M5 13l17 0 6 2 4 6 0 13-4 19-5 11-4 4-3 1-8-1-6-3-5-7-3-6 0-34 3-3zM363 193l16-2 14 0 5 5 3 5 0 88-6 17-9 16-12 16-17 16-16 13-19 13-19 10-19 9-25 8-22 5-16 2-19 1-19-1-17-2-22-5-16-6-19-8-19-11-17-11-16-13-15-15-11-13-9-14-8-16-5-16-4-21 1-19 3-14 4-4 3-1 5 1 19 9 14 5 14 2 13 0 17-4 35-17 20-6 46-4 55 1 30-2 27-5z" fill="#cee5e0"/><path d="M8 15l8-1 6 1 3 3 3 6 0 10-3 14-4 7-5 4-6-1-5-4-4-6-2-8-1-8 1-10 3-4zM355 211l19-1 16 2 3 2 3 3 3 8 1 11 1 11-3 24-6 21-11 22-11 16-14 16-18 15-19 14-19 10-22 10-19 6-22 5-19 2-16 1-33-3-22-5-16-5-19-9-14-7-17-11-13-11-14-12-12-13-9-14-8-13-5-14-5-19-2-13 1-11 4-8 3-2 39 9 13 1 11 0 17-3 32-11 20-5 41-3 57 0 27-2 25-3z" fill="#b8d9d2"/><path d="M13 20l3 0 3 1 2 3 1 5-1 11-2 4-3 2-3-1-3-2-2-3-1-6 1-9 2-4zM352 225l19 0 14 2 5 4 3 8 2 16-4 21-7 22-12 21-12 16-13 14-14 12-19 13-19 10-22 9-19 6-22 4-17 2-19 0-16-1-19-3-17-5-16-5-16-8-17-9-14-10-13-11-13-12-11-14-9-13-7-14-4-13-3-14-1-8 1-8 3-5 3-1 38 4 22 0 14-2 32-8 20-3 35-2 82-3 25-3z" fill="#a8cfc6"/><path d="M330 238l22-2 16 1 14 4 3 1 2 5 2 13-3 19-6 19-11 18-11 17-16 16-15 12-19 13-16 9-19 8-19 5-25 5-33 1-16-1-17-3-19-5-16-5-27-14-14-9-14-11-13-13-9-11-10-14-7-13-5-13-2-11-1-8 1-6 3-3 2-1 41 1 17 0 60-10 112-5 27-3z" fill="#99c4ba"/><path d="M338 246l17 0 13 2 11 5 3 4 1 14-3 16-8 19-10 16-13 16-13 13-17 13-16 10-17 9-19 7-19 6-19 3-33 1-16-1-17-3-30-9-27-13-14-9-13-10-13-12-9-10-10-14-6-11-6-13-2-11 0-8 2-5 8-2 49-1 66-8 101-4z" fill="#88b5ad"/><path d="M311 257l25-2 16 1 16 4 6 2 3 3 1 8-1 11-5 14-8 16-11 16-12 13-16 14-17 12-19 10-19 8-22 7-22 3-30 1-30-3-27-8-14-5-16-9-25-17-12-10-10-11-10-13-6-11-5-11-2-10 0-6 1-4 6-2 11-2 38-3 58-5 101-5z" fill="#7aa9a2"/><path d="M300 265l25-2 19 0 13 3 11 5 3 2 1 3 0 8-3 14-6 13-11 16-12 14-14 13-18 13-19 10-19 8-19 6-22 4-30 2-30-3-30-9-25-11-24-16-22-20-9-11-7-11-5-10-2-8 0-6 1-4 8-3 14-3 74-7 98-4z" fill="#679a93"/><path d="M314 271l19 0 14 1 10 4 9 6 1 5-2 11-4 10-8 14-11 13-13 14-13 10-16 11-14 7-19 8-19 5-19 4-27 1-28-2-30-7-24-11-26-16-21-18-14-19-6-11-2-8 0-6 6-4 11-4 16-3 55-5 98-4z" fill="#578982"/><path d="M289 279l22-2 16 1 14 2 11 4 8 6 1 2-1 8-5 14-9 13-11 14-15 13-17 12-19 10-17 7-16 5-22 4-27 2-25-2-27-6-25-10-24-14-20-16-16-19-6-11-2-8 1-5 9-5 12-4 16-3 44-4 90-4z" fill="#497872"/><path d="M295 284l19 0 13 1 11 2 11 6 6 5 0 5-2 8-6 11-10 13-10 11-13 11-17 11-16 8-16 7-17 4-19 4-27 2-25-2-24-6-25-9-24-14-20-16-13-16-5-8-3-8 1-3 2-3 10-6 14-4 16-2 36-4 84-3z" fill="#3d6863"/><path d="M256 292l44-2 25 2 11 3 8 5 5 6 0 5-7 13-10 14-14 13-15 11-17 10-16 7-19 6-19 4-25 2-24-1-25-5-22-7-24-13-19-14-15-16-8-13 1-6 5-4 5-4 11-4 17-3 38-4z" fill="#375d59"/><path d="M251 298l44-2 24 2 9 2 9 6 5 5 0 5-5 11-10 14-12 10-14 11-15 8-17 8-18 6-17 4-24 2-22-1-25-4-21-7-23-11-20-13-14-13-5-8-3-6 0-3 1-2 9-8 11-4 16-4 36-4z" fill="#2e504a"/><path d="M243 303l41-2 24 2 11 2 7 3 6 6 4 5-2 8-8 11-10 11-14 10-13 8-17 9-16 5-16 4-22 3-27 0-22-3-19-5-22-9-19-12-15-13-7-8-3-5 0-3 1-3 9-8 12-5 12-3 35-4z" fill="#244138"/><path d="M229 308l46-1 25 1 11 3 7 3 7 5 4 5-1 6-7 11-11 10-11 8-13 8-18 9-26 8-21 3-30 0-22-3-11-3-22-8-20-11-16-13-8-11 0-3 1-2 8-8 11-6 10-3 33-4z" fill="#1e3a2f"/></g></g>
<g transform="scale(.5)" fill="none" stroke="#555"><use href="#a30" class="sh"/><use href="#a30" class="h1" stroke-dasharray="0 7.2 2.4 99"/><use href="#a30" class="h2" stroke-dasharray="0 9.6 2.1 99"/><use href="#a30" class="h3" stroke-dasharray="0 11.7 1.5 99"/></g>
<rect x="47.2" width="3" height="395.7" fill="#00007f"/>
<rect x="96.5" width="3" height="395.7" fill="#8a3761"/>
<rect x="145.5" width="3" height="395.7" fill="#4868ef"/>
</g>
<rect width="197.6" height="395.7" fill="none" stroke="#8a8a8a"/>
<rect x="-.5" y="-.5" width="198.6" height="1.6" fill="#222"/>
</g>
<clipPath id="c0"><rect x="318.2" y="28.4" width="456.1" height="351.8"/></clipPath>
<g clip-path="url(#c0)" fill="none" stroke-linejoin="round" stroke-linecap="round">
<path d="M319.3 184L319.3 186 319.3 188 319.4 190 319.4 192.1 319.4 194.1 319.5 196.1 319.5 198.1 319.5 200.1 319.6 202.1 319.6 204.1 319.7 206.2 319.7 208.2 319.7 210.2 319.8 212.2 319.8 214.2 319.9 216.2 320 218.2 320 220.2 320.1 222.3 320.1 224.3 320.2 226.3 320.2 228.3 320.3 230.3 320.4 232.3 320.5 234.3 320.5 236.4 320.6 238.4 320.7 240.4 320.8 242.4 321 244.4 321.1 246.4 321.2 248.4 321.4 250.5 321.6 252.5 321.8 254.5 322.1 256.5 322.4 258.5 322.7 260.5 323.1 262.4 323.6 264.4 324.3 266.4 325.1 268.3 326.1 270.2 327.1 271.8 328.2 273.3 329.6 274.6 331.3 275.9 333.2 277 335.1 277.8 337 278.2 338.9 278.6 340.9 278.9 342.9 279.2 345 279.4 347 279.5 349 279.5 351 279.5 353.1 279.5 355.1 279.5 357.1 279.5 359.1 279.5 361.1 279.5 363.1 279.5 365.1 279.5 367.2 279.5 369.2 279.5 371.2 279.5 373.2 279.5 375.2 279.5 377.2 279.5 379.2 279.5 381.3 279.5 383.3 279.5 385.3 279.5 387.3 279.5 389.3 279.5 391.3 279.5 393.3 279.5 395.4 279.5 397.4 279.4 399.4 279.4 401.4 279.3 403.4 279.3 405.4 279.2 407.4 279.1 409.5 279.1 411.5 279 413.5 279 415.5 278.9 417.5 278.9 419.5 278.8 421.5 278.8 423.6 278.7 425.6 278.7 427.6 278.7 429.6 278.6 431.6 278.6 433.6 278.5 435.6 278.5 437.6 278.5 439.7 278.4 441.7 278.4 443.7 278.4 445.7 278.3 447.7 278.3 449.7 278.3 451.7 278.2 453.8 278.2 455.8 278.2 457.8 278.2 459.8 278.1 461.8 278.1 463.8 278.1 465.8 278.1 467.9 278 469.9 278 471.9 278 473.9 278 475.9 277.9 477.9 277.9 479.9 277.9 482 277.9 484 277.8 486 277.8 488 277.8 490 277.8 492 277.7 494 277.7 496.1 277.7 498.1 277.7 500.1 277.7 502.1 277.6 504.1 277.6 506.1 277.6 508.1 277.6 510.2 277.6 512.2 277.5 514.2 277.5 516.2 277.5 518.2 277.5 520.2 277.5 522.2 277.4 524.2 277.4 526.3 277.4 528.3 277.4 530.3 277.4 532.3 277.4 534.3 277.3 536.3 277.3 538.3 277.3 540.4 277.3 542.4 277.3 544.4 277.3 546.4 277.3 548.4 277.3 550.4 277.2 552.4 277.2 554.5 277.2 556.5 277.2 558.5 277.2 560.5 277.2 562.5 277.2 564.5 277.2 566.5 277.2 568.6 277.2 570.6 277.2 572.6 277.2 574.6 277.2 576.6 277.1 578.6 277.1 580.6 277.1 582.7 277.1 584.7 277.1 586.7 277.1 588.7 277.1 590.7 277.1 592.7 277.1 594.7 277.1 596.8 277.1 598.8 277.1 600.8 277.1 602.8 277.1 604.8 277.1 606.8 277.1 608.8 277 610.9 277 612.9 277 614.9 277 616.9 277 618.9 277 620.9 277 622.9 277 625 277 627 277 629 277 631 277 633 277 635 277 637 277 639.1 277 641.1 277 643.1 277 645.1 277 647.1 277 649.1 276.9 651.1 276.9 653.2 276.9 655.2 276.9 657.2 276.9 659.2 276.9 661.2 276.9 663.2 276.9 665.2 276.9 667.2 276.9 669.3 276.9 671.3 276.9 673.3 276.9 675.3 276.9 677.3 276.9 679.3 276.9 681.3 276.9 683.4 276.9 685.4 276.9 687.4 276.9 689.4 276.9 691.4 276.9 693.4 276.9 695.4 276.9 697.5 276.9 699.5 276.9 701.5 276.9 703.5 276.8 705.5 276.8 707.5 276.8 709.5 276.8 711.6 276.8 713.6 276.8 715.6 276.8 717.6 276.8 719.6 276.8 721.6 276.8 723.6 276.8 725.7 276.8 727.7 276.8 729.7 276.8 731.7 276.8 733.7 276.8 735.7 276.8 737.7 276.8 739.8 276.8 741.8 276.8 743.8 276.8 745.8 276.8 747.8 276.8 749.8 276.8 751.8 276.8 753.9 276.8 755.9 276.8 757.9 276.8 759.9 276.8 761.9 276.8 763.9 276.8 765.9 276.8 768 276.8 770 276.8 772 276.8 774 276.8" stroke="#8a3761" stroke-width="9.5"/>
<path d="M319 185L319 187 319 189 319 191 319 193.1 319 195.1 319 197.1 319.1 199.1 319.1 201.1 319.1 203.1 319.1 205.1 319.1 207.1 319.2 209.2 319.2 211.2 319.2 213.2 319.2 215.2 319.3 217.2 319.3 219.2 319.3 221.2 319.3 223.2 319.4 225.3 319.4 227.3 319.5 229.3 319.5 231.3 319.6 233.3 319.6 235.3 319.7 237.3 319.8 239.4 319.8 241.4 319.9 243.4 320 245.4 320.1 247.4 320.2 249.4 320.4 251.5 320.5 253.5 320.7 255.5 320.9 257.5 321.1 259.5 321.4 261.4 321.8 263.4 322.4 265.4 323.2 267.4 324.1 269.2 325.2 270.9 326.3 272.4 327.8 273.7 329.5 274.9 331.4 275.9 333.2 276.6 335.1 277 337.1 277.4 339.1 277.8 341.1 278 343.2 278.2 345.2 278.3 347.2 278.4 349.2 278.4 351.2 278.4 353.3 278.5 355.3 278.5 357.3 278.5 359.3 278.5 361.3 278.5 363.3 278.5 365.3 278.5 367.4 278.5 369.4 278.4 371.4 278.4 373.4 278.4 375.4 278.4 377.4 278.3 379.4 278.3 381.4 278.3 383.5 278.3 385.5 278.2 387.5 278.2 389.5 278.2 391.5 278.2 393.5 278.1 395.5 278.1 397.5 278.1 399.6 278.1 401.6 278 403.6 278 405.6 278 407.6 278 409.6 277.9 411.6 277.9 413.7 277.9 415.7 277.9 417.7 277.8 419.7 277.8 421.7 277.8 423.7 277.8 425.7 277.7 427.7 277.7 429.8 277.7 431.8 277.7 433.8 277.6 435.8 277.6 437.8 277.6 439.8 277.6 441.8 277.6 443.8 277.5 445.9 277.5 447.9 277.5 449.9 277.5 451.9 277.4 453.9 277.4 455.9 277.4 457.9 277.4 460 277.4 462 277.3 464 277.3 466 277.3 468 277.3 470 277.3 472 277.2 474 277.2 476.1 277.2 478.1 277.2 480.1 277.2 482.1 277.1 484.1 277.1 486.1 277.1 488.1 277.1 490.1 277.1 492.2 277.1 494.2 277 496.2 277 498.2 277 500.2 277 502.2 277 504.2 277 506.3 277 508.3 276.9 510.3 276.9 512.3 276.9 514.3 276.9 516.3 276.9 518.3 276.9 520.3 276.9 522.4 276.9 524.4 276.8 526.4 276.8 528.4 276.8 530.4 276.8 532.4 276.8 534.4 276.8 536.4 276.8 538.5 276.8 540.5 276.7 542.5 276.7 544.5 276.7 546.5 276.7 548.5 276.7 550.5 276.7 552.6 276.7 554.6 276.7 556.6 276.7 558.6 276.6 560.6 276.6 562.6 276.6 564.6 276.6 566.6 276.6 568.7 276.6 570.7 276.6 572.7 276.6 574.7 276.6 576.7 276.6 578.7 276.6 580.7 276.6 582.8 276.5 584.8 276.5 586.8 276.5 588.8 276.5 590.8 276.5 592.8 276.5 594.8 276.5 596.8 276.5 598.9 276.5 600.9 276.5 602.9 276.5 604.9 276.5 606.9 276.5 608.9 276.5 610.9 276.5 612.9 276.5 615 276.5 617 276.5 619 276.5 621 276.5 623 276.5 625 276.5 627 276.4 629.1 276.4 631.1 276.4 633.1 276.4 635.1 276.4 637.1 276.4 639.1 276.4 641.1 276.4 643.1 276.4 645.2 276.4 647.2 276.4 649.2 276.4 651.2 276.4 653.2 276.4 655.2 276.4 657.2 276.4 659.3 276.4 661.3 276.4 663.3 276.4 665.3 276.4 667.3 276.4 669.3 276.4 671.3 276.4 673.3 276.4 675.4 276.4 677.4 276.4 679.4 276.4 681.4 276.4 683.4 276.4 685.4 276.4 687.4 276.4 689.4 276.4 691.5 276.4 693.5 276.3 695.5 276.3 697.5 276.3 699.5 276.3 701.5 276.3 703.5 276.3 705.6 276.3 707.6 276.3 709.6 276.3 711.6 276.3 713.6 276.3 715.6 276.3 717.6 276.3 719.6 276.3 721.7 276.3 723.7 276.3 725.7 276.3 727.7 276.3 729.7 276.3 731.7 276.3 733.7 276.3 735.8 276.3 737.8 276.3 739.8 276.3 741.8 276.3 743.8 276.3 745.8 276.3 747.8 276.3 749.8 276.3 751.9 276.3 753.9 276.3 755.9 276.3 757.9 276.3 759.9 276.3 761.9 276.3 763.9 276.3 765.9 276.3 768 276.3 770 276.3 772 276.3 774 276.3" stroke="#00007f" stroke-width="10"/>
<path d="M319.3 183L319.4 185 319.4 187 319.5 189 319.6 191.1 319.7 193.1 319.8 195.1 319.9 197.1 320 199.1 320.1 201.1 320.2 203.1 320.3 205.1 320.4 207.1 320.6 209.2 320.7 211.2 320.9 213.2 321.1 215.2 321.2 217.2 321.4 219.2 321.6 221.2 321.8 223.2 322 225.2 322.2 227.2 322.5 229.2 322.7 231.2 323 233.2 323.3 235.2 323.6 237.2 323.9 239.2 324.2 241.2 324.6 243.2 324.9 245.1 325.4 247.1 325.8 249.1 326.3 251.1 326.9 253 327.5 254.9 328.1 256.8 328.9 258.7 329.8 260.6 330.8 262.4 331.9 263.9 333.3 265.4 334.9 266.7 336.6 267.8 338.4 268.6 340.3 269.2 342.3 269.7 344.3 270.1 346.2 270.6 348.2 271.1 350.1 271.6 352.1 272.2 354 272.8 355.9 273.5 357.8 274.2 359.6 274.9 361.5 275.8 363.3 276.6 365.1 277.5 366.9 278.5 368.6 279.5 370.3 280.5 372.1 281.6 373.8 282.7 375.5 283.7 377.2 284.8 379 286 380.7 287.3 382.4 288.4 384.2 289.2 386.1 289.5 388 289.5 390 289.4 392.1 289.2 394.1 289.1 396.1 288.9 398.1 288.5 400 287.9 402 287.3 403.9 286.8 405.9 286.3 407.9 285.9 409.8 285.4 411.8 285 413.8 284.6 415.7 284.2 417.7 283.8 419.7 283.5 421.7 283.3 423.7 283 425.7 282.8 427.7 282.5 429.7 282.3 431.7 282 433.7 281.8 435.7 281.6 437.7 281.4 439.7 281.3 441.7 281.1 443.7 280.9 445.8 280.8 447.8 280.6 449.8 280.5 451.8 280.4 453.8 280.3 455.8 280.2 457.8 280.1 459.8 280 461.8 279.9 463.8 279.8 465.9 279.7 467.9 279.6 469.9 279.5 471.9 279.4 473.9 279.3 475.9 279.3 477.9 279.2 479.9 279.1 482 279 484 279 486 278.9 488 278.8 490 278.8 492 278.7 494 278.7 496.1 278.6 498.1 278.6 500.1 278.5 502.1 278.4 504.1 278.4 506.1 278.3 508.1 278.3 510.2 278.2 512.2 278.2 514.2 278.1 516.2 278.1 518.2 278 520.2 278 522.2 277.9 524.2 277.9 526.3 277.8 528.3 277.8 530.3 277.8 532.3 277.7 534.3 277.7 536.3 277.6 538.3 277.6 540.4 277.6 542.4 277.5 544.4 277.5 546.4 277.5 548.4 277.4 550.4 277.4 552.4 277.4 554.5 277.4 556.5 277.3 558.5 277.3 560.5 277.3 562.5 277.3 564.5 277.3 566.5 277.2 568.6 277.2 570.6 277.2 572.6 277.2 574.6 277.2 576.6 277.2 578.6 277.1 580.6 277.1 582.7 277.1 584.7 277.1 586.7 277.1 588.7 277.1 590.7 277.1 592.7 277.1 594.7 277 596.8 277 598.8 277 600.8 277 602.8 277 604.8 277 606.8 277 608.8 277 610.9 277 612.9 276.9 614.9 276.9 616.9 276.9 618.9 276.9 620.9 276.9 622.9 276.9 625 276.9 627 276.9 629 276.9 631 276.9 633 276.9 635 276.9 637 276.8 639.1 276.8 641.1 276.8 643.1 276.8 645.1 276.8 647.1 276.8 649.1 276.8 651.1 276.8 653.2 276.8 655.2 276.8 657.2 276.8 659.2 276.8 661.2 276.8 663.2 276.8 665.2 276.7 667.2 276.7 669.3 276.7 671.3 276.7 673.3 276.7 675.3 276.7 677.3 276.7 679.3 276.7 681.3 276.7 683.4 276.7 685.4 276.7 687.4 276.7 689.4 276.7 691.4 276.7 693.4 276.7 695.4 276.7 697.5 276.6 699.5 276.6 701.5 276.6 703.5 276.6 705.5 276.6 707.5 276.6 709.5 276.6 711.6 276.6 713.6 276.6 715.6 276.6 717.6 276.6 719.6 276.6 721.6 276.6 723.6 276.6 725.7 276.6 727.7 276.6 729.7 276.6 731.7 276.6 733.7 276.6 735.7 276.6 737.7 276.5 739.8 276.5 741.8 276.5 743.8 276.5 745.8 276.5 747.8 276.5 749.8 276.5 751.8 276.5 753.9 276.5 755.9 276.5 757.9 276.5 759.9 276.5 761.9 276.5 763.9 276.5 765.9 276.5 768 276.5 770 276.5 772 276.5 774 276.5" stroke="#4868ef" stroke-width="7"/>
</g>
<rect x="318.2" y="36.4" width="456.1" height="343.8" fill="none" stroke="#222" stroke-width="1.6"/>
<path d="M315.2 376.4h3M315.2 370.5h3M315.2 364.5h3M315.2 358.6h3M315.2 352.7h3M315.2 346.8h3M315.2 340.9h3M312.2 335h6M315.2 329.1h3M315.2 323.2h3M315.2 317.3h3M315.2 311.4h3M315.2 305.4h3M315.2 299.5h3M315.2 293.6h3M315.2 287.7h3M315.2 281.8h3M312.2 275.9h6M315.2 270h3M315.2 264.1h3M315.2 258.2h3M315.2 252.3h3M315.2 246.3h3M315.2 240.4h3M315.2 234.5h3M315.2 228.6h3M315.2 222.7h3M312.2 216.8h6M315.2 210.9h3M315.2 205h3M315.2 199.1h3M315.2 193.2h3M315.2 187.2h3M315.2 181.3h3M315.2 175.4h3M315.2 169.5h3M315.2 163.6h3M312.2 157.7h6M315.2 151.8h3M315.2 145.9h3M315.2 140h3M315.2 134.1h3M315.2 128.1h3M315.2 122.2h3M315.2 116.3h3M315.2 110.4h3M315.2 104.5h3M312.2 98.6h6M315.2 92.7h3M315.2 86.8h3M315.2 80.9h3M315.2 75h3M315.2 69h3M315.2 63.1h3M315.2 57.2h3M315.2 51.3h3M315.2 45.4h3M312.2 39.5h6M329.6 380.2v2.8M341 380.2v2.8M352.4 380.2v2.8M363.8 380.2v2.8M375.2 380.2v2.8M386.6 380.2v2.8M398 380.2v2.8M409.4 380.2v2.8M420.8 380.2v2.8M432.2 380.2v5.5M443.6 380.2v2.8M455 380.2v2.8M466.4 380.2v2.8M477.8 380.2v2.8M489.2 380.2v2.8M500.6 380.2v2.8M512 380.2v2.8M523.4 380.2v2.8M534.8 380.2v2.8M546.2 380.2v5.5M557.7 380.2v2.8M569.1 380.2v2.8M580.5 380.2v2.8M591.9 380.2v2.8M603.3 380.2v2.8M614.7 380.2v2.8M626.1 380.2v2.8M637.5 380.2v2.8M648.9 380.2v2.8M660.3 380.2v5.5M671.7 380.2v2.8M683.1 380.2v2.8M694.5 380.2v2.8M705.9 380.2v2.8M717.3 380.2v2.8M728.7 380.2v2.8M740.1 380.2v2.8M751.5 380.2v2.8M762.9 380.2v2.8" stroke="#222" stroke-width="1.5" fill="none"/>
<text class="tk" x="309.7" y="47.1" text-anchor="end">4.0</text>
<text class="tk" x="309.7" y="106.2" text-anchor="end">3.0</text>
<text class="tk" x="309.7" y="165.3" text-anchor="end">2.0</text>
<text class="tk" x="309.7" y="224.4" text-anchor="end">1.0</text>
<text class="tk" x="309.7" y="283.5" text-anchor="end">0.0</text>
<text class="tk" x="309.7" y="342.6" text-anchor="end">1.0</text>
<text class="xt" x="432.2" y="403" text-anchor="middle">0.5</text>
<text class="xt" x="546.2" y="403" text-anchor="middle">1.0</text>
<text class="xt" x="660.3" y="403" text-anchor="middle">1.5</text>
<text class="xl" x="545.5" y="428.8" text-anchor="middle">Depth (m)</text>
<text class="yl" transform="translate(262.8 211.3) rotate(-90)" text-anchor="middle" textLength="281" lengthAdjust="spacingAndGlyphs">Horizontal Velocity (m/s)</text>
<clipPath id="c1"><rect x="1092.4" y="28.7" width="455.9" height="351.5"/></clipPath>
<g clip-path="url(#c1)" fill="none" stroke-linejoin="round" stroke-linecap="round">
<path d="M1094 138L1094.1 140 1094.2 142 1094.3 144 1094.4 146 1094.6 148 1094.7 150 1094.8 152 1094.9 154 1095 156 1095.2 158 1095.3 160 1095.4 162 1095.6 164 1095.7 166.1 1095.9 168.1 1096 170.1 1096.2 172.1 1096.3 174.1 1096.5 176.1 1096.6 178.1 1096.8 180.1 1096.9 182.1 1097.1 184.1 1097.3 186.1 1097.4 188.1 1097.6 190.1 1097.8 192.1 1098 194.1 1098.2 196.1 1098.3 198.1 1098.5 200.1 1098.7 202.1 1098.9 204.1 1099.1 206.1 1099.3 208.1 1099.5 210.1 1099.7 212.1 1099.9 214.1 1100 216.1 1100.2 218.1 1100.4 220.1 1100.6 222.1 1100.8 224.1 1101.1 226.1 1101.3 228.1 1101.5 230.1 1101.8 232.1 1102.1 234.1 1102.4 236 1102.7 238 1103 240 1103.4 242 1103.7 244 1104.2 246.1 1104.7 248.2 1105.2 250.2 1105.8 252.2 1106.5 254 1107.3 255.7 1108.1 257.2 1109.3 258.8 1110.9 260.3 1112.6 261.6 1114.5 262.6 1116.3 263 1118.2 263.2 1120.1 263.4 1122.1 263.5 1124.2 263.6 1126.3 263.7 1128.4 263.7 1130.4 263.7 1132.4 263.6 1134.4 263.5 1136.4 263.3 1138.4 263.1 1140.4 263 1142.4 262.8 1144.4 262.8 1146.4 262.8 1148.4 262.9 1150.4 263 1152.5 263.1 1154.5 263.3 1156.5 263.5 1158.4 263.7 1160.4 264 1162.3 264.4 1164.3 265 1166.2 265.7 1168.1 266.5 1170 267.3 1171.8 268.1 1173.6 268.9 1175.3 269.9 1177 270.9 1178.6 272.1 1180.3 273.3 1181.9 274.5 1183.5 275.7 1185.2 276.9 1186.9 278 1188.6 279 1190.3 280.1 1192 281.1 1193.7 282.2 1195.4 283.2 1197.2 284.2 1198.9 285.2 1200.7 286.2 1202.4 287.2 1204.2 288.1 1205.9 289.1 1207.7 290 1209.5 291 1211.3 291.9 1213 292.8 1214.8 293.8 1216.6 294.8 1218.3 296 1220.1 297.2 1221.8 298.5 1223.6 299.5 1225.3 300.3 1227.2 300.7 1229.1 300.6 1231.1 300.4 1233.1 300 1235.1 299.4 1237 298.9 1238.7 298.1 1240.3 296.9 1241.8 295.5 1243.3 294.1 1244.8 292.6 1246.4 291.4 1248.1 290.3 1249.9 289.3 1251.7 288.3 1253.5 287.4 1255.4 286.7 1257.2 286.2 1259.2 285.8 1261.2 285.4 1263.2 285.1 1265.2 284.8 1267.2 284.6 1269.2 284.5 1271.2 284.4 1273.2 284.4 1275.2 284.3 1277.2 284.2 1279.2 284.2 1281.2 284.1 1283.2 284.1 1285.2 284 1287.2 283.9 1289.2 283.8 1291.2 283.6 1293.2 283.5 1295.3 283.3 1297.3 283.1 1299.3 282.9 1301.3 282.8 1303.3 282.6 1305.3 282.4 1307.3 282.2 1309.3 282.1 1311.3 281.9 1313.3 281.7 1315.3 281.6 1317.3 281.4 1319.3 281.2 1321.3 281.1 1323.3 280.9 1325.3 280.7 1327.3 280.5 1329.3 280.4 1331.3 280.2 1333.3 280 1335.3 279.9 1337.3 279.7 1339.3 279.6 1341.3 279.4 1343.3 279.3 1345.3 279.2 1347.3 279.1 1349.3 279 1351.3 279 1353.3 278.9 1355.3 278.8 1357.3 278.7 1359.3 278.7 1361.3 278.6 1363.3 278.5 1365.3 278.5 1367.3 278.4 1369.3 278.4 1371.4 278.3 1373.4 278.3 1375.4 278.2 1377.4 278.2 1379.4 278.1 1381.4 278.1 1383.4 278 1385.4 278 1387.4 278 1389.4 277.9 1391.4 277.9 1393.4 277.9 1395.4 277.8 1397.4 277.8 1399.5 277.8 1401.5 277.8 1403.5 277.8 1405.5 277.8 1407.5 277.7 1409.5 277.7 1411.5 277.7 1413.5 277.7 1415.5 277.7 1417.5 277.7 1419.5 277.7 1421.5 277.6 1423.5 277.6 1425.5 277.6 1427.6 277.6 1429.6 277.6 1431.6 277.6 1433.6 277.6 1435.6 277.6 1437.6 277.5 1439.6 277.5 1441.6 277.5 1443.6 277.5 1445.6 277.5 1447.6 277.5 1449.6 277.5 1451.6 277.5 1453.6 277.4 1455.7 277.4 1457.7 277.4 1459.7 277.4 1461.7 277.4 1463.7 277.4 1465.7 277.4 1467.7 277.4 1469.7 277.4 1471.7 277.4 1473.7 277.4 1475.7 277.3 1477.7 277.3 1479.7 277.3 1481.8 277.3 1483.8 277.3 1485.8 277.3 1487.8 277.3 1489.8 277.3 1491.8 277.3 1493.8 277.3 1495.8 277.3 1497.8 277.3 1499.8 277.3 1501.8 277.3 1503.8 277.3 1505.8 277.3 1507.8 277.2 1509.9 277.2 1511.9 277.2 1513.9 277.2 1515.9 277.2 1517.9 277.2 1519.9 277.2 1521.9 277.2 1523.9 277.2 1525.9 277.2 1527.9 277.2 1529.9 277.2 1531.9 277.2 1533.9 277.2 1536 277.2 1538 277.2 1540 277.2 1542 277.2 1544 277.2 1546 277.2 1548 277.2" stroke="#8a3761" stroke-width="9.5"/>
<path d="M1093.3 128L1093.3 130 1093.3 132 1093.3 134 1093.3 136.1 1093.3 138.1 1093.3 140.1 1093.3 142.1 1093.3 144.1 1093.3 146.1 1093.3 148.1 1093.4 150.1 1093.4 152.2 1093.4 154.2 1093.4 156.2 1093.4 158.2 1093.4 160.2 1093.4 162.2 1093.4 164.2 1093.5 166.2 1093.5 168.2 1093.5 170.3 1093.5 172.3 1093.5 174.3 1093.6 176.3 1093.6 178.3 1093.6 180.3 1093.6 182.3 1093.6 184.3 1093.6 186.4 1093.7 188.4 1093.7 190.4 1093.7 192.4 1093.7 194.4 1093.8 196.4 1093.8 198.4 1093.8 200.4 1093.8 202.5 1093.9 204.5 1093.9 206.5 1093.9 208.5 1093.9 210.5 1094 212.5 1094 214.5 1094.1 216.6 1094.1 218.6 1094.1 220.6 1094.2 222.6 1094.2 224.6 1094.3 226.6 1094.4 228.6 1094.4 230.6 1094.5 232.7 1094.6 234.7 1094.6 236.7 1094.7 238.7 1094.8 240.7 1094.9 242.7 1095 244.7 1095.1 246.7 1095.3 248.7 1095.4 250.8 1095.7 252.8 1095.9 254.8 1096.3 256.8 1096.6 258.8 1097 260.8 1097.4 262.7 1098 264.6 1098.7 266.6 1099.7 268.5 1100.8 270.2 1102 271.5 1103.6 272.6 1105.4 273.6 1107.5 274.3 1109.5 274.8 1111.4 274.9 1113.4 275 1115.4 275 1117.4 275.1 1119.4 275.1 1121.5 275.1 1123.5 275.2 1125.5 275.2 1127.6 275.2 1129.6 275.3 1131.6 275.3 1133.6 275.4 1135.6 275.4 1137.6 275.5 1139.7 275.5 1141.7 275.6 1143.7 275.6 1145.7 275.6 1147.7 275.7 1149.7 275.7 1151.7 275.8 1153.7 275.8 1155.7 275.9 1157.8 276 1159.8 276.1 1161.8 276.1 1163.8 276.3 1165.8 276.4 1167.8 276.5 1169.8 276.7 1171.8 276.8 1173.8 277 1175.8 277.2 1177.8 277.3 1179.8 277.5 1181.8 277.6 1183.8 277.8 1185.9 277.9 1187.9 278.1 1189.9 278.2 1191.9 278.3 1193.9 278.5 1195.9 278.6 1197.9 278.8 1199.9 278.9 1201.9 279 1203.9 279.1 1205.9 279.3 1208 279.4 1210 279.5 1212 279.5 1214 279.6 1216 279.6 1218 279.6 1220 279.7 1222 279.7 1224 279.7 1226.1 279.7 1228.1 279.7 1230.1 279.7 1232.1 279.8 1234.1 279.8 1236.1 279.8 1238.1 279.8 1240.1 279.8 1242.2 279.8 1244.2 279.8 1246.2 279.8 1248.2 279.8 1250.2 279.7 1252.2 279.7 1254.2 279.6 1256.2 279.5 1258.2 279.4 1260.3 279.3 1262.3 279.3 1264.3 279.2 1266.3 279.1 1268.3 279 1270.3 278.9 1272.3 278.8 1274.3 278.7 1276.3 278.7 1278.4 278.6 1280.4 278.6 1282.4 278.6 1284.4 278.5 1286.4 278.5 1288.4 278.5 1290.4 278.4 1292.4 278.4 1294.5 278.4 1296.5 278.4 1298.5 278.3 1300.5 278.3 1302.5 278.3 1304.5 278.3 1306.5 278.3 1308.5 278.2 1310.5 278.2 1312.6 278.2 1314.6 278.2 1316.6 278.2 1318.6 278.2 1320.6 278.1 1322.6 278.1 1324.6 278.1 1326.6 278.1 1328.7 278.1 1330.7 278.1 1332.7 278.1 1334.7 278.1 1336.7 278.1 1338.7 278.1 1340.7 278.1 1342.7 278.1 1344.8 278 1346.8 278 1348.8 278 1350.8 278 1352.8 278 1354.8 278 1356.8 278 1358.8 278 1360.9 278 1362.9 278 1364.9 278 1366.9 278 1368.9 278 1370.9 278 1372.9 278 1374.9 278 1377 277.9 1379 277.9 1381 277.9 1383 277.9 1385 277.9 1387 277.9 1389 277.9 1391 277.9 1393.1 277.9 1395.1 277.9 1397.1 277.9 1399.1 277.9 1401.1 277.9 1403.1 277.9 1405.1 277.9 1407.1 277.9 1409.2 277.9 1411.2 277.9 1413.2 277.9 1415.2 277.8 1417.2 277.8 1419.2 277.8 1421.2 277.8 1423.2 277.8 1425.2 277.8 1427.3 277.8 1429.3 277.8 1431.3 277.8 1433.3 277.8 1435.3 277.8 1437.3 277.8 1439.3 277.8 1441.3 277.8 1443.4 277.8 1445.4 277.8 1447.4 277.8 1449.4 277.8 1451.4 277.8 1453.4 277.8 1455.4 277.8 1457.4 277.8 1459.5 277.8 1461.5 277.8 1463.5 277.8 1465.5 277.8 1467.5 277.8 1469.5 277.8 1471.5 277.8 1473.5 277.7 1475.6 277.7 1477.6 277.7 1479.6 277.7 1481.6 277.7 1483.6 277.7 1485.6 277.7 1487.6 277.7 1489.6 277.7 1491.7 277.7 1493.7 277.7 1495.7 277.7 1497.7 277.7 1499.7 277.7 1501.7 277.7 1503.7 277.7 1505.7 277.7 1507.8 277.7 1509.8 277.7 1511.8 277.7 1513.8 277.7 1515.8 277.7 1517.8 277.7 1519.8 277.7 1521.8 277.7 1523.9 277.7 1525.9 277.7 1527.9 277.7 1529.9 277.7 1531.9 277.7 1533.9 277.7 1535.9 277.7 1537.9 277.7 1540 277.7 1542 277.7 1544 277.7 1546 277.7 1548 277.7" stroke="#00007f" stroke-width="10"/>
<path d="M1094 127L1094 129 1094.1 131 1094.1 133 1094.2 135.1 1094.2 137.1 1094.3 139.1 1094.4 141.1 1094.4 143.1 1094.5 145.1 1094.5 147.1 1094.6 149.1 1094.7 151.1 1094.8 153.2 1094.8 155.2 1094.9 157.2 1095 159.2 1095 161.2 1095.1 163.2 1095.2 165.2 1095.3 167.2 1095.4 169.3 1095.4 171.3 1095.5 173.3 1095.6 175.3 1095.7 177.3 1095.8 179.3 1095.9 181.3 1096 183.3 1096.1 185.3 1096.2 187.4 1096.3 189.4 1096.4 191.4 1096.6 193.4 1096.7 195.4 1096.8 197.4 1097 199.4 1097.1 201.4 1097.3 203.4 1097.4 205.4 1097.6 207.4 1097.7 209.5 1097.9 211.5 1098.1 213.5 1098.3 215.5 1098.5 217.5 1098.8 219.5 1099 221.5 1099.3 223.5 1099.5 225.5 1099.8 227.5 1100.1 229.5 1100.4 231.5 1100.7 233.4 1101.1 235.4 1101.4 237.4 1101.8 239.5 1102.3 241.6 1102.8 243.6 1103.4 245.6 1104 247.6 1104.7 249.4 1105.5 251.1 1106.4 252.6 1107.7 254.3 1109.3 255.8 1111.1 257 1113 257.5 1114.8 257.4 1116.8 257.2 1118.9 256.9 1121 256.6 1123 256.4 1124.9 255.9 1126.9 255.5 1128.9 255.2 1130.9 255.2 1132.9 255.2 1135 255.2 1137 255.2 1139 255.2 1140.9 255.3 1142.9 255.6 1144.8 256.2 1146.7 257 1148.6 257.9 1150.5 258.8 1152.3 259.7 1154.1 260.6 1155.9 261.5 1157.6 262.5 1159.4 263.5 1161.1 264.6 1162.8 265.7 1164.4 266.9 1166.1 268 1167.7 269.2 1169.3 270.4 1170.9 271.6 1172.5 272.8 1174.1 274.1 1175.7 275.4 1177.2 276.7 1178.7 278 1180.3 279.3 1181.9 280.5 1183.4 281.8 1185 283.1 1186.5 284.5 1188 285.8 1189.6 287.1 1191.1 288.4 1192.7 289.7 1194.3 290.8 1196 291.9 1197.7 292.9 1199.4 293.8 1201.3 294.7 1203.1 295.5 1205 296.2 1206.9 297 1208.7 297.9 1210.5 298.8 1212.3 299.7 1214.1 300.7 1215.9 301.7 1217.6 302.7 1219.3 303.8 1220.8 305.1 1222.1 306.5 1223.4 308.1 1224.7 309.8 1226 311.3 1227.4 312.7 1228.9 314.1 1230.6 315.5 1232.3 316.8 1234.1 317.6 1235.9 317.8 1237.9 317.4 1239.9 316.6 1241.8 315.7 1243.3 314.7 1244.6 313.4 1245.7 311.8 1246.7 309.9 1247.7 308 1248.7 306.1 1249.6 304.2 1250.6 302.5 1251.4 300.6 1252.3 298.8 1253.2 297 1254 295.2 1255 293.4 1256 291.7 1257.1 289.9 1258.2 288.2 1259.4 286.5 1260.7 284.9 1262 283.5 1263.4 282.2 1265 280.9 1266.7 279.7 1268.5 278.7 1270.4 278 1272.2 277.5 1274.2 277 1276.2 276.6 1278.3 276.4 1280.3 276.3 1282.3 276.3 1284.3 276.3 1286.3 276.3 1288.3 276.3 1290.3 276.3 1292.3 276.2 1294.3 276.2 1296.3 276.2 1298.3 276.2 1300.3 276.2 1302.4 276.2 1304.4 276.2 1306.4 276.2 1308.4 276.2 1310.4 276.2 1312.5 276.2 1314.5 276.2 1316.5 276.2 1318.5 276.2 1320.5 276.2 1322.5 276.2 1324.6 276.2 1326.6 276.2 1328.6 276.2 1330.6 276.2 1332.6 276.2 1334.6 276.2 1336.6 276.2 1338.6 276.2 1340.7 276.2 1342.7 276.2 1344.7 276.2 1346.7 276.2 1348.7 276.2 1350.7 276.1 1352.7 276.1 1354.7 276.1 1356.8 276.1 1358.8 276.1 1360.8 276.1 1362.8 276.1 1364.8 276.1 1366.8 276.1 1368.8 276.1 1370.9 276.1 1372.9 276.1 1374.9 276.1 1376.9 276.1 1378.9 276.1 1380.9 276.1 1382.9 276.1 1384.9 276.1 1387 276.1 1389 276.1 1391 276.1 1393 276.1 1395 276.1 1397 276.1 1399 276.1 1401 276.1 1403.1 276.1 1405.1 276.1 1407.1 276.1 1409.1 276.1 1411.1 276.1 1413.1 276.1 1415.1 276.1 1417.2 276.1 1419.2 276.1 1421.2 276.1 1423.2 276.1 1425.2 276.1 1427.2 276.1 1429.2 276.1 1431.2 276.1 1433.3 276.1 1435.3 276.1 1437.3 276.1 1439.3 276.1 1441.3 276.1 1443.3 276.1 1445.3 276.1 1447.3 276.1 1449.4 276.1 1451.4 276.1 1453.4 276.1 1455.4 276.1 1457.4 276.1 1459.4 276.1 1461.4 276.1 1463.5 276.1 1465.5 276.1 1467.5 276.1 1469.5 276.1 1471.5 276.1 1473.5 276.1 1475.5 276.1 1477.5 276.1 1479.6 276.1 1481.6 276.1 1483.6 276.1 1485.6 276.1 1487.6 276.1 1489.6 276.1 1491.6 276.1 1493.6 276.1 1495.7 276.1 1497.7 276.1 1499.7 276.1 1501.7 276.1 1503.7 276.1 1505.7 276.1 1507.7 276.1 1509.8 276.1 1511.8 276.1 1513.8 276.1 1515.8 276.1 1517.8 276.1 1519.8 276.1 1521.8 276.1 1523.8 276.1 1525.9 276.1 1527.9 276.1 1529.9 276.1 1531.9 276.1 1533.9 276.1 1535.9 276.1 1537.9 276.1 1539.9 276.1 1542 276.1 1544 276.1 1546 276.1 1548 276.1" stroke="#4868ef" stroke-width="7"/>
</g>
<rect x="1092.4" y="36.7" width="455.9" height="343.5" fill="none" stroke="#222" stroke-width="1.6"/>
<path d="M1089.4 376.4h3M1089.4 370.5h3M1089.4 364.5h3M1089.4 358.6h3M1089.4 352.7h3M1089.4 346.8h3M1089.4 340.9h3M1086.4 335h6M1089.4 329.1h3M1089.4 323.2h3M1089.4 317.3h3M1089.4 311.4h3M1089.4 305.4h3M1089.4 299.5h3M1089.4 293.6h3M1089.4 287.7h3M1089.4 281.8h3M1086.4 275.9h6M1089.4 270h3M1089.4 264.1h3M1089.4 258.2h3M1089.4 252.3h3M1089.4 246.3h3M1089.4 240.4h3M1089.4 234.5h3M1089.4 228.6h3M1089.4 222.7h3M1086.4 216.8h6M1089.4 210.9h3M1089.4 205h3M1089.4 199.1h3M1089.4 193.2h3M1089.4 187.2h3M1089.4 181.3h3M1089.4 175.4h3M1089.4 169.5h3M1089.4 163.6h3M1086.4 157.7h6M1089.4 151.8h3M1089.4 145.9h3M1089.4 140h3M1089.4 134.1h3M1089.4 128.1h3M1089.4 122.2h3M1089.4 116.3h3M1089.4 110.4h3M1089.4 104.5h3M1086.4 98.6h6M1089.4 92.7h3M1089.4 86.8h3M1089.4 80.9h3M1089.4 75h3M1089.4 69h3M1089.4 63.1h3M1089.4 57.2h3M1089.4 51.3h3M1089.4 45.4h3M1086.4 39.5h6M1103.8 380.2v2.8M1115.2 380.2v2.8M1126.6 380.2v2.8M1138 380.2v2.8M1149.4 380.2v2.8M1160.8 380.2v2.8M1172.2 380.2v2.8M1183.6 380.2v2.8M1195 380.2v2.8M1206.4 380.2v5.5M1217.8 380.2v2.8M1229.2 380.2v2.8M1240.6 380.2v2.8M1252 380.2v2.8M1263.4 380.2v2.8M1274.8 380.2v2.8M1286.2 380.2v2.8M1297.6 380.2v2.8M1309 380.2v2.8M1320.3 380.2v5.5M1331.7 380.2v2.8M1343.1 380.2v2.8M1354.5 380.2v2.8M1365.9 380.2v2.8M1377.3 380.2v2.8M1388.7 380.2v2.8M1400.1 380.2v2.8M1411.5 380.2v2.8M1422.9 380.2v2.8M1434.3 380.2v5.5M1445.7 380.2v2.8M1457.1 380.2v2.8M1468.5 380.2v2.8M1479.9 380.2v2.8M1491.3 380.2v2.8M1502.7 380.2v2.8M1514.1 380.2v2.8M1525.5 380.2v2.8M1536.9 380.2v2.8" stroke="#222" stroke-width="1.5" fill="none"/>
<text class="tk" x="1083.9" y="47.1" text-anchor="end">4.0</text>
<text class="tk" x="1083.9" y="106.2" text-anchor="end">3.0</text>
<text class="tk" x="1083.9" y="165.3" text-anchor="end">2.0</text>
<text class="tk" x="1083.9" y="224.4" text-anchor="end">1.0</text>
<text class="tk" x="1083.9" y="283.5" text-anchor="end">0.0</text>
<text class="tk" x="1083.9" y="342.6" text-anchor="end">1.0</text>
<text class="xt" x="1206.4" y="403" text-anchor="middle">0.5</text>
<text class="xt" x="1320.3" y="403" text-anchor="middle">1.0</text>
<text class="xt" x="1434.3" y="403" text-anchor="middle">1.5</text>
<text class="xl" x="1319.5" y="428.8" text-anchor="middle">Depth (m)</text>
<text class="yl" transform="translate(1037 211.4) rotate(-90)" text-anchor="middle" textLength="281" lengthAdjust="spacingAndGlyphs">Horizontal Velocity (m/s)</text>
<clipPath id="c2"><rect x="319.6" y="522.8" width="455.9" height="350.2"/></clipPath>
<g clip-path="url(#c2)" fill="none" stroke-linejoin="round" stroke-linecap="round">
<path d="M321 590L321 592 321 594 321 596 321.1 598 321.1 600.1 321.1 602.1 321.1 604.1 321.1 606.1 321.2 608.1 321.2 610.1 321.2 612.1 321.3 614.1 321.3 616.2 321.3 618.2 321.4 620.2 321.4 622.2 321.4 624.2 321.5 626.2 321.5 628.2 321.6 630.2 321.6 632.2 321.6 634.3 321.7 636.3 321.7 638.3 321.8 640.3 321.8 642.3 321.9 644.3 321.9 646.3 322 648.3 322 650.3 322.1 652.3 322.1 654.4 322.2 656.4 322.2 658.4 322.3 660.4 322.3 662.4 322.4 664.4 322.5 666.4 322.5 668.4 322.6 670.5 322.7 672.5 322.7 674.5 322.8 676.5 322.9 678.5 323 680.5 323.1 682.5 323.2 684.5 323.3 686.5 323.4 688.5 323.5 690.6 323.6 692.6 323.7 694.6 323.8 696.6 323.9 698.6 324 700.6 324.2 702.6 324.3 704.6 324.4 706.7 324.6 708.7 324.7 710.7 324.9 712.8 325.1 714.8 325.3 716.8 325.6 718.8 325.8 720.8 326.1 722.8 326.4 724.7 326.7 726.7 327.1 728.6 327.6 730.8 328.4 733.1 329.2 735.5 330.2 737.5 331.3 739.1 332.5 739.9 333.9 739.9 335.6 739.4 337.7 738.6 339.8 737.8 341.8 737.1 343.7 736.4 345.6 735.7 347.6 735 349.5 734.4 351.4 734.1 353.4 733.9 355.4 733.7 357.5 733.6 359.5 733.5 361.5 733.5 363.4 733.6 365.3 734.1 367.2 734.8 369.1 735.7 370.9 736.7 372.7 737.7 374.5 738.7 376.3 739.7 378 740.7 379.7 741.7 381.4 742.8 383.1 743.9 384.7 745.1 386.4 746.2 388 747.4 389.7 748.5 391.4 749.7 393.1 750.8 394.8 751.9 396.5 752.9 398.2 753.9 399.9 754.9 401.7 756 403.4 757 405.2 758 406.9 759 408.7 759.9 410.4 760.9 412.2 761.9 414 762.8 415.8 763.8 417.5 764.7 419.3 765.7 421.1 766.6 422.9 767.5 424.7 768.3 426.5 769.2 428.3 770.1 430.2 770.9 432 771.8 433.8 772.6 435.6 773.5 437.5 774.3 439.3 775.1 441.1 775.9 443 776.8 444.8 777.6 446.6 778.4 448.5 779.3 450.3 780.1 452.1 781 453.9 781.9 455.7 782.7 457.6 783.6 459.4 784.5 461.2 785.3 463 786.2 464.8 787.1 466.6 787.9 468.5 788.8 470.3 789.6 472.1 790.5 473.9 791.3 475.8 792.1 477.6 793 479.5 793.8 481.3 794.5 483.2 795.3 485.1 795.9 487 796.6 489 797.3 490.8 798 492.7 798.8 494.4 799.7 496.1 800.7 497.8 801.8 499.4 803 500.9 804.3 502.5 805.7 504 807.1 505.4 808.4 506.9 809.8 508.3 811.3 509.7 812.8 511.1 814.2 512.6 815.5 514.2 817.1 515.8 818 517.5 817.5 519.1 816.1 520.6 814.4 521.9 813 523.1 811.4 524.2 809.8 525.3 808 526.3 806.3 527.4 804.5 528.4 802.7 529.4 801 530.5 799.2 531.5 797.5 532.5 795.8 533.6 794 534.6 792.3 535.6 790.5 536.7 788.8 537.8 787.1 538.9 785.5 540.1 783.9 541.3 782.3 542.6 780.7 543.9 779.1 545.4 777.6 546.8 776.3 548.4 775.3 550.1 774.3 551.9 773.3 553.9 772.5 555.8 771.8 557.8 771.3 559.8 771 561.7 770.9 563.7 770.9 565.6 770.8 567.6 770.7 569.6 770.7 571.6 770.6 573.6 770.6 575.6 770.5 577.7 770.5 579.7 770.5 581.7 770.4 583.8 770.4 585.8 770.4 587.8 770.4 589.9 770.3 591.9 770.3 593.9 770.3 596 770.3 598 770.3 600 770.3 602 770.3 604 770.3 606 770.3 608 770.3 610.1 770.3 612.1 770.3 614.1 770.3 616.1 770.3 618.1 770.3 620.1 770.3 622.1 770.3 624.1 770.3 626.1 770.3 628.2 770.3 630.2 770.3 632.2 770.3 634.2 770.3 636.2 770.3 638.2 770.3 640.2 770.3 642.2 770.3 644.2 770.3 646.3 770.3 648.3 770.3 650.3 770.3 652.3 770.3 654.3 770.3 656.3 770.3 658.3 770.3 660.3 770.3 662.3 770.3 664.4 770.3 666.4 770.3 668.4 770.3 670.4 770.3 672.4 770.3 674.4 770.3 676.4 770.3 678.4 770.3 680.5 770.3 682.5 770.3 684.5 770.3 686.5 770.3 688.5 770.3 690.5 770.3 692.5 770.3 694.5 770.3 696.5 770.3 698.6 770.3 700.6 770.3 702.6 770.3 704.6 770.3 706.6 770.3 708.6 770.3 710.6 770.3 712.6 770.3 714.6 770.3 716.7 770.3 718.7 770.3 720.7 770.3 722.7 770.3 724.7 770.3 726.7 770.3 728.7 770.3 730.7 770.3 732.8 770.3 734.8 770.3 736.8 770.3 738.8 770.3 740.8 770.3 742.8 770.3 744.8 770.3 746.8 770.3 748.8 770.3 750.9 770.3 752.9 770.3 754.9 770.3 756.9 770.3 758.9 770.3 760.9 770.3 762.9 770.3 764.9 770.3 767 770.3 769 770.3 771 770.3 773 770.3 775 770.3" stroke="#8a3761" stroke-width="9.5"/>
<path d="M320 586L320 588 320 590 320 592 320.1 594 320.1 596 320.1 598 320.1 600.1 320.1 602.1 320.1 604.1 320.1 606.1 320.1 608.1 320.2 610.1 320.2 612.1 320.2 614.1 320.2 616.1 320.2 618.1 320.2 620.1 320.3 622.1 320.3 624.1 320.3 626.2 320.3 628.2 320.3 630.2 320.3 632.2 320.4 634.2 320.4 636.2 320.4 638.2 320.4 640.2 320.4 642.2 320.4 644.2 320.5 646.2 320.5 648.2 320.5 650.2 320.5 652.2 320.5 654.3 320.6 656.3 320.6 658.3 320.6 660.3 320.6 662.3 320.6 664.3 320.6 666.3 320.7 668.3 320.7 670.3 320.7 672.3 320.7 674.3 320.7 676.3 320.7 678.3 320.8 680.4 320.8 682.4 320.8 684.4 320.8 686.4 320.8 688.4 320.9 690.4 320.9 692.4 320.9 694.4 320.9 696.4 321 698.4 321 700.4 321 702.4 321 704.4 321.1 706.5 321.1 708.5 321.1 710.5 321.2 712.5 321.2 714.5 321.2 716.5 321.3 718.5 321.3 720.5 321.4 722.5 321.4 724.5 321.4 726.5 321.5 728.6 321.6 730.6 321.6 732.6 321.7 734.6 321.8 736.6 321.9 738.6 322 740.6 322.1 742.6 322.2 744.6 322.4 746.6 322.6 748.6 322.8 750.7 323.2 752.8 323.7 754.8 324.4 756.7 325.1 758.2 326.4 759.7 328.2 761.1 330.2 761.9 332 762 334 762 335.9 762 338 762 340.1 762 342.1 762 344.2 762 346.2 762 348.2 761.9 350.2 761.7 352.2 761.4 354.2 761.1 356.1 760.7 358.1 760.4 360.1 760 362.1 759.7 364.1 759.4 366.1 759.2 368.1 759 370.1 759 372.1 759 374.1 759 376.1 759.1 378.1 759.1 380.2 759.1 382.2 759.2 384.2 759.3 386.2 759.3 388.2 759.4 390.2 759.5 392.1 759.7 394.1 760 396.1 760.3 398 760.8 400 761.3 401.9 761.9 403.9 762.5 405.8 763.2 407.7 763.8 409.6 764.4 411.6 765 413.4 765.6 415.3 766.3 417.2 767 419.1 767.7 421 768.5 422.8 769.2 424.7 770 426.6 770.7 428.4 771.4 430.3 772.1 432.2 772.8 434.1 773.5 436 774.1 437.9 774.8 439.8 775.4 441.7 776.1 443.6 776.7 445.5 777.4 447.4 778 449.3 778.6 451.2 779.3 453.1 779.9 455.1 780.5 457 781.1 458.9 781.7 460.8 782.3 462.7 782.9 464.7 783.6 466.6 784.3 468.5 785 470.4 785.7 472.4 786.3 474.3 786.8 476.3 787.2 478.2 787.4 480.2 787.5 482.2 787.4 484.1 787.2 486.2 786.9 488.2 786.6 490.1 786.2 492.1 785.7 494.1 785.2 496 784.7 497.8 784.1 499.7 783.3 501.5 782.4 503.3 781.5 505.1 780.6 507 779.7 508.8 778.9 510.7 778.3 512.6 777.7 514.5 777.1 516.5 776.5 518.4 776 520.4 775.5 522.3 775 524.3 774.5 526.3 774.1 528.2 773.8 530.2 773.5 532.2 773.2 534.2 772.9 536.2 772.7 538.1 772.4 540.1 772.2 542.1 772 544.2 771.8 546.2 771.6 548.2 771.4 550.2 771.3 552.2 771.1 554.2 771 556.2 771 558.2 770.9 560.2 770.8 562.2 770.7 564.2 770.7 566.2 770.6 568.2 770.6 570.2 770.5 572.2 770.4 574.2 770.4 576.2 770.3 578.2 770.3 580.3 770.3 582.3 770.2 584.3 770.2 586.3 770.1 588.3 770.1 590.3 770.1 592.3 770.1 594.3 770 596.3 770 598.3 770 600.3 770 602.3 770 604.4 770 606.4 770 608.4 770 610.4 770 612.4 769.9 614.4 769.9 616.4 769.9 618.4 769.9 620.4 769.9 622.4 769.9 624.4 769.9 626.4 769.9 628.4 769.9 630.4 769.9 632.5 769.9 634.5 769.8 636.5 769.8 638.5 769.8 640.5 769.8 642.5 769.8 644.5 769.8 646.5 769.8 648.5 769.8 650.5 769.8 652.5 769.8 654.5 769.8 656.5 769.8 658.6 769.8 660.6 769.8 662.6 769.8 664.6 769.7 666.6 769.7 668.6 769.7 670.6 769.7 672.6 769.7 674.6 769.7 676.6 769.7 678.6 769.7 680.6 769.7 682.6 769.7 684.7 769.7 686.7 769.7 688.7 769.7 690.7 769.7 692.7 769.7 694.7 769.7 696.7 769.7 698.7 769.7 700.7 769.7 702.7 769.7 704.7 769.7 706.7 769.7 708.7 769.7 710.8 769.6 712.8 769.6 714.8 769.6 716.8 769.6 718.8 769.6 720.8 769.6 722.8 769.6 724.8 769.6 726.8 769.6 728.8 769.6 730.8 769.6 732.8 769.6 734.8 769.6 736.9 769.6 738.9 769.6 740.9 769.6 742.9 769.6 744.9 769.6 746.9 769.6 748.9 769.6 750.9 769.6 752.9 769.6 754.9 769.6 756.9 769.6 758.9 769.6 760.9 769.6 763 769.6 765 769.6 767 769.6 769 769.6 771 769.6 773 769.6 775 769.6" stroke="#00007f" stroke-width="10"/>
<path d="M321 586L321 588 321.1 590 321.1 592 321.1 594 321.2 596 321.2 598.1 321.2 600.1 321.3 602.1 321.3 604.1 321.3 606.1 321.4 608.1 321.4 610.1 321.4 612.1 321.5 614.1 321.5 616.1 321.6 618.2 321.6 620.2 321.6 622.2 321.7 624.2 321.7 626.2 321.8 628.2 321.8 630.2 321.8 632.2 321.9 634.2 321.9 636.2 322 638.3 322 640.3 322 642.3 322.1 644.3 322.1 646.3 322.2 648.3 322.2 650.3 322.2 652.3 322.3 654.3 322.3 656.3 322.4 658.3 322.4 660.4 322.5 662.4 322.5 664.4 322.6 666.4 322.6 668.4 322.7 670.4 322.7 672.4 322.8 674.4 322.9 676.4 322.9 678.4 323 680.4 323.1 682.5 323.2 684.5 323.3 686.5 323.4 688.5 323.5 690.5 323.6 692.5 323.8 694.5 323.9 696.5 324.1 698.5 324.2 700.5 324.4 702.5 324.5 704.5 324.7 706.5 324.9 708.5 325 710.5 325.2 712.5 325.4 714.6 325.6 716.6 325.8 718.6 326 720.6 326.3 722.6 326.5 724.6 326.8 726.6 327.1 728.6 327.5 730.5 327.9 732.5 328.3 734.4 328.9 736.5 329.7 738.5 330.6 740.5 331.6 742.3 332.7 743.7 334 744.8 335.8 745.8 337.8 746.6 339.8 747 341.8 746.9 343.8 746.6 345.8 746.3 347.8 745.9 349.8 745.6 351.8 745.5 353.8 745.5 355.8 745.5 357.9 745.5 359.9 745.5 361.9 745.5 363.9 745.5 365.9 745.5 367.8 745.8 369.7 746.3 371.6 747 373.5 747.9 375.4 748.8 377.2 749.7 379.1 750.6 380.9 751.4 382.7 752.3 384.5 753.2 386.2 754.1 388 755.1 389.7 756.1 391.5 757.1 393.2 758.2 395 759.2 396.7 760.2 398.5 761.2 400.2 762.1 402 763.1 403.8 764 405.6 764.9 407.4 765.8 409.2 766.7 411 767.6 412.8 768.5 414.6 769.4 416.4 770.3 418.2 771.1 420 772 421.8 772.9 423.7 773.7 425.5 774.5 427.3 775.4 429.2 776.2 431 777 432.8 777.8 434.7 778.6 436.5 779.4 438.3 780.3 440.2 781.1 442 781.9 443.8 782.8 445.7 783.6 447.5 784.5 449.3 785.3 451.1 786.2 452.9 787 454.8 787.8 456.6 788.6 458.5 789.4 460.3 790.1 462.2 790.8 464.2 791.4 466.1 792 468 792.6 470 793.2 471.9 793.8 473.8 794.4 475.7 795.1 477.5 795.8 479.3 796.6 481.2 797.5 483 798.4 484.7 799.5 486.4 800.5 488.1 801.6 489.7 802.8 491.3 804 492.7 805.5 494.1 807 495.4 808.5 496.8 810 498.2 811.5 499.7 812.8 501.3 814 503.1 815.3 504.8 816 506.3 815.5 507.8 813.9 509.1 812 510.2 810.2 511.2 808.5 512.1 806.7 513 804.8 513.8 803 514.7 801.2 515.6 799.4 516.5 797.6 517.4 795.7 518.3 794 519.3 792.2 520.3 790.5 521.4 788.9 522.7 787.3 523.9 785.7 525.2 784.1 526.5 782.6 527.8 781 529.1 779.4 530.4 777.8 531.8 776.3 533.2 774.9 534.7 773.7 536.3 772.7 538.1 771.8 540 770.9 542 770.2 543.9 769.7 545.9 769.4 547.8 769.2 549.8 769 551.9 768.8 553.9 768.7 555.9 768.6 557.9 768.5 559.9 768.5 562 768.5 564 768.5 566 768.6 568 768.6 570 768.6 572 768.7 574 768.8 576 768.8 578 768.9 580 769 582 769.1 584.1 769.1 586.1 769.2 588.1 769.3 590.1 769.3 592.1 769.4 594.1 769.4 596.1 769.5 598.1 769.5 600.1 769.5 602.1 769.5 604.2 769.5 606.2 769.5 608.2 769.5 610.2 769.5 612.2 769.5 614.2 769.6 616.2 769.6 618.2 769.6 620.2 769.6 622.2 769.6 624.3 769.6 626.3 769.6 628.3 769.6 630.3 769.6 632.3 769.6 634.3 769.6 636.3 769.6 638.3 769.6 640.3 769.6 642.3 769.6 644.3 769.6 646.4 769.7 648.4 769.7 650.4 769.7 652.4 769.7 654.4 769.7 656.4 769.7 658.4 769.7 660.4 769.7 662.4 769.7 664.4 769.7 666.5 769.7 668.5 769.7 670.5 769.7 672.5 769.7 674.5 769.7 676.5 769.7 678.5 769.7 680.5 769.7 682.5 769.7 684.5 769.7 686.6 769.7 688.6 769.7 690.6 769.7 692.6 769.7 694.6 769.7 696.6 769.7 698.6 769.8 700.6 769.8 702.6 769.8 704.6 769.8 706.7 769.8 708.7 769.8 710.7 769.8 712.7 769.8 714.7 769.8 716.7 769.8 718.7 769.8 720.7 769.8 722.7 769.8 724.7 769.8 726.8 769.8 728.8 769.8 730.8 769.8 732.8 769.8 734.8 769.8 736.8 769.8 738.8 769.8 740.8 769.8 742.8 769.8 744.8 769.8 746.9 769.8 748.9 769.8 750.9 769.8 752.9 769.8 754.9 769.8 756.9 769.8 758.9 769.8 760.9 769.8 762.9 769.8 764.9 769.8 767 769.8 769 769.8 771 769.8 773 769.8 775 769.8" stroke="#4868ef" stroke-width="7"/>
</g>
<rect x="319.6" y="530.8" width="455.9" height="342.2" fill="none" stroke="#222" stroke-width="1.6"/>
<path d="M316.6 869.7h3M316.6 863.8h3M316.6 857.9h3M316.6 852h3M316.6 846.1h3M316.6 840.2h3M316.6 834.3h3M313.6 828.4h6M316.6 822.5h3M316.6 816.6h3M316.6 810.7h3M316.6 804.8h3M316.6 798.9h3M316.6 793h3M316.6 787.1h3M316.6 781.2h3M316.6 775.3h3M313.6 769.4h6M316.6 763.5h3M316.6 757.6h3M316.6 751.7h3M316.6 745.8h3M316.6 739.9h3M316.6 734h3M316.6 728.1h3M316.6 722.2h3M316.6 716.3h3M313.6 710.4h6M316.6 704.5h3M316.6 698.6h3M316.6 692.7h3M316.6 686.8h3M316.6 680.9h3M316.6 675h3M316.6 669.1h3M316.6 663.2h3M316.6 657.3h3M313.6 651.4h6M316.6 645.5h3M316.6 639.6h3M316.6 633.7h3M316.6 627.8h3M316.6 621.9h3M316.6 616h3M316.6 610.1h3M316.6 604.2h3M316.6 598.3h3M313.6 592.4h6M316.6 586.5h3M316.6 580.6h3M316.6 574.7h3M316.6 568.8h3M316.6 562.9h3M316.6 557h3M316.6 551.1h3M316.6 545.2h3M316.6 539.3h3M313.6 533.4h6M331 873v2.8M342.4 873v2.8M353.8 873v2.8M365.2 873v2.8M376.6 873v2.8M388 873v2.8M399.4 873v2.8M410.8 873v2.8M422.2 873v2.8M433.6 873v5.5M445 873v2.8M456.4 873v2.8M467.8 873v2.8M479.2 873v2.8M490.6 873v2.8M502 873v2.8M513.4 873v2.8M524.8 873v2.8M536.2 873v2.8M547.5 873v5.5M558.9 873v2.8M570.3 873v2.8M581.7 873v2.8M593.1 873v2.8M604.5 873v2.8M615.9 873v2.8M627.3 873v2.8M638.7 873v2.8M650.1 873v2.8M661.5 873v5.5M672.9 873v2.8M684.3 873v2.8M695.7 873v2.8M707.1 873v2.8M718.5 873v2.8M729.9 873v2.8M741.3 873v2.8M752.7 873v2.8M764.1 873v2.8" stroke="#222" stroke-width="1.5" fill="none"/>
<text class="tk" x="311.1" y="541" text-anchor="end">4.0</text>
<text class="tk" x="311.1" y="600" text-anchor="end">3.0</text>
<text class="tk" x="311.1" y="659" text-anchor="end">2.0</text>
<text class="tk" x="311.1" y="718" text-anchor="end">1.0</text>
<text class="tk" x="311.1" y="777" text-anchor="end">0.0</text>
<text class="tk" x="311.1" y="836" text-anchor="end">1.0</text>
<text class="xt" x="433.6" y="895.8" text-anchor="middle">0.5</text>
<text class="xt" x="547.5" y="895.8" text-anchor="middle">1.0</text>
<text class="xt" x="661.5" y="895.8" text-anchor="middle">1.5</text>
<text class="xl" x="546.8" y="921.6" text-anchor="middle">Depth (m)</text>
<text class="yl" transform="translate(264.2 704.9) rotate(-90)" text-anchor="middle" textLength="281" lengthAdjust="spacingAndGlyphs">Horizontal Velocity (m/s)</text>
<clipPath id="c3"><rect x="1091.1" y="522.8" width="456" height="350.2"/></clipPath>
<g clip-path="url(#c3)" fill="none" stroke-linejoin="round" stroke-linecap="round">
<path d="M1092.5 540L1092.5 542 1092.5 544 1092.6 546 1092.6 548 1092.6 550.1 1092.6 552.1 1092.7 554.1 1092.7 556.1 1092.7 558.1 1092.7 560.1 1092.8 562.1 1092.8 564.1 1092.8 566.1 1092.9 568.1 1092.9 570.2 1092.9 572.2 1093 574.2 1093 576.2 1093.1 578.2 1093.1 580.2 1093.1 582.2 1093.2 584.2 1093.2 586.2 1093.3 588.2 1093.3 590.3 1093.3 592.3 1093.4 594.3 1093.4 596.3 1093.5 598.3 1093.5 600.3 1093.5 602.3 1093.6 604.3 1093.6 606.3 1093.7 608.3 1093.7 610.4 1093.8 612.4 1093.8 614.4 1093.9 616.4 1093.9 618.4 1094 620.4 1094 622.4 1094.1 624.4 1094.1 626.4 1094.2 628.5 1094.2 630.5 1094.3 632.5 1094.4 634.5 1094.4 636.5 1094.5 638.5 1094.6 640.5 1094.7 642.5 1094.8 644.5 1094.8 646.5 1094.9 648.5 1095 650.5 1095.1 652.6 1095.2 654.6 1095.4 656.6 1095.5 658.6 1095.6 660.7 1095.8 662.7 1096 664.8 1096.2 666.8 1096.4 668.8 1096.6 670.8 1096.9 672.8 1097.1 674.8 1097.4 676.7 1097.7 678.6 1098.1 680.5 1098.6 682.5 1099.3 684.6 1100.2 686.6 1101.2 688.5 1102.3 690.2 1103.5 691.6 1104.9 692.5 1106.7 693.2 1108.8 693.8 1110.9 694.5 1112.5 695.3 1114 696.6 1115.4 698 1116.7 699.6 1118 701.3 1119.2 703 1120.4 704.6 1121.6 706.2 1122.7 707.9 1123.8 709.5 1124.9 711.3 1126 713 1127.1 714.6 1128.2 716.3 1129.4 717.9 1130.5 719.6 1131.7 721.2 1132.9 722.8 1134.1 724.5 1135.3 726.1 1136.5 727.7 1137.7 729.3 1138.9 730.9 1140.2 732.6 1141.4 734.2 1142.6 735.8 1143.9 737.4 1145.2 739 1146.5 740.5 1147.8 741.9 1149.2 743.3 1150.7 744.6 1152.2 745.8 1153.8 747 1155.4 748.2 1157.1 749.3 1158.8 750.4 1160.5 751.5 1162.2 752.6 1164 753.6 1165.8 754.6 1167.5 755.6 1169.3 756.6 1171 757.6 1172.8 758.5 1174.6 759.5 1176.4 760.4 1178.2 761.3 1180 762.2 1181.8 763.1 1183.6 764 1185.4 764.8 1187.2 765.7 1189 766.5 1190.9 767.4 1192.7 768.3 1194.5 769.1 1196.3 769.9 1198.2 770.7 1200 771.6 1201.8 772.4 1203.7 773.2 1205.5 774 1207.4 774.8 1209.2 775.6 1211 776.5 1212.9 777.3 1214.7 778.1 1216.6 778.9 1218.4 779.7 1220.3 780.5 1222.1 781.3 1224 782.1 1225.8 782.9 1227.6 783.8 1229.4 784.7 1231.2 785.6 1232.9 786.5 1234.7 787.5 1236.5 788.5 1238.2 789.5 1239.9 790.5 1241.7 791.6 1243.4 792.6 1245.1 793.7 1246.8 794.8 1248.4 795.9 1250.1 797.1 1251.7 798.2 1253.4 799.4 1255 800.6 1256.6 801.8 1258.2 803.1 1259.7 804.3 1261.3 805.6 1262.8 807 1264.3 808.3 1265.7 809.7 1267.1 811.1 1268.5 812.5 1269.9 814 1271.3 815.5 1272.6 817 1274 818.5 1275.3 820 1276.6 821.6 1277.8 823.2 1279 824.8 1280.3 826.4 1281.4 828 1282.5 829.6 1283.6 831.4 1284.7 833.1 1285.8 834.8 1286.8 836.5 1288 838.2 1289.1 839.8 1290.3 841.4 1291.5 843.2 1292.8 845.2 1294.1 847.1 1295.4 848.9 1296.8 850.5 1298.3 851.5 1299.8 852 1301.6 851.7 1303.7 850.8 1305.5 849.6 1306.4 848.3 1307 846.9 1307.6 845.1 1308 843.2 1308.4 841.1 1308.7 838.9 1309.1 836.6 1309.4 834.4 1309.7 832.3 1310.1 830.3 1310.5 828.3 1310.9 826.4 1311.3 824.4 1311.6 822.4 1312 820.4 1312.3 818.4 1312.7 816.4 1313 814.4 1313.4 812.4 1313.9 810.5 1314.3 808.6 1314.8 806.6 1315.4 804.7 1316 802.8 1316.7 800.8 1317.4 798.8 1318.2 796.9 1319 795 1320 793.3 1320.9 791.6 1322 790 1323.2 788.6 1324.5 787.2 1326 785.8 1327.7 784.5 1329.4 783.3 1331.1 782.1 1332.9 781.1 1334.7 780.2 1336.4 779.3 1338.2 778.5 1340.1 777.8 1341.9 777 1343.8 776.3 1345.8 775.7 1347.7 775.1 1349.7 774.5 1351.6 773.9 1353.6 773.4 1355.6 772.9 1357.6 772.5 1359.5 772.1 1361.5 771.7 1363.5 771.4 1365.4 771.1 1367.4 770.8 1369.4 770.5 1371.4 770.2 1373.4 770 1375.4 769.7 1377.4 769.5 1379.4 769.3 1381.4 769.1 1383.4 768.8 1385.4 768.6 1387.4 768.3 1389.4 768.1 1391.4 767.8 1393.4 767.5 1395.4 767.1 1397.4 766.8 1399.4 766.4 1401.4 766.1 1403.4 765.7 1405.3 765.5 1407.3 765.2 1409.3 765.1 1411.3 765 1413.3 765 1415.3 765.1 1417.3 765.1 1419.3 765.2 1421.4 765.4 1423.4 765.5 1425.4 765.6 1427.4 765.7 1429.4 765.9 1431.4 765.9 1433.4 766 1435.4 766 1437.4 766 1439.4 766 1441.5 765.9 1443.5 765.9 1445.5 765.8 1447.5 765.8 1449.5 765.7 1451.5 765.6 1453.5 765.6 1455.5 765.5 1457.5 765.5 1459.5 765.5 1461.6 765.5 1463.6 765.5 1465.6 765.5 1467.6 765.5 1469.6 765.5 1471.6 765.5 1473.6 765.5 1475.6 765.5 1477.6 765.5 1479.6 765.5 1481.7 765.5 1483.7 765.5 1485.7 765.5 1487.7 765.5 1489.7 765.5 1491.7 765.5 1493.7 765.5 1495.7 765.5 1497.7 765.5 1499.7 765.5 1501.8 765.6 1503.8 765.6 1505.8 765.6 1507.8 765.6 1509.8 765.6 1511.8 765.6 1513.8 765.6 1515.8 765.6 1517.8 765.6 1519.9 765.7 1521.9 765.7 1523.9 765.7 1525.9 765.7 1527.9 765.7 1529.9 765.8 1531.9 765.8 1533.9 765.8 1535.9 765.8 1537.9 765.8 1540 765.9 1542 765.9 1544 765.9 1546 766 1548 766" stroke="#8a3761" stroke-width="9.5"/>
<path d="M1092 537L1092 539 1092 541 1092 543 1092 545 1092.1 547 1092.1 549 1092.1 551.1 1092.1 553.1 1092.1 555.1 1092.1 557.1 1092.1 559.1 1092.1 561.1 1092.2 563.1 1092.2 565.1 1092.2 567.1 1092.2 569.1 1092.2 571.1 1092.2 573.1 1092.2 575.1 1092.2 577.2 1092.3 579.2 1092.3 581.2 1092.3 583.2 1092.3 585.2 1092.3 587.2 1092.3 589.2 1092.3 591.2 1092.3 593.2 1092.3 595.2 1092.4 597.2 1092.4 599.2 1092.4 601.2 1092.4 603.3 1092.4 605.3 1092.4 607.3 1092.4 609.3 1092.4 611.3 1092.5 613.3 1092.5 615.3 1092.5 617.3 1092.5 619.3 1092.5 621.3 1092.5 623.3 1092.5 625.3 1092.5 627.3 1092.6 629.4 1092.6 631.4 1092.6 633.4 1092.6 635.4 1092.6 637.4 1092.6 639.4 1092.6 641.4 1092.6 643.4 1092.6 645.4 1092.6 647.4 1092.6 649.4 1092.7 651.4 1092.7 653.4 1092.7 655.5 1092.7 657.5 1092.7 659.5 1092.7 661.5 1092.7 663.5 1092.7 665.5 1092.7 667.5 1092.8 669.5 1092.8 671.5 1092.8 673.5 1092.8 675.5 1092.8 677.5 1092.8 679.5 1092.8 681.6 1092.8 683.6 1092.9 685.6 1092.9 687.6 1092.9 689.6 1092.9 691.6 1092.9 693.6 1093 695.6 1093 697.6 1093 699.6 1093 701.6 1093 703.7 1093.1 705.7 1093.1 707.7 1093.1 709.8 1093.1 711.8 1093.2 713.9 1093.2 715.9 1093.3 718 1093.3 720 1093.4 722 1093.4 724 1093.5 726 1093.6 728 1093.7 730 1093.8 731.9 1093.9 733.8 1094.1 735.7 1094.8 738.1 1095.9 740.1 1097 741 1098.1 740.5 1099.2 739.1 1100.3 737.2 1101.5 735.1 1102.7 733 1103.9 731.1 1105.1 729.3 1106.3 727.3 1107.4 725.2 1108.6 723.3 1109.9 721.9 1111.3 721.1 1113 721 1114.9 721.2 1117.1 721.5 1119.2 721.8 1121 722.3 1122.7 723 1124.4 724 1126 725.2 1127.6 726.5 1129.1 727.9 1130.7 729.4 1132.2 730.8 1133.8 732.1 1135.5 733.3 1137.1 734.5 1138.8 735.6 1140.4 736.8 1142.1 737.9 1143.8 739 1145.4 740.1 1147.1 741.2 1148.8 742.3 1150.5 743.3 1152.3 744.3 1154 745.4 1155.7 746.3 1157.5 747.3 1159.2 748.3 1161 749.2 1162.8 750.2 1164.6 751.1 1166.3 752.1 1168.1 753 1169.9 753.9 1171.7 754.9 1173.5 755.8 1175.2 756.7 1177 757.6 1178.8 758.5 1180.6 759.4 1182.4 760.3 1184.2 761.2 1186 762.1 1187.8 763 1189.6 763.8 1191.5 764.7 1193.3 765.5 1195.1 766.4 1196.9 767.2 1198.8 768 1200.6 768.8 1202.4 769.6 1204.3 770.4 1206.1 771.3 1207.9 772.1 1209.8 772.9 1211.6 773.7 1213.5 774.5 1215.3 775.3 1217.2 776.1 1219 776.9 1220.9 777.7 1222.7 778.5 1224.5 779.3 1226.4 780.2 1228.1 781 1229.9 782 1231.7 782.9 1233.4 783.9 1235.2 784.9 1236.9 785.9 1238.6 787 1240.3 788.1 1242 789.2 1243.7 790.3 1245.4 791.5 1247 792.7 1248.6 793.9 1250.1 795.1 1251.6 796.4 1253.2 797.7 1254.7 799 1256.1 800.4 1257.6 801.8 1259 803.2 1260.4 804.7 1261.8 806.2 1263.1 807.7 1264.4 809.2 1265.6 810.8 1266.8 812.4 1268 814 1269.1 815.7 1270.2 817.3 1271.3 819 1272.4 820.8 1273.4 822.5 1274.5 824.2 1275.5 825.9 1276.5 827.9 1277.4 829.9 1278.3 831.9 1279.2 833.8 1280.3 835.4 1281.5 836.6 1283 837.5 1285.2 838.2 1287 838.5 1288.3 838.1 1289.5 837 1290.6 835.3 1291.6 833.3 1292.5 831 1293.4 828.7 1294.3 826.6 1295.2 824.7 1296 822.8 1296.8 821 1297.5 819.1 1298.2 817.3 1298.9 815.4 1299.6 813.5 1300.3 811.6 1301 809.7 1301.8 807.8 1302.6 806 1303.4 804.2 1304.2 802.3 1305.1 800.5 1305.9 798.6 1306.8 796.7 1307.7 794.9 1308.7 793.1 1309.7 791.4 1310.7 789.8 1311.9 788.2 1313.1 786.7 1314.4 785.1 1315.9 783.6 1317.4 782.2 1319 780.9 1320.6 779.8 1322.3 778.9 1324 778.1 1325.8 777.3 1327.7 776.7 1329.7 776.1 1331.6 775.5 1333.6 775 1335.6 774.5 1337.6 774 1339.6 773.6 1341.6 773.2 1343.5 772.8 1345.5 772.4 1347.5 772.1 1349.5 771.7 1351.5 771.4 1353.5 771.1 1355.4 770.8 1357.4 770.5 1359.4 770.1 1361.4 769.8 1363.3 769.4 1365.3 768.9 1367.2 768.4 1369.2 767.9 1371.1 767.3 1373 766.7 1374.9 766 1376.8 765.4 1378.7 764.7 1380.6 764 1382.5 763.4 1384.4 762.7 1386.3 762.1 1388.2 761.4 1390.1 760.7 1392 760 1393.9 759.3 1395.8 758.7 1397.7 758.1 1399.6 757.6 1401.6 757.1 1403.5 756.7 1405.5 756.3 1407.5 755.9 1409.5 755.6 1411.5 755.5 1413.5 755.5 1415.5 755.7 1417.5 756 1419.5 756.3 1421.5 756.7 1423.4 757.1 1425.4 757.6 1427.2 758.2 1429 759 1430.8 760 1432.6 761 1434.4 762 1436.2 763 1438 763.8 1439.9 764.5 1441.8 765 1443.7 765.5 1445.7 766.1 1447.7 766.5 1449.7 766.9 1451.7 767.2 1453.7 767.4 1455.6 767.5 1457.6 767.6 1459.6 767.6 1461.6 767.6 1463.6 767.7 1465.6 767.7 1467.6 767.7 1469.6 767.8 1471.6 767.8 1473.6 767.8 1475.7 767.8 1477.7 767.8 1479.7 767.8 1481.7 767.9 1483.7 767.9 1485.7 767.9 1487.7 767.9 1489.8 767.9 1491.8 767.9 1493.8 767.9 1495.8 768 1497.8 768 1499.8 768 1501.8 768 1503.8 768 1505.8 768.1 1507.8 768.1 1509.9 768.1 1511.9 768.1 1513.9 768.1 1515.9 768.2 1517.9 768.2 1519.9 768.2 1521.9 768.2 1523.9 768.3 1525.9 768.3 1527.9 768.3 1529.9 768.3 1531.9 768.3 1533.9 768.4 1536 768.4 1538 768.4 1540 768.4 1542 768.4 1544 768.5 1546 768.5 1548 768.5" stroke="#00007f" stroke-width="10"/>
<path d="M1092.5 537L1092.5 539 1092.5 541 1092.5 543 1092.5 545 1092.5 547 1092.5 549 1092.5 551 1092.5 553.1 1092.5 555.1 1092.6 557.1 1092.6 559.1 1092.6 561.1 1092.6 563.1 1092.6 565.1 1092.6 567.1 1092.6 569.1 1092.7 571.1 1092.7 573.1 1092.7 575.1 1092.7 577.1 1092.7 579.1 1092.8 581.1 1092.8 583.1 1092.8 585.2 1092.8 587.2 1092.9 589.2 1092.9 591.2 1092.9 593.2 1092.9 595.2 1093 597.2 1093 599.2 1093 601.2 1093.1 603.2 1093.1 605.2 1093.1 607.2 1093.2 609.2 1093.3 611.2 1093.3 613.2 1093.4 615.2 1093.5 617.2 1093.5 619.2 1093.6 621.3 1093.7 623.3 1093.8 625.3 1093.9 627.3 1094 629.3 1094.1 631.3 1094.2 633.3 1094.3 635.3 1094.4 637.3 1094.5 639.3 1094.6 641.3 1094.7 643.3 1094.8 645.3 1094.9 647.3 1095 649.3 1095.1 651.3 1095.2 653.3 1095.4 655.3 1095.5 657.3 1095.6 659.3 1095.8 661.3 1095.9 663.3 1096.1 665.3 1096.3 667.3 1096.4 669.3 1096.6 671.3 1096.8 673.3 1097 675.3 1097.2 677.4 1097.4 679.4 1097.6 681.4 1097.9 683.4 1098.2 685.3 1098.5 687.3 1098.9 689.3 1099.3 691.2 1099.9 693.1 1100.6 695 1101.4 696.8 1102.3 698.7 1103.2 700.4 1104.2 702.1 1105.3 703.8 1106.5 705.4 1107.7 707.1 1109 708.7 1110.2 710.3 1111.4 711.8 1112.7 713.4 1113.9 715 1115.2 716.5 1116.5 718.1 1117.7 719.6 1119 721.2 1120.2 722.8 1121.4 724.4 1122.6 726 1123.8 727.6 1125.1 729.1 1126.5 730.6 1127.8 732.1 1129.2 733.6 1130.6 735 1132.1 736.4 1133.6 737.7 1135.1 739.1 1136.6 740.3 1138.1 741.6 1139.7 742.8 1141.3 744.1 1143 745.2 1144.6 746.4 1146.3 747.6 1147.9 748.7 1149.6 749.8 1151.3 750.8 1153 751.9 1154.7 752.9 1156.5 753.9 1158.2 754.9 1160 755.8 1161.8 756.8 1163.5 757.7 1165.3 758.6 1167.1 759.6 1168.9 760.5 1170.7 761.4 1172.5 762.2 1174.3 763.1 1176.1 763.9 1178 764.8 1179.8 765.6 1181.6 766.4 1183.5 767.2 1185.3 768 1187.2 768.8 1189 769.6 1190.9 770.4 1192.7 771.1 1194.6 771.9 1196.4 772.6 1198.3 773.3 1200.2 774.1 1202 774.8 1203.9 775.5 1205.8 776.3 1207.6 777 1209.5 777.8 1211.3 778.6 1213.2 779.4 1215 780.1 1216.9 780.9 1218.7 781.7 1220.6 782.5 1222.4 783.4 1224.2 784.2 1226 785.1 1227.8 785.9 1229.6 786.8 1231.4 787.7 1233.2 788.6 1235 789.6 1236.8 790.5 1238.5 791.5 1240.3 792.5 1242 793.6 1243.7 794.6 1245.3 795.7 1247 796.9 1248.6 798 1250.3 799.2 1251.9 800.5 1253.5 801.7 1255 803.1 1256.4 804.4 1257.8 805.8 1259.1 807.3 1260.4 808.8 1261.6 810.4 1262.8 812 1263.9 813.7 1265.1 815.4 1266.2 817.1 1267.2 818.8 1268.3 820.5 1269.3 822.2 1270.3 824 1271.3 825.8 1272.2 827.6 1273.1 829.3 1274.1 831.1 1275.2 832.8 1276.3 834.4 1277.5 836.3 1278.8 838.3 1280.2 840.1 1281.5 841.5 1282.9 842 1284.5 841.5 1286.2 840.2 1287.8 838.4 1288.9 836.7 1289.6 835 1290.2 833.2 1290.7 831.3 1291.2 829.3 1291.6 827.3 1291.9 825.2 1292.3 823.1 1292.7 821.1 1293.2 819.1 1293.7 817.2 1294.1 815.2 1294.6 813.3 1295 811.3 1295.5 809.3 1296 807.4 1296.5 805.4 1297 803.5 1297.5 801.6 1298.1 799.7 1298.7 797.8 1299.4 795.9 1300.1 794 1300.8 792.1 1301.6 790.2 1302.4 788.3 1303.2 786.5 1304.1 784.7 1305 783 1306 781.2 1307.1 779.5 1308.2 777.7 1309.4 776.1 1310.8 774.6 1312.2 773.4 1313.8 772.2 1315.6 771.1 1317.4 770.2 1319.4 769.6 1321.3 769.3 1323.2 769.1 1325.2 768.9 1327.2 768.8 1329.3 768.7 1331.3 768.6 1333.3 768.5 1335.3 768.5 1337.3 768.5 1339.3 768.5 1341.4 768.5 1343.4 768.5 1345.4 768.5 1347.4 768.5 1349.4 768.5 1351.4 768.5 1353.4 768.5 1355.4 768.5 1357.4 768.5 1359.4 768.5 1361.4 768.5 1363.4 768.5 1365.4 768.5 1367.4 768.5 1369.4 768.5 1371.4 768.5 1373.4 768.5 1375.5 768.5 1377.5 768.5 1379.5 768.5 1381.5 768.5 1383.5 768.5 1385.5 768.5 1387.5 768.5 1389.5 768.5 1391.5 768.5 1393.5 768.5 1395.5 768.5 1397.5 768.5 1399.5 768.5 1401.5 768.5 1403.6 768.5 1405.6 768.5 1407.6 768.5 1409.6 768.5 1411.6 768.5 1413.6 768.5 1415.6 768.5 1417.6 768.5 1419.6 768.5 1421.6 768.5 1423.6 768.5 1425.6 768.5 1427.6 768.5 1429.6 768.5 1431.6 768.5 1433.6 768.5 1435.7 768.5 1437.7 768.5 1439.7 768.5 1441.7 768.5 1443.7 768.6 1445.7 768.6 1447.7 768.6 1449.7 768.6 1451.7 768.6 1453.7 768.6 1455.7 768.6 1457.7 768.6 1459.7 768.6 1461.7 768.6 1463.7 768.6 1465.7 768.6 1467.8 768.6 1469.8 768.6 1471.8 768.6 1473.8 768.6 1475.8 768.7 1477.8 768.7 1479.8 768.7 1481.8 768.7 1483.8 768.7 1485.8 768.7 1487.8 768.7 1489.8 768.7 1491.8 768.7 1493.8 768.7 1495.8 768.7 1497.8 768.7 1499.9 768.8 1501.9 768.8 1503.9 768.8 1505.9 768.8 1507.9 768.8 1509.9 768.8 1511.9 768.8 1513.9 768.8 1515.9 768.8 1517.9 768.8 1519.9 768.8 1521.9 768.9 1523.9 768.9 1525.9 768.9 1527.9 768.9 1529.9 768.9 1532 768.9 1534 768.9 1536 768.9 1538 768.9 1540 769 1542 769 1544 769 1546 769 1548 769" stroke="#4868ef" stroke-width="7"/>
</g>
<rect x="1091.1" y="530.8" width="456" height="342.2" fill="none" stroke="#222" stroke-width="1.6"/>
<path d="M1088.1 869.7h3M1088.1 863.8h3M1088.1 857.9h3M1088.1 852h3M1088.1 846.1h3M1088.1 840.2h3M1088.1 834.3h3M1085.1 828.4h6M1088.1 822.5h3M1088.1 816.6h3M1088.1 810.7h3M1088.1 804.8h3M1088.1 798.9h3M1088.1 793h3M1088.1 787.1h3M1088.1 781.2h3M1088.1 775.3h3M1085.1 769.4h6M1088.1 763.5h3M1088.1 757.6h3M1088.1 751.7h3M1088.1 745.8h3M1088.1 739.9h3M1088.1 734h3M1088.1 728.1h3M1088.1 722.2h3M1088.1 716.3h3M1085.1 710.4h6M1088.1 704.5h3M1088.1 698.6h3M1088.1 692.7h3M1088.1 686.8h3M1088.1 680.9h3M1088.1 675h3M1088.1 669.1h3M1088.1 663.2h3M1088.1 657.3h3M1085.1 651.4h6M1088.1 645.5h3M1088.1 639.6h3M1088.1 633.7h3M1088.1 627.8h3M1088.1 621.9h3M1088.1 616h3M1088.1 610.1h3M1088.1 604.2h3M1088.1 598.3h3M1085.1 592.4h6M1088.1 586.5h3M1088.1 580.6h3M1088.1 574.7h3M1088.1 568.8h3M1088.1 562.9h3M1088.1 557h3M1088.1 551.1h3M1088.1 545.2h3M1088.1 539.3h3M1085.1 533.4h6M1102.5 873v2.8M1113.9 873v2.8M1125.3 873v2.8M1136.7 873v2.8M1148.1 873v2.8M1159.5 873v2.8M1170.9 873v2.8M1182.3 873v2.8M1193.7 873v2.8M1205.1 873v5.5M1216.5 873v2.8M1227.9 873v2.8M1239.3 873v2.8M1250.7 873v2.8M1262.1 873v2.8M1273.5 873v2.8M1284.9 873v2.8M1296.3 873v2.8M1307.7 873v2.8M1319.1 873v5.5M1330.5 873v2.8M1341.9 873v2.8M1353.3 873v2.8M1364.7 873v2.8M1376.1 873v2.8M1387.5 873v2.8M1398.9 873v2.8M1410.3 873v2.8M1421.7 873v2.8M1433.1 873v5.5M1444.5 873v2.8M1455.9 873v2.8M1467.3 873v2.8M1478.7 873v2.8M1490.1 873v2.8M1501.5 873v2.8M1512.9 873v2.8M1524.3 873v2.8M1535.7 873v2.8" stroke="#222" stroke-width="1.5" fill="none"/>
<text class="tk" x="1082.6" y="541" text-anchor="end">4.0</text>
<text class="tk" x="1082.6" y="600" text-anchor="end">3.0</text>
<text class="tk" x="1082.6" y="659" text-anchor="end">2.0</text>
<text class="tk" x="1082.6" y="718" text-anchor="end">1.0</text>
<text class="tk" x="1082.6" y="777" text-anchor="end">0.0</text>
<text class="tk" x="1082.6" y="836" text-anchor="end">1.0</text>
<text class="xt" x="1205.1" y="895.8" text-anchor="middle">0.5</text>
<text class="xt" x="1319.1" y="895.8" text-anchor="middle">1.0</text>
<text class="xt" x="1433.1" y="895.8" text-anchor="middle">1.5</text>
<text class="xl" x="1318.3" y="921.6" text-anchor="middle">Depth (m)</text>
<text class="yl" transform="translate(1035.7 704.9) rotate(-90)" text-anchor="middle" textLength="281" lengthAdjust="spacingAndGlyphs">Horizontal Velocity (m/s)</text>
<path d="M14 11h1553.5v7h-1553.5zM14 11h7v1103h-7zM14 1107h1554v7h-1554zM1558.5 11h9v987h-9zM1561 991h7v123h-7zM14 441h1554v7h-1554zM14 505h1554v7h-1554zM14 934h1554v7h-1554zM14 990.7h1554v7h-1554zM786 11h9v430h-9zM786 512h9v422h-9zM786 441h7v71h-7zM786 934h7v64h-7z" fill="#000"/>
<text class="cap" x="350.8" y="491.3" textLength="105" lengthAdjust="spacingAndGlyphs">t = 1.0 s</text>
<text class="cap" x="1122.9" y="488.4" textLength="105" lengthAdjust="spacingAndGlyphs">t = 2.0 s</text>
<text class="cap" x="352.9" y="981.5" textLength="105" lengthAdjust="spacingAndGlyphs">t = 3.0 s</text>
<text class="cap" x="1125.5" y="978.4" textLength="105" lengthAdjust="spacingAndGlyphs">t = 6.0 s</text>
<defs><linearGradient id="cbg" x1="0" x2="1" y1="0" y2="0"><stop offset="0" stop-color="#1e3a2f"/><stop offset="0.025" stop-color="#27443c"/><stop offset="0.05" stop-color="#2e504a"/><stop offset="0.0875" stop-color="#385f5b"/><stop offset="0.125" stop-color="#3e6a65"/><stop offset="0.1625" stop-color="#4e7f78"/><stop offset="0.2" stop-color="#5e918a"/><stop offset="0.225" stop-color="#6c9e97"/><stop offset="0.25" stop-color="#7aa9a2"/><stop offset="0.2875" stop-color="#8ab6ae"/><stop offset="0.3125" stop-color="#97c2b8"/><stop offset="0.3375" stop-color="#a2cbc2"/><stop offset="0.375" stop-color="#b3d6ce"/><stop offset="0.4" stop-color="#c3e0da"/><stop offset="0.425" stop-color="#d3e7e3"/><stop offset="0.4625" stop-color="#e3ecea"/><stop offset="0.5" stop-color="#f3f3f3"/><stop offset="0.5375" stop-color="#f2efe3"/><stop offset="0.575" stop-color="#f1e8d6"/><stop offset="0.6125" stop-color="#f0e4c6"/><stop offset="0.6375" stop-color="#e9dab0"/><stop offset="0.675" stop-color="#e0cc9e"/><stop offset="0.7125" stop-color="#d6be8c"/><stop offset="0.75" stop-color="#c0a06a"/><stop offset="0.8" stop-color="#b38f58"/><stop offset="0.8375" stop-color="#a57e48"/><stop offset="0.875" stop-color="#95703f"/><stop offset="0.9125" stop-color="#835a31"/><stop offset="0.95" stop-color="#6e4b28"/><stop offset="0.975" stop-color="#5a3e22"/><stop offset="1" stop-color="#48321b"/></linearGradient></defs>
<rect x="96" y="1009" width="1421" height="54" fill="url(#cbg)"/>
<path d="M95.5 1063v13.5M450.6 1063v13.5M805.8 1063v13.5M1160.9 1063v13.5M1516 1063v13.5" stroke="#222" stroke-width="1.6"/>
<text class="cb" x="79.7" y="1095" text-anchor="middle">-1.5</text>
<text class="cb" x="438" y="1095" text-anchor="middle">-0.75</text>
<text class="cb" x="792" y="1095" text-anchor="middle">0.0</text>
<text class="cb" x="1147" y="1095" text-anchor="middle">0.75</text>
<text class="cb" x="1503.4" y="1095" text-anchor="middle">1.5</text>
</svg></body></html>
